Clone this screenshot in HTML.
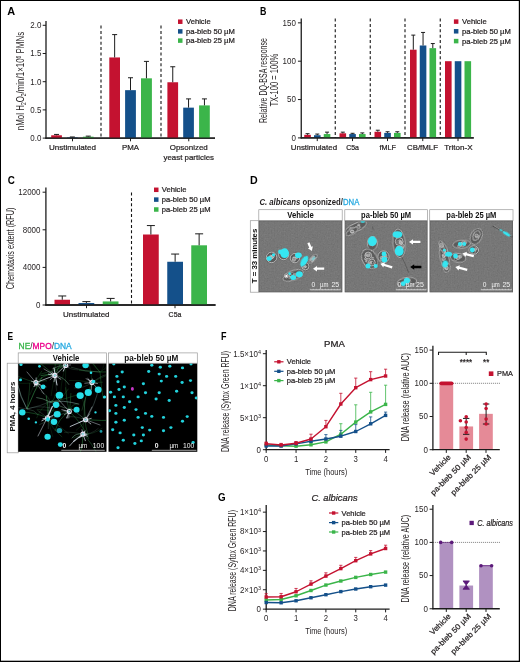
<!DOCTYPE html>
<html><head><meta charset="utf-8"><title>Figure</title>
<style>
html,body{margin:0;padding:0;background:#fff;}
body{width:520px;height:662px;overflow:hidden;font-family:"Liberation Sans",sans-serif;}
svg{display:block;will-change:transform;font-family:"Liberation Sans",sans-serif;}
</style></head><body>
<svg width="520" height="662" viewBox="0 0 520 662">
<rect x="0" y="0" width="520" height="662" fill="#fff"/>
<defs>
<filter id="b0" x="-30%" y="-30%" width="160%" height="160%"><feGaussianBlur stdDeviation="0.25"/></filter>
<filter id="b1" x="-30%" y="-30%" width="160%" height="160%"><feGaussianBlur stdDeviation="0.45"/></filter>
<filter id="b2" x="-30%" y="-30%" width="160%" height="160%"><feGaussianBlur stdDeviation="0.7"/></filter>
<filter id="noise" x="0" y="0" width="100%" height="100%"><feTurbulence type="fractalNoise" baseFrequency="0.7" numOctaves="2" seed="3" result="n"/><feColorMatrix in="n" type="matrix" values="0 0 0 0 0.52  0 0 0 0 0.52  0 0 0 0 0.52  0.11 0.11 0.11 0 -0.09" result="g"/><feComposite in="g" in2="SourceGraphic" operator="over"/></filter>
</defs>
<!--PANELS-->
<text x="7.2" y="15" font-size="10.5" text-anchor="start" font-weight="bold" font-style="normal" fill="#000" textLength="7.9" lengthAdjust="spacingAndGlyphs">A</text>
<line x1="46" y1="20.9" x2="46" y2="138.7" stroke="#1c1c1c" stroke-width="1.3"/>
<line x1="45.5" y1="138.1" x2="215" y2="138.1" stroke="#1c1c1c" stroke-width="1.3"/>
<line x1="42.7" y1="138.1" x2="46" y2="138.1" stroke="#1c1c1c" stroke-width="1.0"/>
<text x="41.4" y="140.95" font-size="8.4" text-anchor="end" font-weight="normal" font-style="normal" fill="#231f20" textLength="11.09" lengthAdjust="spacingAndGlyphs">0.0</text>
<line x1="42.7" y1="109.89999999999999" x2="46" y2="109.89999999999999" stroke="#1c1c1c" stroke-width="1.0"/>
<text x="41.4" y="112.74999999999999" font-size="8.4" text-anchor="end" font-weight="normal" font-style="normal" fill="#231f20" textLength="11.09" lengthAdjust="spacingAndGlyphs">0.5</text>
<line x1="42.7" y1="81.69999999999999" x2="46" y2="81.69999999999999" stroke="#1c1c1c" stroke-width="1.0"/>
<text x="41.4" y="84.54999999999998" font-size="8.4" text-anchor="end" font-weight="normal" font-style="normal" fill="#231f20" textLength="11.09" lengthAdjust="spacingAndGlyphs">1.0</text>
<line x1="42.7" y1="53.5" x2="46" y2="53.5" stroke="#1c1c1c" stroke-width="1.0"/>
<text x="41.4" y="56.35" font-size="8.4" text-anchor="end" font-weight="normal" font-style="normal" fill="#231f20" textLength="11.09" lengthAdjust="spacingAndGlyphs">1.5</text>
<line x1="42.7" y1="25.299999999999997" x2="46" y2="25.299999999999997" stroke="#1c1c1c" stroke-width="1.0"/>
<text x="41.4" y="28.15" font-size="8.4" text-anchor="end" font-weight="normal" font-style="normal" fill="#231f20" textLength="11.09" lengthAdjust="spacingAndGlyphs">2.0</text>
<text transform="translate(23.9,130.2) rotate(-90) scale(0.7214,1)" font-size="11" fill="#231f20">nMol H<tspan font-size="6.82" dy="1.6">2</tspan><tspan dy="-1.6">O</tspan><tspan font-size="6.82" dy="1.6">2</tspan><tspan dy="-1.6">/min/1×10</tspan><tspan font-size="6.82" dy="-3.3">6</tspan><tspan dy="3.3"> PMNs</tspan></text>
<line x1="101" y1="25.5" x2="101" y2="138.1" stroke="#141414" stroke-width="1.1" stroke-dasharray="3.0,2.4"/>
<line x1="161" y1="25.5" x2="161" y2="138.1" stroke="#141414" stroke-width="1.1" stroke-dasharray="3.0,2.4"/>
<rect x="51.20" y="135.28" width="10.70" height="2.82" fill="#C41230"/>
<line x1="56.55" y1="135.28" x2="56.55" y2="134.434" stroke="#1c1c1c" stroke-width="1.0"/>
<line x1="54.05" y1="134.434" x2="59.05" y2="134.434" stroke="#1c1c1c" stroke-width="1.0"/>
<rect x="67.00" y="137.42" width="10.70" height="0.68" fill="#14508A"/>
<line x1="72.35" y1="137.4232" x2="72.35" y2="136.972" stroke="#1c1c1c" stroke-width="1.0"/>
<line x1="69.85" y1="136.972" x2="74.85" y2="136.972" stroke="#1c1c1c" stroke-width="1.0"/>
<rect x="82.90" y="136.69" width="10.70" height="1.41" fill="#3BB54A"/>
<line x1="88.25" y1="136.69" x2="88.25" y2="136.126" stroke="#1c1c1c" stroke-width="1.0"/>
<line x1="85.75" y1="136.126" x2="90.75" y2="136.126" stroke="#1c1c1c" stroke-width="1.0"/>
<rect x="109.30" y="57.45" width="10.70" height="80.65" fill="#C41230"/>
<line x1="114.65" y1="57.44799999999999" x2="114.65" y2="34.605999999999995" stroke="#1c1c1c" stroke-width="1.0"/>
<line x1="112.15" y1="34.605999999999995" x2="117.15" y2="34.605999999999995" stroke="#1c1c1c" stroke-width="1.0"/>
<rect x="125.10" y="90.16" width="10.80" height="47.94" fill="#14508A"/>
<line x1="130.5" y1="90.16" x2="130.5" y2="77.752" stroke="#1c1c1c" stroke-width="1.0"/>
<line x1="128.0" y1="77.752" x2="133.0" y2="77.752" stroke="#1c1c1c" stroke-width="1.0"/>
<rect x="141.00" y="78.32" width="10.90" height="59.78" fill="#3BB54A"/>
<line x1="146.45" y1="78.316" x2="146.45" y2="61.39599999999999" stroke="#1c1c1c" stroke-width="1.0"/>
<line x1="143.95" y1="61.39599999999999" x2="148.95" y2="61.39599999999999" stroke="#1c1c1c" stroke-width="1.0"/>
<rect x="167.40" y="82.26" width="10.70" height="55.84" fill="#C41230"/>
<line x1="172.75" y1="82.264" x2="172.75" y2="66.754" stroke="#1c1c1c" stroke-width="1.0"/>
<line x1="170.25" y1="66.754" x2="175.25" y2="66.754" stroke="#1c1c1c" stroke-width="1.0"/>
<rect x="183.20" y="107.64" width="10.70" height="30.46" fill="#14508A"/>
<line x1="188.55" y1="107.64399999999999" x2="188.55" y2="98.902" stroke="#1c1c1c" stroke-width="1.0"/>
<line x1="186.05" y1="98.902" x2="191.05" y2="98.902" stroke="#1c1c1c" stroke-width="1.0"/>
<rect x="199.10" y="105.39" width="10.70" height="32.71" fill="#3BB54A"/>
<line x1="204.45" y1="105.388" x2="204.45" y2="98.902" stroke="#1c1c1c" stroke-width="1.0"/>
<line x1="201.95" y1="98.902" x2="206.95" y2="98.902" stroke="#1c1c1c" stroke-width="1.0"/>
<line x1="45.5" y1="138.1" x2="215" y2="138.1" stroke="#1c1c1c" stroke-width="1.3"/>
<line x1="72.5" y1="138.1" x2="72.5" y2="141.29999999999998" stroke="#1c1c1c" stroke-width="1.0"/>
<line x1="130.5" y1="138.1" x2="130.5" y2="141.29999999999998" stroke="#1c1c1c" stroke-width="1.0"/>
<line x1="188.75" y1="138.1" x2="188.75" y2="141.29999999999998" stroke="#1c1c1c" stroke-width="1.0"/>
<text x="72.5" y="150.1" font-size="8" text-anchor="middle" font-weight="normal" font-style="normal" fill="#231f20" textLength="47" lengthAdjust="spacingAndGlyphs" stroke="#231f20" stroke-width="0.22">Unstimulated</text>
<text x="130.5" y="150.1" font-size="8" text-anchor="middle" font-weight="normal" font-style="normal" fill="#231f20" textLength="17" lengthAdjust="spacingAndGlyphs" stroke="#231f20" stroke-width="0.22">PMA</text>
<text x="188.75" y="150.1" font-size="8" text-anchor="middle" font-weight="normal" font-style="normal" fill="#231f20" textLength="38" lengthAdjust="spacingAndGlyphs" stroke="#231f20" stroke-width="0.22">Opsonized</text>
<text x="188.75" y="159.6" font-size="8" text-anchor="middle" font-weight="normal" font-style="normal" fill="#231f20" textLength="50.5" lengthAdjust="spacingAndGlyphs" stroke="#231f20" stroke-width="0.22">yeast particles</text>
<rect x="178.00" y="19.45" width="4.50" height="4.50" fill="#C41230"/>
<text x="186" y="24.2" font-size="7.2" text-anchor="start" font-weight="normal" font-style="normal" fill="#231f20" textLength="24.644" lengthAdjust="spacingAndGlyphs" stroke="#231f20" stroke-width="0.22">Vehicle</text>
<rect x="178.00" y="29.15" width="4.50" height="4.50" fill="#14508A"/>
<text x="186" y="33.9" font-size="7.2" text-anchor="start" font-weight="normal" font-style="normal" fill="#231f20" textLength="48.8" lengthAdjust="spacingAndGlyphs" stroke="#231f20" stroke-width="0.22">pa-bleb 50 µM</text>
<rect x="178.00" y="38.35" width="4.50" height="4.50" fill="#3BB54A"/>
<text x="186" y="43.1" font-size="7.2" text-anchor="start" font-weight="normal" font-style="normal" fill="#231f20" textLength="48.8" lengthAdjust="spacingAndGlyphs" stroke="#231f20" stroke-width="0.22">pa-bleb 25 µM</text>
<text x="260" y="14.5" font-size="10.5" text-anchor="start" font-weight="bold" font-style="normal" fill="#000" textLength="6.4" lengthAdjust="spacingAndGlyphs">B</text>
<line x1="301.25" y1="18.5" x2="301.25" y2="138.4" stroke="#1c1c1c" stroke-width="1.3"/>
<line x1="300.75" y1="137.9" x2="473.75" y2="137.9" stroke="#1c1c1c" stroke-width="1.3"/>
<line x1="297.95" y1="137.9" x2="301.25" y2="137.9" stroke="#1c1c1c" stroke-width="1.0"/>
<text x="295.9" y="140.75" font-size="8.4" text-anchor="end" font-weight="normal" font-style="normal" fill="#231f20" textLength="4.44" lengthAdjust="spacingAndGlyphs">0</text>
<line x1="297.95" y1="99.55000000000001" x2="301.25" y2="99.55000000000001" stroke="#1c1c1c" stroke-width="1.0"/>
<text x="295.9" y="102.4" font-size="8.4" text-anchor="end" font-weight="normal" font-style="normal" fill="#231f20" textLength="8.88" lengthAdjust="spacingAndGlyphs">50</text>
<line x1="297.95" y1="61.2" x2="301.25" y2="61.2" stroke="#1c1c1c" stroke-width="1.0"/>
<text x="295.9" y="64.05" font-size="8.4" text-anchor="end" font-weight="normal" font-style="normal" fill="#231f20" textLength="13.31" lengthAdjust="spacingAndGlyphs">100</text>
<line x1="297.95" y1="22.85000000000001" x2="301.25" y2="22.85000000000001" stroke="#1c1c1c" stroke-width="1.0"/>
<text x="295.9" y="25.70000000000001" font-size="8.4" text-anchor="end" font-weight="normal" font-style="normal" fill="#231f20" textLength="13.31" lengthAdjust="spacingAndGlyphs">150</text>
<text x="0" y="0" transform="translate(266.6,123) rotate(-90)" font-size="11" text-anchor="start" font-weight="normal" font-style="normal" fill="#231f20" textLength="84.9" lengthAdjust="spacingAndGlyphs">Relative DQ-BSA response</text>
<text x="0" y="0" transform="translate(277.6,106.6) rotate(-90)" font-size="11" text-anchor="start" font-weight="normal" font-style="normal" fill="#231f20" textLength="52.7" lengthAdjust="spacingAndGlyphs">TX-100 = 100%</text>
<line x1="335.25" y1="18.5" x2="335.25" y2="137.9" stroke="#141414" stroke-width="1.1" stroke-dasharray="3.0,2.4"/>
<line x1="370.25" y1="18.5" x2="370.25" y2="137.9" stroke="#141414" stroke-width="1.1" stroke-dasharray="3.0,2.4"/>
<line x1="405" y1="18.5" x2="405" y2="137.9" stroke="#141414" stroke-width="1.1" stroke-dasharray="3.0,2.4"/>
<line x1="440.25" y1="18.5" x2="440.25" y2="137.9" stroke="#141414" stroke-width="1.1" stroke-dasharray="3.0,2.4"/>
<rect x="304.25" y="134.83" width="6.60" height="3.07" fill="#C41230"/>
<line x1="307.55" y1="134.832" x2="307.55" y2="133.6815" stroke="#1c1c1c" stroke-width="1.0"/>
<line x1="305.55" y1="133.6815" x2="309.55" y2="133.6815" stroke="#1c1c1c" stroke-width="1.0"/>
<rect x="314.00" y="135.22" width="6.60" height="2.68" fill="#14508A"/>
<line x1="317.3" y1="135.21550000000002" x2="317.3" y2="134.065" stroke="#1c1c1c" stroke-width="1.0"/>
<line x1="315.3" y1="134.065" x2="319.3" y2="134.065" stroke="#1c1c1c" stroke-width="1.0"/>
<rect x="323.75" y="134.06" width="6.60" height="3.84" fill="#3BB54A"/>
<line x1="327.05" y1="134.065" x2="327.05" y2="132.1475" stroke="#1c1c1c" stroke-width="1.0"/>
<line x1="325.05" y1="132.1475" x2="329.05" y2="132.1475" stroke="#1c1c1c" stroke-width="1.0"/>
<rect x="339.50" y="133.30" width="6.60" height="4.60" fill="#C41230"/>
<line x1="342.8" y1="133.298" x2="342.8" y2="132.1475" stroke="#1c1c1c" stroke-width="1.0"/>
<line x1="340.8" y1="132.1475" x2="344.8" y2="132.1475" stroke="#1c1c1c" stroke-width="1.0"/>
<rect x="349.25" y="134.06" width="6.60" height="3.84" fill="#14508A"/>
<line x1="352.55" y1="134.065" x2="352.55" y2="133.298" stroke="#1c1c1c" stroke-width="1.0"/>
<line x1="350.55" y1="133.298" x2="354.55" y2="133.298" stroke="#1c1c1c" stroke-width="1.0"/>
<rect x="359.00" y="134.06" width="6.60" height="3.84" fill="#3BB54A"/>
<line x1="362.3" y1="134.065" x2="362.3" y2="132.9145" stroke="#1c1c1c" stroke-width="1.0"/>
<line x1="360.3" y1="132.9145" x2="364.3" y2="132.9145" stroke="#1c1c1c" stroke-width="1.0"/>
<rect x="374.50" y="131.76" width="6.60" height="6.14" fill="#C41230"/>
<line x1="377.8" y1="131.764" x2="377.8" y2="130.23000000000002" stroke="#1c1c1c" stroke-width="1.0"/>
<line x1="375.8" y1="130.23000000000002" x2="379.8" y2="130.23000000000002" stroke="#1c1c1c" stroke-width="1.0"/>
<rect x="384.25" y="132.91" width="6.60" height="4.99" fill="#14508A"/>
<line x1="387.55" y1="132.9145" x2="387.55" y2="131.764" stroke="#1c1c1c" stroke-width="1.0"/>
<line x1="385.55" y1="131.764" x2="389.55" y2="131.764" stroke="#1c1c1c" stroke-width="1.0"/>
<rect x="394.00" y="132.91" width="6.60" height="4.99" fill="#3BB54A"/>
<line x1="397.3" y1="132.9145" x2="397.3" y2="131.764" stroke="#1c1c1c" stroke-width="1.0"/>
<line x1="395.3" y1="131.764" x2="399.3" y2="131.764" stroke="#1c1c1c" stroke-width="1.0"/>
<rect x="410.00" y="49.70" width="6.60" height="88.20" fill="#C41230"/>
<line x1="413.3" y1="49.69500000000001" x2="413.3" y2="35.122" stroke="#1c1c1c" stroke-width="1.0"/>
<line x1="411.3" y1="35.122" x2="415.3" y2="35.122" stroke="#1c1c1c" stroke-width="1.0"/>
<rect x="419.75" y="45.48" width="6.60" height="92.42" fill="#14508A"/>
<line x1="423.05" y1="45.4765" x2="423.05" y2="32.4375" stroke="#1c1c1c" stroke-width="1.0"/>
<line x1="421.05" y1="32.4375" x2="425.05" y2="32.4375" stroke="#1c1c1c" stroke-width="1.0"/>
<rect x="429.50" y="48.16" width="6.60" height="89.74" fill="#3BB54A"/>
<line x1="432.8" y1="48.161" x2="432.8" y2="43.559" stroke="#1c1c1c" stroke-width="1.0"/>
<line x1="430.8" y1="43.559" x2="434.8" y2="43.559" stroke="#1c1c1c" stroke-width="1.0"/>
<rect x="445.00" y="61.20" width="6.60" height="76.70" fill="#C41230"/>
<rect x="454.75" y="61.20" width="6.60" height="76.70" fill="#14508A"/>
<rect x="464.50" y="61.20" width="6.60" height="76.70" fill="#3BB54A"/>
<line x1="300.75" y1="137.9" x2="473.75" y2="137.9" stroke="#1c1c1c" stroke-width="1.3"/>
<line x1="317.25" y1="137.9" x2="317.25" y2="141.1" stroke="#1c1c1c" stroke-width="1.0"/>
<line x1="352.5" y1="137.9" x2="352.5" y2="141.1" stroke="#1c1c1c" stroke-width="1.0"/>
<line x1="387.5" y1="137.9" x2="387.5" y2="141.1" stroke="#1c1c1c" stroke-width="1.0"/>
<line x1="422.75" y1="137.9" x2="422.75" y2="141.1" stroke="#1c1c1c" stroke-width="1.0"/>
<line x1="458" y1="137.9" x2="458" y2="141.1" stroke="#1c1c1c" stroke-width="1.0"/>
<text x="313.9" y="150.1" font-size="8" text-anchor="middle" font-weight="normal" font-style="normal" fill="#231f20" textLength="46.3" lengthAdjust="spacingAndGlyphs" stroke="#231f20" stroke-width="0.22">Unstimulated</text>
<text x="352.6" y="150.1" font-size="8" text-anchor="middle" font-weight="normal" font-style="normal" fill="#231f20" textLength="12.8" lengthAdjust="spacingAndGlyphs" stroke="#231f20" stroke-width="0.22">C5a</text>
<text x="387.75" y="150.1" font-size="8" text-anchor="middle" font-weight="normal" font-style="normal" fill="#231f20" textLength="16.5" lengthAdjust="spacingAndGlyphs" stroke="#231f20" stroke-width="0.22">fMLF</text>
<text x="422.5" y="150.1" font-size="8" text-anchor="middle" font-weight="normal" font-style="normal" fill="#231f20" textLength="31" lengthAdjust="spacingAndGlyphs" stroke="#231f20" stroke-width="0.22">CB/fMLF</text>
<text x="458.4" y="150.1" font-size="8" text-anchor="middle" font-weight="normal" font-style="normal" fill="#231f20" textLength="28.3" lengthAdjust="spacingAndGlyphs" stroke="#231f20" stroke-width="0.22">Triton-X</text>
<rect x="453.90" y="19.35" width="4.50" height="4.50" fill="#C41230"/>
<text x="462" y="24.1" font-size="7.2" text-anchor="start" font-weight="normal" font-style="normal" fill="#231f20" textLength="24.644" lengthAdjust="spacingAndGlyphs" stroke="#231f20" stroke-width="0.22">Vehicle</text>
<rect x="453.90" y="29.05" width="4.50" height="4.50" fill="#14508A"/>
<text x="462" y="33.8" font-size="7.2" text-anchor="start" font-weight="normal" font-style="normal" fill="#231f20" textLength="48.8" lengthAdjust="spacingAndGlyphs" stroke="#231f20" stroke-width="0.22">pa-bleb 50 µM</text>
<rect x="453.90" y="38.85" width="4.50" height="4.50" fill="#3BB54A"/>
<text x="462" y="43.6" font-size="7.2" text-anchor="start" font-weight="normal" font-style="normal" fill="#231f20" textLength="48.8" lengthAdjust="spacingAndGlyphs" stroke="#231f20" stroke-width="0.22">pa-bleb 25 µM</text>
<text x="7.8" y="184.3" font-size="10.5" text-anchor="start" font-weight="bold" font-style="normal" fill="#000" textLength="7.1" lengthAdjust="spacingAndGlyphs">C</text>
<line x1="45.9" y1="187.4" x2="45.9" y2="305.6" stroke="#1c1c1c" stroke-width="1.3"/>
<line x1="45.4" y1="305.0" x2="215.5" y2="305.0" stroke="#1c1c1c" stroke-width="1.3"/>
<line x1="42.6" y1="305.0" x2="45.9" y2="305.0" stroke="#1c1c1c" stroke-width="1.0"/>
<text x="40.5" y="307.85" font-size="8.4" text-anchor="end" font-weight="normal" font-style="normal" fill="#231f20" textLength="4.44" lengthAdjust="spacingAndGlyphs">0</text>
<line x1="42.6" y1="267.4" x2="45.9" y2="267.4" stroke="#1c1c1c" stroke-width="1.0"/>
<text x="40.5" y="270.25" font-size="8.4" text-anchor="end" font-weight="normal" font-style="normal" fill="#231f20" textLength="17.75" lengthAdjust="spacingAndGlyphs">4000</text>
<line x1="42.6" y1="229.8" x2="45.9" y2="229.8" stroke="#1c1c1c" stroke-width="1.0"/>
<text x="40.5" y="232.65" font-size="8.4" text-anchor="end" font-weight="normal" font-style="normal" fill="#231f20" textLength="17.75" lengthAdjust="spacingAndGlyphs">8000</text>
<line x1="42.6" y1="192.2" x2="45.9" y2="192.2" stroke="#1c1c1c" stroke-width="1.0"/>
<text x="40.5" y="195.04999999999998" font-size="8.4" text-anchor="end" font-weight="normal" font-style="normal" fill="#231f20" textLength="22.19" lengthAdjust="spacingAndGlyphs">12000</text>
<text x="0" y="0" transform="translate(14.1,289.2) rotate(-90)" font-size="11" text-anchor="start" font-weight="normal" font-style="normal" fill="#231f20" textLength="81.5" lengthAdjust="spacingAndGlyphs">Chemotaxis extent (RFU)</text>
<line x1="131.5" y1="192.5" x2="131.5" y2="305.0" stroke="#141414" stroke-width="1.1" stroke-dasharray="3.0,2.4"/>
<rect x="54.50" y="299.74" width="15.50" height="5.26" fill="#C41230"/>
<line x1="62.25" y1="299.736" x2="62.25" y2="295.976" stroke="#1c1c1c" stroke-width="1.0"/>
<line x1="58.25" y1="295.976" x2="66.25" y2="295.976" stroke="#1c1c1c" stroke-width="1.0"/>
<rect x="78.50" y="303.03" width="15.75" height="1.97" fill="#14508A"/>
<line x1="86.375" y1="303.026" x2="86.375" y2="301.616" stroke="#1c1c1c" stroke-width="1.0"/>
<line x1="82.375" y1="301.616" x2="90.375" y2="301.616" stroke="#1c1c1c" stroke-width="1.0"/>
<rect x="102.75" y="301.43" width="15.75" height="3.57" fill="#3BB54A"/>
<line x1="110.625" y1="301.428" x2="110.625" y2="298.42" stroke="#1c1c1c" stroke-width="1.0"/>
<line x1="106.625" y1="298.42" x2="114.625" y2="298.42" stroke="#1c1c1c" stroke-width="1.0"/>
<rect x="143.00" y="234.50" width="15.75" height="70.50" fill="#C41230"/>
<line x1="150.875" y1="234.5" x2="150.875" y2="225.57" stroke="#1c1c1c" stroke-width="1.0"/>
<line x1="146.875" y1="225.57" x2="154.875" y2="225.57" stroke="#1c1c1c" stroke-width="1.0"/>
<rect x="167.25" y="261.76" width="15.75" height="43.24" fill="#14508A"/>
<line x1="175.125" y1="261.76" x2="175.125" y2="254.052" stroke="#1c1c1c" stroke-width="1.0"/>
<line x1="171.125" y1="254.052" x2="179.125" y2="254.052" stroke="#1c1c1c" stroke-width="1.0"/>
<rect x="191.25" y="245.31" width="15.75" height="59.69" fill="#3BB54A"/>
<line x1="199.125" y1="245.31" x2="199.125" y2="233.84199999999998" stroke="#1c1c1c" stroke-width="1.0"/>
<line x1="195.125" y1="233.84199999999998" x2="203.125" y2="233.84199999999998" stroke="#1c1c1c" stroke-width="1.0"/>
<line x1="45.4" y1="305.0" x2="215.5" y2="305.0" stroke="#1c1c1c" stroke-width="1.3"/>
<line x1="86.5" y1="305.0" x2="86.5" y2="308.2" stroke="#1c1c1c" stroke-width="1.0"/>
<line x1="175" y1="305.0" x2="175" y2="308.2" stroke="#1c1c1c" stroke-width="1.0"/>
<text x="86.25" y="316.7" font-size="8" text-anchor="middle" font-weight="normal" font-style="normal" fill="#231f20" textLength="46.5" lengthAdjust="spacingAndGlyphs" stroke="#231f20" stroke-width="0.22">Unstimulated</text>
<text x="175" y="316.7" font-size="8" text-anchor="middle" font-weight="normal" font-style="normal" fill="#231f20" textLength="12.8" lengthAdjust="spacingAndGlyphs" stroke="#231f20" stroke-width="0.22">C5a</text>
<rect x="154.00" y="187.55" width="4.50" height="4.50" fill="#C41230"/>
<text x="161.75" y="192.3" font-size="7.2" text-anchor="start" font-weight="normal" font-style="normal" fill="#231f20" textLength="24.644" lengthAdjust="spacingAndGlyphs" stroke="#231f20" stroke-width="0.22">Vehicle</text>
<rect x="154.00" y="197.35" width="4.50" height="4.50" fill="#14508A"/>
<text x="161.75" y="202.1" font-size="7.2" text-anchor="start" font-weight="normal" font-style="normal" fill="#231f20" textLength="48.8" lengthAdjust="spacingAndGlyphs" stroke="#231f20" stroke-width="0.22">pa-bleb 50 µM</text>
<rect x="154.00" y="207.25" width="4.50" height="4.50" fill="#3BB54A"/>
<text x="161.75" y="212.0" font-size="7.2" text-anchor="start" font-weight="normal" font-style="normal" fill="#231f20" textLength="48.8" lengthAdjust="spacingAndGlyphs" stroke="#231f20" stroke-width="0.22">pa-bleb 25 µM</text>
<text x="249.9" y="184.4" font-size="10.5" text-anchor="start" font-weight="bold" font-style="normal" fill="#000" textLength="7.7" lengthAdjust="spacingAndGlyphs">D</text>
<text transform="translate(259.4,205) scale(0.8432,1)" font-size="9.2" fill="#231f20"><tspan font-weight="bold" font-style="italic">C. albicans</tspan><tspan font-weight="bold"> opsonized/</tspan><tspan fill="#27aae1" stroke="#27aae1" stroke-width="0.3">DNA</tspan></text>
<rect x="250.3" y="220.7" width="8.5" height="71.5" fill="#fff" stroke="#9a9a9a" stroke-width="0.7"/>
<text x="0" y="0" transform="translate(257.1,283.3) rotate(-90)" font-size="7.6" text-anchor="start" font-weight="bold" font-style="normal" fill="#111" textLength="54.6" lengthAdjust="spacingAndGlyphs">T = 33 minutes</text>
<rect x="258.8" y="220.7" width="83.39999999999998" height="71.5" fill="#6e6e6e" filter="url(#noise)"/>
<g clip-path="url(#cd0)">
<clipPath id="cd0"><rect x="258.8" y="220.7" width="83.39999999999998" height="71.5"/></clipPath>
<ellipse cx="271.6" cy="257.4" rx="6.1000000000000005" ry="6.1000000000000005" transform="rotate(0 271.6 257.4)" fill="#5a5a5a" stroke="none" stroke-width="0.6" opacity="0.95" filter="url(#b1)"/>
<ellipse cx="271.6" cy="257.4" rx="5.300000000000001" ry="5.300000000000001" transform="rotate(0 271.6 257.4)" fill="none" stroke="#ffffff" stroke-width="0.65" opacity="0.85" filter="url(#b0)"/>
<ellipse cx="270.1" cy="257.9" rx="1.8166316424261022" ry="1.5178860168998674" transform="rotate(0 270.1 257.9)" fill="#7c7c7c" stroke="#ededed" stroke-width="0.4" opacity="0.85" filter="url(#b0)"/>
<ellipse cx="271.9" cy="257.0" rx="1.6842903439931534" ry="1.4972748558479974" transform="rotate(0 271.9 257.0)" fill="#7c7c7c" stroke="#ededed" stroke-width="0.4" opacity="0.85" filter="url(#b0)"/>
<ellipse cx="271.7" cy="257.1" rx="1.133741388886978" ry="0.9768407102006615" transform="rotate(0 271.7 257.1)" fill="#8e8e8e" stroke="#ededed" stroke-width="0.4" opacity="0.85" filter="url(#b0)"/>
<ellipse cx="273.0" cy="256.2" rx="1.4549801564247367" ry="1.4395971376855334" transform="rotate(0 273.0 256.2)" fill="#7c7c7c" stroke="#ededed" stroke-width="0.4" opacity="0.85" filter="url(#b0)"/>
<ellipse cx="270.6" cy="256.0" rx="0.9732435046541787" ry="0.9241049146625818" transform="rotate(0 270.6 256.0)" fill="#8e8e8e" stroke="#ededed" stroke-width="0.4" opacity="0.85" filter="url(#b0)"/>
<ellipse cx="271.7" cy="257.4" rx="1.7675214697877861" ry="1.2532165155479364" transform="rotate(0 271.7 257.4)" fill="#9c9c9c" stroke="#ededed" stroke-width="0.4" opacity="0.85" filter="url(#b0)"/>
<ellipse cx="270.4" cy="257.7" rx="1.7266698413703852" ry="1.3296975517801715" transform="rotate(0 270.4 257.7)" fill="#9c9c9c" stroke="#ededed" stroke-width="0.4" opacity="0.85" filter="url(#b0)"/>
<ellipse cx="283.7" cy="254.6" rx="5.9" ry="5.9" transform="rotate(0 283.7 254.6)" fill="#5a5a5a" stroke="none" stroke-width="0.6" opacity="0.95" filter="url(#b1)"/>
<ellipse cx="283.7" cy="254.6" rx="5.1000000000000005" ry="5.1000000000000005" transform="rotate(0 283.7 254.6)" fill="none" stroke="#ffffff" stroke-width="0.65" opacity="0.85" filter="url(#b0)"/>
<ellipse cx="283.7" cy="254.6" rx="0.8934876375128542" ry="0.7344768783100446" transform="rotate(0 283.7 254.6)" fill="#4a4a4a" stroke="#ededed" stroke-width="0.4" opacity="0.85" filter="url(#b0)"/>
<ellipse cx="281.3" cy="253.8" rx="0.8915238252177132" ry="0.7083898228077087" transform="rotate(0 281.3 253.8)" fill="#4a4a4a" stroke="#ededed" stroke-width="0.4" opacity="0.85" filter="url(#b0)"/>
<ellipse cx="283.8" cy="255.4" rx="0.8772458495159186" ry="0.7194468147646619" transform="rotate(0 283.8 255.4)" fill="#8e8e8e" stroke="#ededed" stroke-width="0.4" opacity="0.85" filter="url(#b0)"/>
<ellipse cx="284.3" cy="253.7" rx="1.8538466216517948" ry="1.4164324447661705" transform="rotate(0 284.3 253.7)" fill="#8e8e8e" stroke="#ededed" stroke-width="0.4" opacity="0.85" filter="url(#b0)"/>
<ellipse cx="283.8" cy="254.5" rx="1.2130095308899493" ry="1.0018699627341026" transform="rotate(0 283.8 254.5)" fill="#7c7c7c" stroke="#ededed" stroke-width="0.4" opacity="0.85" filter="url(#b0)"/>
<ellipse cx="283.2" cy="254.4" rx="1.542400085901865" ry="1.1200034258385763" transform="rotate(0 283.2 254.4)" fill="#4a4a4a" stroke="#ededed" stroke-width="0.4" opacity="0.85" filter="url(#b0)"/>
<ellipse cx="294.9" cy="258.1" rx="5.5" ry="5.5" transform="rotate(0 294.9 258.1)" fill="#5a5a5a" stroke="none" stroke-width="0.6" opacity="0.95" filter="url(#b1)"/>
<ellipse cx="294.9" cy="258.1" rx="4.7" ry="4.7" transform="rotate(0 294.9 258.1)" fill="none" stroke="#ffffff" stroke-width="0.65" opacity="0.85" filter="url(#b0)"/>
<ellipse cx="293.7" cy="260.2" rx="1.6338445686931347" ry="1.2096641109658406" transform="rotate(0 293.7 260.2)" fill="#8e8e8e" stroke="#ededed" stroke-width="0.4" opacity="0.85" filter="url(#b0)"/>
<ellipse cx="294.9" cy="258.1" rx="1.3114338306838547" ry="0.9879076139662744" transform="rotate(0 294.9 258.1)" fill="#7c7c7c" stroke="#ededed" stroke-width="0.4" opacity="0.85" filter="url(#b0)"/>
<ellipse cx="293.9" cy="257.7" rx="1.0097528568194027" ry="0.833822756988998" transform="rotate(0 293.9 257.7)" fill="#a6a6a6" stroke="#ededed" stroke-width="0.4" opacity="0.85" filter="url(#b0)"/>
<ellipse cx="294.2" cy="258.8" rx="1.889057471857609" ry="1.4752376955597921" transform="rotate(0 294.2 258.8)" fill="#8e8e8e" stroke="#ededed" stroke-width="0.4" opacity="0.85" filter="url(#b0)"/>
<ellipse cx="296.9" cy="257.7" rx="1.1345596648580885" ry="0.8659107608645112" transform="rotate(0 296.9 257.7)" fill="#8e8e8e" stroke="#ededed" stroke-width="0.4" opacity="0.85" filter="url(#b0)"/>
<ellipse cx="305.3" cy="266.2" rx="4.5" ry="4.5" transform="rotate(0 305.3 266.2)" fill="#5a5a5a" stroke="none" stroke-width="0.6" opacity="0.95" filter="url(#b1)"/>
<ellipse cx="305.3" cy="266.2" rx="3.6999999999999997" ry="3.6999999999999997" transform="rotate(0 305.3 266.2)" fill="none" stroke="#ffffff" stroke-width="0.65" opacity="0.85" filter="url(#b0)"/>
<ellipse cx="304.1" cy="267.2" rx="1.5060192222495066" ry="1.07323801166756" transform="rotate(0 304.1 267.2)" fill="#8e8e8e" stroke="#ededed" stroke-width="0.4" opacity="0.85" filter="url(#b0)"/>
<ellipse cx="305.8" cy="266.8" rx="0.8105327624824543" ry="0.6473616786785559" transform="rotate(0 305.8 266.8)" fill="#9c9c9c" stroke="#ededed" stroke-width="0.4" opacity="0.85" filter="url(#b0)"/>
<ellipse cx="305.3" cy="266.3" rx="0.8991288902581233" ry="0.8011024614253495" transform="rotate(0 305.3 266.3)" fill="#9c9c9c" stroke="#ededed" stroke-width="0.4" opacity="0.85" filter="url(#b0)"/>
<ellipse cx="313.1" cy="258.7" rx="6.7" ry="3.0" transform="rotate(-48 313.1 258.7)" fill="#5a5a5a" stroke="none" stroke-width="0.6" opacity="0.95" filter="url(#b1)"/>
<ellipse cx="313.1" cy="258.7" rx="5.9" ry="2.1999999999999997" transform="rotate(-48 313.1 258.7)" fill="none" stroke="#ffffff" stroke-width="0.65" opacity="0.85" filter="url(#b0)"/>
<ellipse cx="313.9" cy="257.8" rx="1.4843641556689806" ry="1.4661664474581289" transform="rotate(0 313.9 257.8)" fill="#a6a6a6" stroke="#ededed" stroke-width="0.4" opacity="0.85" filter="url(#b0)"/>
<ellipse cx="311.9" cy="260.1" rx="1.7531782345824445" ry="1.5571263835059557" transform="rotate(0 311.9 260.1)" fill="#a6a6a6" stroke="#ededed" stroke-width="0.4" opacity="0.85" filter="url(#b0)"/>
<ellipse cx="313.0" cy="259.0" rx="1.471489305603865" ry="1.1000011076617227" transform="rotate(0 313.0 259.0)" fill="#a6a6a6" stroke="#ededed" stroke-width="0.4" opacity="0.85" filter="url(#b0)"/>
<ellipse cx="293.2" cy="275.4" rx="11.7" ry="5.5" transform="rotate(-22 293.2 275.4)" fill="#5a5a5a" stroke="none" stroke-width="0.6" opacity="0.95" filter="url(#b1)"/>
<ellipse cx="293.2" cy="275.4" rx="10.9" ry="4.7" transform="rotate(-22 293.2 275.4)" fill="none" stroke="#ffffff" stroke-width="0.65" opacity="0.85" filter="url(#b0)"/>
<ellipse cx="290.5" cy="275.4" rx="1.5556714038934514" ry="1.5006891947814307" transform="rotate(0 290.5 275.4)" fill="#7c7c7c" stroke="#ededed" stroke-width="0.4" opacity="0.85" filter="url(#b0)"/>
<ellipse cx="290.9" cy="275.6" rx="0.9142236495014429" ry="0.7804788987195356" transform="rotate(0 290.9 275.6)" fill="#8e8e8e" stroke="#ededed" stroke-width="0.4" opacity="0.85" filter="url(#b0)"/>
<ellipse cx="293.7" cy="277.2" rx="1.2307720637521111" ry="1.1656831188873755" transform="rotate(0 293.7 277.2)" fill="#7c7c7c" stroke="#ededed" stroke-width="0.4" opacity="0.85" filter="url(#b0)"/>
<ellipse cx="291.6" cy="275.6" rx="0.9929767364424451" ry="0.7327374453117576" transform="rotate(0 291.6 275.6)" fill="#8e8e8e" stroke="#ededed" stroke-width="0.4" opacity="0.85" filter="url(#b0)"/>
<ellipse cx="289.4" cy="277.2" rx="1.4774576103369392" ry="1.1584240094711986" transform="rotate(0 289.4 277.2)" fill="#8e8e8e" stroke="#ededed" stroke-width="0.4" opacity="0.85" filter="url(#b0)"/>
<ellipse cx="294.2" cy="274.7" rx="0.8182322723870706" ry="0.6737553379956286" transform="rotate(0 294.2 274.7)" fill="#4a4a4a" stroke="#ededed" stroke-width="0.4" opacity="0.85" filter="url(#b0)"/>
<ellipse cx="293.2" cy="275.5" rx="1.1101580717091553" ry="0.9676702011625731" transform="rotate(0 293.2 275.5)" fill="#9c9c9c" stroke="#ededed" stroke-width="0.4" opacity="0.85" filter="url(#b0)"/>
<ellipse cx="294.9" cy="275.4" rx="1.7800342529667936" ry="1.5968324404743395" transform="rotate(0 294.9 275.4)" fill="#4a4a4a" stroke="#ededed" stroke-width="0.4" opacity="0.85" filter="url(#b0)"/>
<ellipse cx="291.4" cy="274.7" rx="0.9543819058601796" ry="0.9325038555864691" transform="rotate(0 291.4 274.7)" fill="#8e8e8e" stroke="#ededed" stroke-width="0.4" opacity="0.85" filter="url(#b0)"/>
<ellipse cx="291.1" cy="276.4" rx="1.1429851744998105" ry="0.8073792998043829" transform="rotate(0 291.1 276.4)" fill="#8e8e8e" stroke="#ededed" stroke-width="0.4" opacity="0.85" filter="url(#b0)"/>
<ellipse cx="291.0" cy="275.3" rx="1.6035477790398103" ry="1.1881996266822192" transform="rotate(0 291.0 275.3)" fill="#4a4a4a" stroke="#ededed" stroke-width="0.4" opacity="0.85" filter="url(#b0)"/>
<ellipse cx="295.8" cy="274.9" rx="1.2045534902118595" ry="1.1684876703382858" transform="rotate(0 295.8 274.9)" fill="#8e8e8e" stroke="#ededed" stroke-width="0.4" opacity="0.85" filter="url(#b0)"/>
<ellipse cx="292.2" cy="273.9" rx="1.6725933437028324" ry="1.3473579510339513" transform="rotate(0 292.2 273.9)" fill="#4a4a4a" stroke="#ededed" stroke-width="0.4" opacity="0.85" filter="url(#b0)"/>
<ellipse cx="286.3" cy="276.0" rx="2.7" ry="2.7" transform="rotate(0 286.3 276.0)" fill="#5a5a5a" stroke="none" stroke-width="0.6" opacity="0.95" filter="url(#b1)"/>
<ellipse cx="286.3" cy="276.0" rx="1.9" ry="1.9" transform="rotate(0 286.3 276.0)" fill="none" stroke="#ffffff" stroke-width="0.65" opacity="0.85" filter="url(#b0)"/>
<ellipse cx="286.1" cy="275.5" rx="1.7582113850342118" ry="1.7287996803473482" transform="rotate(0 286.1 275.5)" fill="#7c7c7c" stroke="#ededed" stroke-width="0.4" opacity="0.85" filter="url(#b0)"/>
<ellipse cx="286.6" cy="276.1" rx="0.8159857868213698" ry="0.6640108215621924" transform="rotate(0 286.6 276.1)" fill="#7c7c7c" stroke="#ededed" stroke-width="0.4" opacity="0.85" filter="url(#b0)"/>
<ellipse cx="269.2" cy="258.6" rx="2.6" ry="2.4" transform="rotate(0 269.2 258.6)" fill="#35e6f2" stroke="none" stroke-width="0.6" opacity="1" filter="url(#b1)"/>
<ellipse cx="273.5" cy="254.8" rx="1.6" ry="1.6" transform="rotate(0 273.5 254.8)" fill="#35e6f2" stroke="none" stroke-width="0.6" opacity="1" filter="url(#b1)"/>
<ellipse cx="284.6" cy="253.2" rx="4.3" ry="4.9" transform="rotate(0 284.6 253.2)" fill="#35e6f2" stroke="none" stroke-width="0.6" opacity="1" filter="url(#b1)"/>
<ellipse cx="280.3" cy="251.8" rx="2.2" ry="2.2" transform="rotate(0 280.3 251.8)" fill="#35e6f2" stroke="none" stroke-width="0.6" opacity="1" filter="url(#b1)"/>
<ellipse cx="298.4" cy="255.2" rx="3.4" ry="2.8" transform="rotate(0 298.4 255.2)" fill="#35e6f2" stroke="none" stroke-width="0.6" opacity="1" filter="url(#b1)"/>
<ellipse cx="304.2" cy="261.2" rx="6" ry="2.9" transform="rotate(-58 304.2 261.2)" fill="#35e6f2" stroke="none" stroke-width="0.6" opacity="1" filter="url(#b1)"/>
<ellipse cx="299.3" cy="274.2" rx="3.4" ry="3" transform="rotate(0 299.3 274.2)" fill="#35e6f2" stroke="none" stroke-width="0.6" opacity="1" filter="url(#b1)"/>
<ellipse cx="293.2" cy="277.6" rx="2.9" ry="2.5" transform="rotate(0 293.2 277.6)" fill="#35e6f2" stroke="none" stroke-width="0.6" opacity="1" filter="url(#b1)"/>
<ellipse cx="289.7" cy="273.7" rx="1.4" ry="1.4" transform="rotate(0 289.7 273.7)" fill="#35e6f2" stroke="none" stroke-width="0.6" opacity="1" filter="url(#b1)"/>
<ellipse cx="313.5" cy="258.5" rx="2.5" ry="1" transform="rotate(-48 313.5 258.5)" fill="#35e6f2" stroke="none" stroke-width="0.6" opacity="0.5" filter="url(#b1)"/>
<ellipse cx="286.3" cy="276.0" rx="1.1" ry="1.1" transform="rotate(0 286.3 276.0)" fill="#fff" stroke="none" stroke-width="0.6" opacity="1"/>
<line x1="308.40" y1="242.70" x2="310.53" y2="247.68" stroke="#fff" stroke-width="2.3"/>
<polygon points="311.90,250.90 307.85,248.28 312.81,246.16" fill="#fff"/>
<line x1="324.20" y1="268.70" x2="316.50" y2="268.70" stroke="#fff" stroke-width="2.3"/>
<polygon points="313.00,268.70 317.00,266.00 317.00,271.40" fill="#fff"/>
<text x="311.4" y="287.0" font-size="7.4" text-anchor="start" font-weight="normal" font-style="normal" fill="#f2f2f2" textLength="3.7" lengthAdjust="spacingAndGlyphs">0</text>
<text x="320.09999999999997" y="287.0" font-size="7.4" text-anchor="start" font-weight="normal" font-style="normal" fill="#f2f2f2" textLength="8.4" lengthAdjust="spacingAndGlyphs">µm</text>
<text x="339.2" y="287.0" font-size="7.4" text-anchor="end" font-weight="normal" font-style="normal" fill="#f2f2f2" textLength="7.8" lengthAdjust="spacingAndGlyphs">25</text>
<line x1="310.2" y1="289.8" x2="340.4" y2="289.8" stroke="#f2f2f2" stroke-width="0.7"/>
<line x1="310.2" y1="288.7" x2="310.2" y2="289.8" stroke="#f2f2f2" stroke-width="0.4"/>
<line x1="313.21999999999997" y1="288.7" x2="313.21999999999997" y2="289.8" stroke="#f2f2f2" stroke-width="0.4"/>
<line x1="316.24" y1="288.7" x2="316.24" y2="289.8" stroke="#f2f2f2" stroke-width="0.4"/>
<line x1="319.26" y1="288.7" x2="319.26" y2="289.8" stroke="#f2f2f2" stroke-width="0.4"/>
<line x1="322.28" y1="288.7" x2="322.28" y2="289.8" stroke="#f2f2f2" stroke-width="0.4"/>
<line x1="325.29999999999995" y1="288.7" x2="325.29999999999995" y2="289.8" stroke="#f2f2f2" stroke-width="0.4"/>
<line x1="328.32" y1="288.7" x2="328.32" y2="289.8" stroke="#f2f2f2" stroke-width="0.4"/>
<line x1="331.34" y1="288.7" x2="331.34" y2="289.8" stroke="#f2f2f2" stroke-width="0.4"/>
<line x1="334.35999999999996" y1="288.7" x2="334.35999999999996" y2="289.8" stroke="#f2f2f2" stroke-width="0.4"/>
<line x1="337.38" y1="288.7" x2="337.38" y2="289.8" stroke="#f2f2f2" stroke-width="0.4"/>
<line x1="340.4" y1="288.7" x2="340.4" y2="289.8" stroke="#f2f2f2" stroke-width="0.4"/>
</g>
<rect x="258.8" y="209.7" width="83.39999999999998" height="11.0" fill="#fff" stroke="#9a9a9a" stroke-width="0.7"/>
<rect x="259.1" y="221.0" width="82.79999999999998" height="70.9" fill="none" stroke="#5c5c5c" stroke-width="0.6"/>
<text x="300.5" y="218.4" font-size="8.5" text-anchor="middle" font-weight="bold" font-style="normal" fill="#111" textLength="26.5" lengthAdjust="spacingAndGlyphs">Vehicle</text>
<rect x="344.8" y="220.7" width="82.59999999999997" height="71.5" fill="#6e6e6e" filter="url(#noise)"/>
<g clip-path="url(#cd1)">
<clipPath id="cd1"><rect x="344.8" y="220.7" width="82.59999999999997" height="71.5"/></clipPath>
<ellipse cx="355.8" cy="227.5" rx="12.7" ry="4.9" transform="rotate(-25 355.8 227.5)" fill="#5a5a5a" stroke="none" stroke-width="0.6" opacity="0.95" filter="url(#b1)"/>
<ellipse cx="355.8" cy="227.5" rx="11.9" ry="4.1000000000000005" transform="rotate(-25 355.8 227.5)" fill="none" stroke="#ffffff" stroke-width="0.65" opacity="0.85" filter="url(#b0)"/>
<ellipse cx="356.3" cy="227.3" rx="0.8997132756065186" ry="0.8979108407978366" transform="rotate(0 356.3 227.3)" fill="#8e8e8e" stroke="#ededed" stroke-width="0.4" opacity="0.85" filter="url(#b0)"/>
<ellipse cx="358.8" cy="225.0" rx="1.2272799650406585" ry="1.0276343294123969" transform="rotate(0 358.8 225.0)" fill="#9c9c9c" stroke="#ededed" stroke-width="0.4" opacity="0.85" filter="url(#b0)"/>
<ellipse cx="352.5" cy="229.3" rx="1.3705668548139274" ry="0.9716454844833405" transform="rotate(0 352.5 229.3)" fill="#9c9c9c" stroke="#ededed" stroke-width="0.4" opacity="0.85" filter="url(#b0)"/>
<ellipse cx="353.0" cy="228.1" rx="1.0532438080991458" ry="0.8943884932670099" transform="rotate(0 353.0 228.1)" fill="#8e8e8e" stroke="#ededed" stroke-width="0.4" opacity="0.85" filter="url(#b0)"/>
<ellipse cx="350.8" cy="228.4" rx="1.0814132421170197" ry="0.8763615084016982" transform="rotate(0 350.8 228.4)" fill="#8e8e8e" stroke="#ededed" stroke-width="0.4" opacity="0.85" filter="url(#b0)"/>
<ellipse cx="358.7" cy="227.3" rx="1.3702340825391401" ry="1.2304660973400015" transform="rotate(0 358.7 227.3)" fill="#4a4a4a" stroke="#ededed" stroke-width="0.4" opacity="0.85" filter="url(#b0)"/>
<ellipse cx="350.7" cy="230.6" rx="1.1596566807123487" ry="0.8808192422849955" transform="rotate(0 350.7 230.6)" fill="#4a4a4a" stroke="#ededed" stroke-width="0.4" opacity="0.85" filter="url(#b0)"/>
<ellipse cx="351.4" cy="230.3" rx="1.8056433187449057" ry="1.4721872310351118" transform="rotate(0 351.4 230.3)" fill="#a6a6a6" stroke="#ededed" stroke-width="0.4" opacity="0.85" filter="url(#b0)"/>
<ellipse cx="353.9" cy="228.0" rx="0.949793959021628" ry="0.7647964559369319" transform="rotate(0 353.9 228.0)" fill="#7c7c7c" stroke="#ededed" stroke-width="0.4" opacity="0.85" filter="url(#b0)"/>
<ellipse cx="356.0" cy="227.4" rx="0.870552917160095" ry="0.8240282078964609" transform="rotate(0 356.0 227.4)" fill="#4a4a4a" stroke="#ededed" stroke-width="0.4" opacity="0.85" filter="url(#b0)"/>
<ellipse cx="358.4" cy="227.0" rx="1.8183050560615093" ry="1.481490285791075" transform="rotate(0 358.4 227.0)" fill="#7c7c7c" stroke="#ededed" stroke-width="0.4" opacity="0.85" filter="url(#b0)"/>
<ellipse cx="351.4" cy="229.4" rx="1.5879042433428037" ry="1.3270801759987956" transform="rotate(0 351.4 229.4)" fill="#9c9c9c" stroke="#ededed" stroke-width="0.4" opacity="0.85" filter="url(#b0)"/>
<ellipse cx="352.0" cy="231.5" rx="7.7" ry="3.5" transform="rotate(-30 352.0 231.5)" fill="#5a5a5a" stroke="none" stroke-width="0.6" opacity="0.95" filter="url(#b1)"/>
<ellipse cx="352.0" cy="231.5" rx="6.9" ry="2.6999999999999997" transform="rotate(-30 352.0 231.5)" fill="none" stroke="#ffffff" stroke-width="0.65" opacity="0.85" filter="url(#b0)"/>
<ellipse cx="352.1" cy="231.5" rx="1.7601119597875325" ry="1.5902196419810601" transform="rotate(0 352.1 231.5)" fill="#8e8e8e" stroke="#ededed" stroke-width="0.4" opacity="0.85" filter="url(#b0)"/>
<ellipse cx="352.0" cy="232.0" rx="1.5142150019903844" ry="1.0686333197861144" transform="rotate(0 352.0 232.0)" fill="#9c9c9c" stroke="#ededed" stroke-width="0.4" opacity="0.85" filter="url(#b0)"/>
<ellipse cx="353.2" cy="231.3" rx="0.8271991591612581" ry="0.6379547711709334" transform="rotate(0 353.2 231.3)" fill="#4a4a4a" stroke="#ededed" stroke-width="0.4" opacity="0.85" filter="url(#b0)"/>
<ellipse cx="352.1" cy="231.5" rx="1.4920983361217028" ry="1.093269493258625" transform="rotate(0 352.1 231.5)" fill="#7c7c7c" stroke="#ededed" stroke-width="0.4" opacity="0.85" filter="url(#b0)"/>
<ellipse cx="372.3" cy="243.4" rx="5.9" ry="7.9" transform="rotate(5 372.3 243.4)" fill="#5a5a5a" stroke="none" stroke-width="0.6" opacity="0.95" filter="url(#b1)"/>
<ellipse cx="372.3" cy="243.4" rx="5.1000000000000005" ry="7.1000000000000005" transform="rotate(5 372.3 243.4)" fill="none" stroke="#ffffff" stroke-width="0.65" opacity="0.85" filter="url(#b0)"/>
<ellipse cx="370.7" cy="242.7" rx="1.205551409380933" ry="1.0914433449551773" transform="rotate(0 370.7 242.7)" fill="#8e8e8e" stroke="#ededed" stroke-width="0.4" opacity="0.85" filter="url(#b0)"/>
<ellipse cx="372.5" cy="245.2" rx="0.9965547046485931" ry="0.9233231694008225" transform="rotate(0 372.5 245.2)" fill="#8e8e8e" stroke="#ededed" stroke-width="0.4" opacity="0.85" filter="url(#b0)"/>
<ellipse cx="372.2" cy="243.4" rx="1.0491022758155348" ry="0.9042283210561208" transform="rotate(0 372.2 243.4)" fill="#4a4a4a" stroke="#ededed" stroke-width="0.4" opacity="0.85" filter="url(#b0)"/>
<ellipse cx="373.6" cy="242.9" rx="1.8964896502481963" ry="1.551432581910789" transform="rotate(0 373.6 242.9)" fill="#a6a6a6" stroke="#ededed" stroke-width="0.4" opacity="0.85" filter="url(#b0)"/>
<ellipse cx="373.2" cy="239.9" rx="0.8959306258822265" ry="0.6620685211849812" transform="rotate(0 373.2 239.9)" fill="#7c7c7c" stroke="#ededed" stroke-width="0.4" opacity="0.85" filter="url(#b0)"/>
<ellipse cx="370.6" cy="244.0" rx="1.8009618945971073" ry="1.5578391001690741" transform="rotate(0 370.6 244.0)" fill="#7c7c7c" stroke="#ededed" stroke-width="0.4" opacity="0.85" filter="url(#b0)"/>
<ellipse cx="371.7" cy="241.7" rx="1.7013949568471596" ry="1.4276614691052978" transform="rotate(0 371.7 241.7)" fill="#4a4a4a" stroke="#ededed" stroke-width="0.4" opacity="0.85" filter="url(#b0)"/>
<ellipse cx="372.0" cy="242.7" rx="1.5941292163191303" ry="1.2178971439876087" transform="rotate(0 372.0 242.7)" fill="#8e8e8e" stroke="#ededed" stroke-width="0.4" opacity="0.85" filter="url(#b0)"/>
<ellipse cx="374.7" cy="241.3" rx="1.8750943745735535" ry="1.8620147948508219" transform="rotate(0 374.7 241.3)" fill="#9c9c9c" stroke="#ededed" stroke-width="0.4" opacity="0.85" filter="url(#b0)"/>
<ellipse cx="369.7" cy="258.9" rx="8.299999999999999" ry="11.299999999999999" transform="rotate(-30 369.7 258.9)" fill="#5a5a5a" stroke="none" stroke-width="0.6" opacity="0.95" filter="url(#b1)"/>
<ellipse cx="369.7" cy="258.9" rx="7.5" ry="10.5" transform="rotate(-30 369.7 258.9)" fill="none" stroke="#ffffff" stroke-width="0.65" opacity="0.85" filter="url(#b0)"/>
<ellipse cx="370.2" cy="257.8" rx="1.5900950442356006" ry="1.2793143275560528" transform="rotate(0 370.2 257.8)" fill="#8e8e8e" stroke="#ededed" stroke-width="0.4" opacity="0.85" filter="url(#b0)"/>
<ellipse cx="371.8" cy="259.3" rx="1.405332120236447" ry="1.189240169472481" transform="rotate(0 371.8 259.3)" fill="#4a4a4a" stroke="#ededed" stroke-width="0.4" opacity="0.85" filter="url(#b0)"/>
<ellipse cx="373.1" cy="258.0" rx="0.8704625477777997" ry="0.6544737114666987" transform="rotate(0 373.1 258.0)" fill="#8e8e8e" stroke="#ededed" stroke-width="0.4" opacity="0.85" filter="url(#b0)"/>
<ellipse cx="370.3" cy="263.4" rx="0.954550218713419" ry="0.9544997903767379" transform="rotate(0 370.3 263.4)" fill="#a6a6a6" stroke="#ededed" stroke-width="0.4" opacity="0.85" filter="url(#b0)"/>
<ellipse cx="370.3" cy="256.4" rx="1.5456749190264096" ry="1.5205178526764374" transform="rotate(0 370.3 256.4)" fill="#7c7c7c" stroke="#ededed" stroke-width="0.4" opacity="0.85" filter="url(#b0)"/>
<ellipse cx="366.3" cy="261.2" rx="0.8946258584679894" ry="0.7441736122237647" transform="rotate(0 366.3 261.2)" fill="#a6a6a6" stroke="#ededed" stroke-width="0.4" opacity="0.85" filter="url(#b0)"/>
<ellipse cx="365.9" cy="258.9" rx="1.4176842771676053" ry="1.2147212486684138" transform="rotate(0 365.9 258.9)" fill="#a6a6a6" stroke="#ededed" stroke-width="0.4" opacity="0.85" filter="url(#b0)"/>
<ellipse cx="369.4" cy="255.7" rx="1.1428673188271263" ry="1.1273647479841287" transform="rotate(0 369.4 255.7)" fill="#7c7c7c" stroke="#ededed" stroke-width="0.4" opacity="0.85" filter="url(#b0)"/>
<ellipse cx="369.9" cy="255.6" rx="1.1349016266751912" ry="1.1241565024747309" transform="rotate(0 369.9 255.6)" fill="#a6a6a6" stroke="#ededed" stroke-width="0.4" opacity="0.85" filter="url(#b0)"/>
<ellipse cx="367.3" cy="259.6" rx="1.021063948066472" ry="0.7497511107184268" transform="rotate(0 367.3 259.6)" fill="#9c9c9c" stroke="#ededed" stroke-width="0.4" opacity="0.85" filter="url(#b0)"/>
<ellipse cx="371.1" cy="258.2" rx="1.392153472202609" ry="1.1900202102945434" transform="rotate(0 371.1 258.2)" fill="#8e8e8e" stroke="#ededed" stroke-width="0.4" opacity="0.85" filter="url(#b0)"/>
<ellipse cx="368.7" cy="262.8" rx="1.419153357551426" ry="1.0330962593296995" transform="rotate(0 368.7 262.8)" fill="#7c7c7c" stroke="#ededed" stroke-width="0.4" opacity="0.85" filter="url(#b0)"/>
<ellipse cx="373.9" cy="262.3" rx="1.3048283394809923" ry="1.0187631724261268" transform="rotate(0 373.9 262.3)" fill="#7c7c7c" stroke="#ededed" stroke-width="0.4" opacity="0.85" filter="url(#b0)"/>
<ellipse cx="369.3" cy="259.3" rx="1.2770453497095717" ry="1.095059408656593" transform="rotate(0 369.3 259.3)" fill="#7c7c7c" stroke="#ededed" stroke-width="0.4" opacity="0.85" filter="url(#b0)"/>
<ellipse cx="371.7" cy="259.6" rx="0.8323557579353285" ry="0.6149764255924951" transform="rotate(0 371.7 259.6)" fill="#4a4a4a" stroke="#ededed" stroke-width="0.4" opacity="0.85" filter="url(#b0)"/>
<ellipse cx="369.6" cy="258.8" rx="1.0135172625711706" ry="0.7130598878821841" transform="rotate(0 369.6 258.8)" fill="#a6a6a6" stroke="#ededed" stroke-width="0.4" opacity="0.85" filter="url(#b0)"/>
<ellipse cx="371.3" cy="263.1" rx="1.0689133255313557" ry="0.7818733828176528" transform="rotate(0 371.3 263.1)" fill="#7c7c7c" stroke="#ededed" stroke-width="0.4" opacity="0.85" filter="url(#b0)"/>
<ellipse cx="369.3" cy="258.3" rx="1.3615159592470416" ry="1.2462076322146651" transform="rotate(0 369.3 258.3)" fill="#4a4a4a" stroke="#ededed" stroke-width="0.4" opacity="0.85" filter="url(#b0)"/>
<ellipse cx="366.1" cy="254.9" rx="0.8255750098326043" ry="0.7822768414889916" transform="rotate(0 366.1 254.9)" fill="#7c7c7c" stroke="#ededed" stroke-width="0.4" opacity="0.85" filter="url(#b0)"/>
<ellipse cx="367.1" cy="257.8" rx="1.7502229630533344" ry="1.5603940418628786" transform="rotate(0 367.1 257.8)" fill="#9c9c9c" stroke="#ededed" stroke-width="0.4" opacity="0.85" filter="url(#b0)"/>
<ellipse cx="368.2" cy="255.5" rx="4.2" ry="4.2" transform="rotate(0 368.2 255.5)" fill="#5a5a5a" stroke="none" stroke-width="0.6" opacity="0.95" filter="url(#b1)"/>
<ellipse cx="368.2" cy="255.5" rx="3.4" ry="3.4" transform="rotate(0 368.2 255.5)" fill="none" stroke="#ffffff" stroke-width="0.65" opacity="0.85" filter="url(#b0)"/>
<ellipse cx="366.8" cy="255.2" rx="1.4728822555043481" ry="1.1338211044667188" transform="rotate(0 366.8 255.2)" fill="#a6a6a6" stroke="#ededed" stroke-width="0.4" opacity="0.85" filter="url(#b0)"/>
<ellipse cx="368.1" cy="254.2" rx="1.7929452829006944" ry="1.579474078143727" transform="rotate(0 368.1 254.2)" fill="#4a4a4a" stroke="#ededed" stroke-width="0.4" opacity="0.85" filter="url(#b0)"/>
<ellipse cx="368.4" cy="255.3" rx="1.6561460167034656" ry="1.6002718019090745" transform="rotate(0 368.4 255.3)" fill="#a6a6a6" stroke="#ededed" stroke-width="0.4" opacity="0.85" filter="url(#b0)"/>
<ellipse cx="371.8" cy="262.5" rx="4.2" ry="4.2" transform="rotate(0 371.8 262.5)" fill="#5a5a5a" stroke="none" stroke-width="0.6" opacity="0.95" filter="url(#b1)"/>
<ellipse cx="371.8" cy="262.5" rx="3.4" ry="3.4" transform="rotate(0 371.8 262.5)" fill="none" stroke="#ffffff" stroke-width="0.65" opacity="0.85" filter="url(#b0)"/>
<ellipse cx="372.1" cy="262.8" rx="1.599234158523074" ry="1.3055662802810315" transform="rotate(0 372.1 262.8)" fill="#4a4a4a" stroke="#ededed" stroke-width="0.4" opacity="0.85" filter="url(#b0)"/>
<ellipse cx="370.4" cy="263.1" rx="1.3976044391760931" ry="1.0624501581348045" transform="rotate(0 370.4 263.1)" fill="#a6a6a6" stroke="#ededed" stroke-width="0.4" opacity="0.85" filter="url(#b0)"/>
<ellipse cx="370.9" cy="261.6" rx="0.9056625188963672" ry="0.8193664126097149" transform="rotate(0 370.9 261.6)" fill="#9c9c9c" stroke="#ededed" stroke-width="0.4" opacity="0.85" filter="url(#b0)"/>
<ellipse cx="383.5" cy="256.9" rx="6.5" ry="6.9" transform="rotate(0 383.5 256.9)" fill="#5a5a5a" stroke="none" stroke-width="0.6" opacity="0.95" filter="url(#b1)"/>
<ellipse cx="383.5" cy="256.9" rx="5.7" ry="6.1000000000000005" transform="rotate(0 383.5 256.9)" fill="none" stroke="#ffffff" stroke-width="0.65" opacity="0.85" filter="url(#b0)"/>
<ellipse cx="386.1" cy="255.2" rx="0.9269512681304128" ry="0.8253559955307673" transform="rotate(0 386.1 255.2)" fill="#9c9c9c" stroke="#ededed" stroke-width="0.4" opacity="0.85" filter="url(#b0)"/>
<ellipse cx="381.8" cy="259.7" rx="1.7162439808838665" ry="1.4495775562622506" transform="rotate(0 381.8 259.7)" fill="#8e8e8e" stroke="#ededed" stroke-width="0.4" opacity="0.85" filter="url(#b0)"/>
<ellipse cx="385.8" cy="257.3" rx="1.4746998017006123" ry="1.2452115527763525" transform="rotate(0 385.8 257.3)" fill="#9c9c9c" stroke="#ededed" stroke-width="0.4" opacity="0.85" filter="url(#b0)"/>
<ellipse cx="383.6" cy="257.3" rx="0.9897408189195075" ry="0.986861082942753" transform="rotate(0 383.6 257.3)" fill="#a6a6a6" stroke="#ededed" stroke-width="0.4" opacity="0.85" filter="url(#b0)"/>
<ellipse cx="383.8" cy="256.8" rx="0.868139589934761" ry="0.6279094794248431" transform="rotate(0 383.8 256.8)" fill="#7c7c7c" stroke="#ededed" stroke-width="0.4" opacity="0.85" filter="url(#b0)"/>
<ellipse cx="384.5" cy="257.7" rx="1.2690877502174365" ry="1.0521046788865405" transform="rotate(0 384.5 257.7)" fill="#4a4a4a" stroke="#ededed" stroke-width="0.4" opacity="0.85" filter="url(#b0)"/>
<ellipse cx="383.5" cy="256.9" rx="1.5711330998313828" ry="1.1852325756876414" transform="rotate(0 383.5 256.9)" fill="#a6a6a6" stroke="#ededed" stroke-width="0.4" opacity="0.85" filter="url(#b0)"/>
<ellipse cx="381.3" cy="257.6" rx="1.245832301035887" ry="1.0981534325204105" transform="rotate(0 381.3 257.6)" fill="#a6a6a6" stroke="#ededed" stroke-width="0.4" opacity="0.85" filter="url(#b0)"/>
<ellipse cx="399.1" cy="243.3" rx="7.0" ry="15.299999999999999" transform="rotate(-5 399.1 243.3)" fill="#5a5a5a" stroke="none" stroke-width="0.6" opacity="0.95" filter="url(#b1)"/>
<ellipse cx="399.1" cy="243.3" rx="6.2" ry="14.5" transform="rotate(-5 399.1 243.3)" fill="none" stroke="#ffffff" stroke-width="0.65" opacity="0.85" filter="url(#b0)"/>
<ellipse cx="401.7" cy="247.0" rx="1.1560663885064684" ry="1.0872941368166047" transform="rotate(0 401.7 247.0)" fill="#8e8e8e" stroke="#ededed" stroke-width="0.4" opacity="0.85" filter="url(#b0)"/>
<ellipse cx="397.6" cy="236.1" rx="1.4923249604817124" ry="1.2996735496328615" transform="rotate(0 397.6 236.1)" fill="#7c7c7c" stroke="#ededed" stroke-width="0.4" opacity="0.85" filter="url(#b0)"/>
<ellipse cx="400.2" cy="248.0" rx="1.1750720000662171" ry="0.9210857447360628" transform="rotate(0 400.2 248.0)" fill="#4a4a4a" stroke="#ededed" stroke-width="0.4" opacity="0.85" filter="url(#b0)"/>
<ellipse cx="401.4" cy="247.5" rx="0.9760406449147008" ry="0.7222354436347878" transform="rotate(0 401.4 247.5)" fill="#7c7c7c" stroke="#ededed" stroke-width="0.4" opacity="0.85" filter="url(#b0)"/>
<ellipse cx="398.6" cy="247.5" rx="1.2068548995554207" ry="1.1218545897078884" transform="rotate(0 398.6 247.5)" fill="#7c7c7c" stroke="#ededed" stroke-width="0.4" opacity="0.85" filter="url(#b0)"/>
<ellipse cx="397.4" cy="247.0" rx="0.8776068201442533" ry="0.693754179817923" transform="rotate(0 397.4 247.0)" fill="#4a4a4a" stroke="#ededed" stroke-width="0.4" opacity="0.85" filter="url(#b0)"/>
<ellipse cx="402.0" cy="247.7" rx="1.8896369971527402" ry="1.3508465818986035" transform="rotate(0 402.0 247.7)" fill="#9c9c9c" stroke="#ededed" stroke-width="0.4" opacity="0.85" filter="url(#b0)"/>
<ellipse cx="399.4" cy="251.7" rx="1.1287530084818391" ry="1.013539348144692" transform="rotate(0 399.4 251.7)" fill="#a6a6a6" stroke="#ededed" stroke-width="0.4" opacity="0.85" filter="url(#b0)"/>
<ellipse cx="397.3" cy="241.5" rx="1.2285534818930024" ry="1.0967046044331088" transform="rotate(0 397.3 241.5)" fill="#7c7c7c" stroke="#ededed" stroke-width="0.4" opacity="0.85" filter="url(#b0)"/>
<ellipse cx="397.8" cy="237.0" rx="1.878095381948385" ry="1.3793307053333097" transform="rotate(0 397.8 237.0)" fill="#8e8e8e" stroke="#ededed" stroke-width="0.4" opacity="0.85" filter="url(#b0)"/>
<ellipse cx="399.8" cy="244.6" rx="1.288011126530999" ry="0.9211045154805737" transform="rotate(0 399.8 244.6)" fill="#9c9c9c" stroke="#ededed" stroke-width="0.4" opacity="0.85" filter="url(#b0)"/>
<ellipse cx="399.8" cy="246.4" rx="0.9082939996154112" ry="0.7109285333722503" transform="rotate(0 399.8 246.4)" fill="#4a4a4a" stroke="#ededed" stroke-width="0.4" opacity="0.85" filter="url(#b0)"/>
<ellipse cx="398.4" cy="247.4" rx="1.2572559808481478" ry="1.0943074993054802" transform="rotate(0 398.4 247.4)" fill="#9c9c9c" stroke="#ededed" stroke-width="0.4" opacity="0.85" filter="url(#b0)"/>
<ellipse cx="401.3" cy="242.9" rx="1.6904810436749473" ry="1.461969727785004" transform="rotate(0 401.3 242.9)" fill="#8e8e8e" stroke="#ededed" stroke-width="0.4" opacity="0.85" filter="url(#b0)"/>
<ellipse cx="396.9" cy="236.1" rx="1.2250653395292848" ry="0.9993724645076256" transform="rotate(0 396.9 236.1)" fill="#a6a6a6" stroke="#ededed" stroke-width="0.4" opacity="0.85" filter="url(#b0)"/>
<ellipse cx="401.9" cy="241.6" rx="1.3961490643940029" ry="1.0018257450527077" transform="rotate(0 401.9 241.6)" fill="#9c9c9c" stroke="#ededed" stroke-width="0.4" opacity="0.85" filter="url(#b0)"/>
<ellipse cx="400.4" cy="241.9" rx="1.379434065807048" ry="1.094882153264698" transform="rotate(0 400.4 241.9)" fill="#9c9c9c" stroke="#ededed" stroke-width="0.4" opacity="0.85" filter="url(#b0)"/>
<ellipse cx="397.4" cy="242.6" rx="1.0967313879483094" ry="0.9860468794517471" transform="rotate(0 397.4 242.6)" fill="#4a4a4a" stroke="#ededed" stroke-width="0.4" opacity="0.85" filter="url(#b0)"/>
<ellipse cx="399.1" cy="243.1" rx="1.6497367670351646" ry="1.1759854947287176" transform="rotate(0 399.1 243.1)" fill="#9c9c9c" stroke="#ededed" stroke-width="0.4" opacity="0.85" filter="url(#b0)"/>
<ellipse cx="401.0" cy="248.7" rx="1.228951114103724" ry="1.1361762861059785" transform="rotate(0 401.0 248.7)" fill="#4a4a4a" stroke="#ededed" stroke-width="0.4" opacity="0.85" filter="url(#b0)"/>
<ellipse cx="402.6" cy="245.7" rx="1.8389030736026453" ry="1.7272402551380615" transform="rotate(0 402.6 245.7)" fill="#8e8e8e" stroke="#ededed" stroke-width="0.4" opacity="0.85" filter="url(#b0)"/>
<ellipse cx="400.1" cy="249.5" rx="1.0760151443666581" ry="0.7678768864897849" transform="rotate(0 400.1 249.5)" fill="#a6a6a6" stroke="#ededed" stroke-width="0.4" opacity="0.85" filter="url(#b0)"/>
<ellipse cx="399.2" cy="241.5" rx="4.7" ry="4.7" transform="rotate(0 399.2 241.5)" fill="#5a5a5a" stroke="none" stroke-width="0.6" opacity="0.95" filter="url(#b1)"/>
<ellipse cx="399.2" cy="241.5" rx="3.9" ry="3.9" transform="rotate(0 399.2 241.5)" fill="none" stroke="#ffffff" stroke-width="0.65" opacity="0.85" filter="url(#b0)"/>
<ellipse cx="400.5" cy="242.4" rx="1.8004202076434" ry="1.7889807659814445" transform="rotate(0 400.5 242.4)" fill="#a6a6a6" stroke="#ededed" stroke-width="0.4" opacity="0.85" filter="url(#b0)"/>
<ellipse cx="399.7" cy="240.4" rx="0.9266025875169017" ry="0.7645837065586242" transform="rotate(0 399.7 240.4)" fill="#9c9c9c" stroke="#ededed" stroke-width="0.4" opacity="0.85" filter="url(#b0)"/>
<ellipse cx="400.4" cy="242.6" rx="1.1923667787083214" ry="0.8791293683862428" transform="rotate(0 400.4 242.6)" fill="#a6a6a6" stroke="#ededed" stroke-width="0.4" opacity="0.85" filter="url(#b0)"/>
<ellipse cx="398.0" cy="242.0" rx="1.3011087749984567" ry="1.1604302237966173" transform="rotate(0 398.0 242.0)" fill="#4a4a4a" stroke="#ededed" stroke-width="0.4" opacity="0.85" filter="url(#b0)"/>
<ellipse cx="406.9" cy="282.0" rx="10.7" ry="5.3" transform="rotate(-8 406.9 282.0)" fill="#5a5a5a" stroke="none" stroke-width="0.6" opacity="0.95" filter="url(#b1)"/>
<ellipse cx="406.9" cy="282.0" rx="9.9" ry="4.5" transform="rotate(-8 406.9 282.0)" fill="none" stroke="#ffffff" stroke-width="0.65" opacity="0.85" filter="url(#b0)"/>
<ellipse cx="405.9" cy="281.4" rx="1.6182535349118923" ry="1.5952589576067444" transform="rotate(0 405.9 281.4)" fill="#a6a6a6" stroke="#ededed" stroke-width="0.4" opacity="0.85" filter="url(#b0)"/>
<ellipse cx="406.7" cy="281.5" rx="0.9252554085347302" ry="0.8653845785226902" transform="rotate(0 406.7 281.5)" fill="#4a4a4a" stroke="#ededed" stroke-width="0.4" opacity="0.85" filter="url(#b0)"/>
<ellipse cx="405.3" cy="281.6" rx="1.098663026621859" ry="0.999466823882093" transform="rotate(0 405.3 281.6)" fill="#9c9c9c" stroke="#ededed" stroke-width="0.4" opacity="0.85" filter="url(#b0)"/>
<ellipse cx="407.6" cy="282.5" rx="1.063379634982325" ry="0.9045582745495285" transform="rotate(0 407.6 282.5)" fill="#a6a6a6" stroke="#ededed" stroke-width="0.4" opacity="0.85" filter="url(#b0)"/>
<ellipse cx="406.2" cy="281.7" rx="1.5514875802655417" ry="1.0904517747904081" transform="rotate(0 406.2 281.7)" fill="#8e8e8e" stroke="#ededed" stroke-width="0.4" opacity="0.85" filter="url(#b0)"/>
<ellipse cx="406.9" cy="282.1" rx="0.8418497183376294" ry="0.7260907116309993" transform="rotate(0 406.9 282.1)" fill="#a6a6a6" stroke="#ededed" stroke-width="0.4" opacity="0.85" filter="url(#b0)"/>
<ellipse cx="407.4" cy="282.0" rx="1.543908074326388" ry="1.1894672726506068" transform="rotate(0 407.4 282.0)" fill="#9c9c9c" stroke="#ededed" stroke-width="0.4" opacity="0.85" filter="url(#b0)"/>
<ellipse cx="409.7" cy="281.5" rx="1.1895092027760734" ry="0.9553069229671813" transform="rotate(0 409.7 281.5)" fill="#4a4a4a" stroke="#ededed" stroke-width="0.4" opacity="0.85" filter="url(#b0)"/>
<ellipse cx="406.5" cy="280.1" rx="0.8817813179081517" ry="0.7355756864425848" transform="rotate(0 406.5 280.1)" fill="#8e8e8e" stroke="#ededed" stroke-width="0.4" opacity="0.85" filter="url(#b0)"/>
<ellipse cx="408.8" cy="280.0" rx="1.645831831801542" ry="1.3616100055180251" transform="rotate(0 408.8 280.0)" fill="#7c7c7c" stroke="#ededed" stroke-width="0.4" opacity="0.85" filter="url(#b0)"/>
<ellipse cx="406.9" cy="283.9" rx="1.2058449951470882" ry="0.9618026879055315" transform="rotate(0 406.9 283.9)" fill="#9c9c9c" stroke="#ededed" stroke-width="0.4" opacity="0.85" filter="url(#b0)"/>
<path d="M401.7 256.9 Q405.5 264 408.6 272.5" fill="none" stroke="#4a4a4a" stroke-width="0.6"/>
<path d="M372.6 226.5 l0.5 3" fill="none" stroke="#4a4a4a" stroke-width="0.6"/>
<ellipse cx="362.8" cy="221.6" rx="2.2" ry="1.2" transform="rotate(0 362.8 221.6)" fill="#35e6f2" stroke="none" stroke-width="0.6" opacity="1" filter="url(#b1)"/>
<ellipse cx="372.3" cy="241.2" rx="4.4" ry="4.9" transform="rotate(0 372.3 241.2)" fill="#35e6f2" stroke="none" stroke-width="0.6" opacity="1" filter="url(#b1)"/>
<ellipse cx="368.0" cy="266.1" rx="2.5" ry="2.5" transform="rotate(0 368.0 266.1)" fill="#35e6f2" stroke="none" stroke-width="0.6" opacity="1" filter="url(#b1)"/>
<ellipse cx="375.7" cy="266.1" rx="2" ry="2" transform="rotate(0 375.7 266.1)" fill="#35e6f2" stroke="none" stroke-width="0.6" opacity="1" filter="url(#b1)"/>
<ellipse cx="384.0" cy="254.0" rx="2.4" ry="2.4" transform="rotate(0 384.0 254.0)" fill="#35e6f2" stroke="none" stroke-width="0.6" opacity="1" filter="url(#b1)"/>
<ellipse cx="384.4" cy="259.6" rx="2.9" ry="2.9" transform="rotate(0 384.4 259.6)" fill="#35e6f2" stroke="none" stroke-width="0.6" opacity="1" filter="url(#b1)"/>
<ellipse cx="397.4" cy="234.6" rx="4.8" ry="3.3" transform="rotate(0 397.4 234.6)" fill="#35e6f2" stroke="none" stroke-width="0.6" opacity="1" filter="url(#b1)"/>
<ellipse cx="399.2" cy="251.0" rx="4.4" ry="4.9" transform="rotate(0 399.2 251.0)" fill="#35e6f2" stroke="none" stroke-width="0.6" opacity="1" filter="url(#b1)"/>
<ellipse cx="406.9" cy="280.6" rx="3.1" ry="2.8" transform="rotate(0 406.9 280.6)" fill="#35e6f2" stroke="none" stroke-width="0.6" opacity="1" filter="url(#b1)"/>
<ellipse cx="403.2" cy="283.7" rx="2.4" ry="2.4" transform="rotate(0 403.2 283.7)" fill="#35e6f2" stroke="none" stroke-width="0.6" opacity="1" filter="url(#b1)"/>
<line x1="420.40" y1="241.90" x2="412.50" y2="241.90" stroke="#fff" stroke-width="2.3"/>
<polygon points="409.00,241.90 413.00,239.20 413.00,244.60" fill="#fff"/>
<line x1="421.40" y1="267.00" x2="413.70" y2="267.00" stroke="#000" stroke-width="2.3"/>
<polygon points="410.20,267.00 414.20,264.30 414.20,269.70" fill="#000"/>
<line x1="392.20" y1="267.40" x2="383.64" y2="264.74" stroke="#fff" stroke-width="2.3"/>
<polygon points="380.30,263.70 384.92,262.31 383.32,267.47" fill="#fff"/>
<text x="397.4" y="287.0" font-size="7.4" text-anchor="start" font-weight="normal" font-style="normal" fill="#f2f2f2" textLength="3.7" lengthAdjust="spacingAndGlyphs">0</text>
<text x="406.09999999999997" y="287.0" font-size="7.4" text-anchor="start" font-weight="normal" font-style="normal" fill="#f2f2f2" textLength="8.4" lengthAdjust="spacingAndGlyphs">µm</text>
<text x="423.9" y="287.0" font-size="7.4" text-anchor="end" font-weight="normal" font-style="normal" fill="#f2f2f2" textLength="7.8" lengthAdjust="spacingAndGlyphs">25</text>
<line x1="396.2" y1="289.8" x2="426.3" y2="289.8" stroke="#f2f2f2" stroke-width="0.7"/>
<line x1="396.2" y1="288.7" x2="396.2" y2="289.8" stroke="#f2f2f2" stroke-width="0.4"/>
<line x1="399.21" y1="288.7" x2="399.21" y2="289.8" stroke="#f2f2f2" stroke-width="0.4"/>
<line x1="402.21999999999997" y1="288.7" x2="402.21999999999997" y2="289.8" stroke="#f2f2f2" stroke-width="0.4"/>
<line x1="405.23" y1="288.7" x2="405.23" y2="289.8" stroke="#f2f2f2" stroke-width="0.4"/>
<line x1="408.24" y1="288.7" x2="408.24" y2="289.8" stroke="#f2f2f2" stroke-width="0.4"/>
<line x1="411.25" y1="288.7" x2="411.25" y2="289.8" stroke="#f2f2f2" stroke-width="0.4"/>
<line x1="414.26" y1="288.7" x2="414.26" y2="289.8" stroke="#f2f2f2" stroke-width="0.4"/>
<line x1="417.27" y1="288.7" x2="417.27" y2="289.8" stroke="#f2f2f2" stroke-width="0.4"/>
<line x1="420.28000000000003" y1="288.7" x2="420.28000000000003" y2="289.8" stroke="#f2f2f2" stroke-width="0.4"/>
<line x1="423.29" y1="288.7" x2="423.29" y2="289.8" stroke="#f2f2f2" stroke-width="0.4"/>
<line x1="426.3" y1="288.7" x2="426.3" y2="289.8" stroke="#f2f2f2" stroke-width="0.4"/>
</g>
<rect x="344.8" y="209.7" width="82.59999999999997" height="11.0" fill="#fff" stroke="#9a9a9a" stroke-width="0.7"/>
<rect x="345.1" y="221.0" width="81.99999999999997" height="70.9" fill="none" stroke="#5c5c5c" stroke-width="0.6"/>
<text x="386.1" y="218.4" font-size="8.5" text-anchor="middle" font-weight="bold" font-style="normal" fill="#111" textLength="50" lengthAdjust="spacingAndGlyphs">pa-bleb 50 µM</text>
<rect x="429.7" y="220.7" width="83.30000000000001" height="71.5" fill="#6e6e6e" filter="url(#noise)"/>
<g clip-path="url(#cd2)">
<clipPath id="cd2"><rect x="429.7" y="220.7" width="83.30000000000001" height="71.5"/></clipPath>
<ellipse cx="476.3" cy="236.4" rx="6.5" ry="9.299999999999999" transform="rotate(25 476.3 236.4)" fill="#5a5a5a" stroke="none" stroke-width="0.6" opacity="0.95" filter="url(#b1)"/>
<ellipse cx="476.3" cy="236.4" rx="5.7" ry="8.5" transform="rotate(25 476.3 236.4)" fill="none" stroke="#ffffff" stroke-width="0.65" opacity="0.85" filter="url(#b0)"/>
<ellipse cx="474.8" cy="234.5" rx="1.8129075311292269" ry="1.624622443060596" transform="rotate(0 474.8 234.5)" fill="#7c7c7c" stroke="#ededed" stroke-width="0.4" opacity="0.85" filter="url(#b0)"/>
<ellipse cx="475.6" cy="234.9" rx="1.1565689465877294" ry="0.8384042642447356" transform="rotate(0 475.6 234.9)" fill="#9c9c9c" stroke="#ededed" stroke-width="0.4" opacity="0.85" filter="url(#b0)"/>
<ellipse cx="475.4" cy="235.0" rx="1.553859614654359" ry="1.4715810002580303" transform="rotate(0 475.4 235.0)" fill="#4a4a4a" stroke="#ededed" stroke-width="0.4" opacity="0.85" filter="url(#b0)"/>
<ellipse cx="477.1" cy="236.9" rx="1.8017523693167277" ry="1.305392434994315" transform="rotate(0 477.1 236.9)" fill="#9c9c9c" stroke="#ededed" stroke-width="0.4" opacity="0.85" filter="url(#b0)"/>
<ellipse cx="474.2" cy="239.1" rx="1.563378921603741" ry="1.5078996578899906" transform="rotate(0 474.2 239.1)" fill="#4a4a4a" stroke="#ededed" stroke-width="0.4" opacity="0.85" filter="url(#b0)"/>
<ellipse cx="475.3" cy="239.5" rx="1.1597725011634372" ry="0.9240296776880216" transform="rotate(0 475.3 239.5)" fill="#8e8e8e" stroke="#ededed" stroke-width="0.4" opacity="0.85" filter="url(#b0)"/>
<ellipse cx="474.3" cy="236.6" rx="1.7926285604680285" ry="1.490387461142189" transform="rotate(0 474.3 236.6)" fill="#4a4a4a" stroke="#ededed" stroke-width="0.4" opacity="0.85" filter="url(#b0)"/>
<ellipse cx="477.2" cy="235.2" rx="1.1493811677644756" ry="1.1382677660779665" transform="rotate(0 477.2 235.2)" fill="#7c7c7c" stroke="#ededed" stroke-width="0.4" opacity="0.85" filter="url(#b0)"/>
<ellipse cx="477.2" cy="234.0" rx="0.8927158288498493" ry="0.6313600411540617" transform="rotate(0 477.2 234.0)" fill="#4a4a4a" stroke="#ededed" stroke-width="0.4" opacity="0.85" filter="url(#b0)"/>
<ellipse cx="476.7" cy="233.7" rx="1.6757433475140964" ry="1.3581468028245873" transform="rotate(0 476.7 233.7)" fill="#9c9c9c" stroke="#ededed" stroke-width="0.4" opacity="0.85" filter="url(#b0)"/>
<ellipse cx="475.8" cy="236.7" rx="1.4502554000843846" ry="1.092009915039908" transform="rotate(0 475.8 236.7)" fill="#a6a6a6" stroke="#ededed" stroke-width="0.4" opacity="0.85" filter="url(#b0)"/>
<ellipse cx="478.3" cy="232.5" rx="1.1096004358905351" ry="0.8503667582623572" transform="rotate(0 478.3 232.5)" fill="#8e8e8e" stroke="#ededed" stroke-width="0.4" opacity="0.85" filter="url(#b0)"/>
<ellipse cx="476.6" cy="235.5" rx="3.9000000000000004" ry="5.7" transform="rotate(25 476.6 235.5)" fill="#5a5a5a" stroke="none" stroke-width="0.6" opacity="0.95" filter="url(#b1)"/>
<ellipse cx="476.6" cy="235.5" rx="3.1" ry="4.9" transform="rotate(25 476.6 235.5)" fill="none" stroke="#ffffff" stroke-width="0.65" opacity="0.85" filter="url(#b0)"/>
<ellipse cx="476.7" cy="235.7" rx="1.1254671034444694" ry="1.0076996178011075" transform="rotate(0 476.7 235.7)" fill="#8e8e8e" stroke="#ededed" stroke-width="0.4" opacity="0.85" filter="url(#b0)"/>
<ellipse cx="476.7" cy="235.4" rx="1.401497699588702" ry="1.0163855418502399" transform="rotate(0 476.7 235.4)" fill="#9c9c9c" stroke="#ededed" stroke-width="0.4" opacity="0.85" filter="url(#b0)"/>
<ellipse cx="477.0" cy="236.7" rx="1.7889790456383516" ry="1.2662178144437664" transform="rotate(0 477.0 236.7)" fill="#8e8e8e" stroke="#ededed" stroke-width="0.4" opacity="0.85" filter="url(#b0)"/>
<ellipse cx="476.6" cy="235.3" rx="1.6978770748816707" ry="1.3135372536893508" transform="rotate(0 476.6 235.3)" fill="#7c7c7c" stroke="#ededed" stroke-width="0.4" opacity="0.85" filter="url(#b0)"/>
<ellipse cx="461.6" cy="244.2" rx="9.7" ry="4.9" transform="rotate(-5 461.6 244.2)" fill="#5a5a5a" stroke="none" stroke-width="0.6" opacity="0.95" filter="url(#b1)"/>
<ellipse cx="461.6" cy="244.2" rx="8.9" ry="4.1000000000000005" transform="rotate(-5 461.6 244.2)" fill="none" stroke="#ffffff" stroke-width="0.65" opacity="0.85" filter="url(#b0)"/>
<ellipse cx="462.5" cy="245.7" rx="1.3737096084057172" ry="1.1241268662091037" transform="rotate(0 462.5 245.7)" fill="#7c7c7c" stroke="#ededed" stroke-width="0.4" opacity="0.85" filter="url(#b0)"/>
<ellipse cx="459.1" cy="246.1" rx="1.539626098799609" ry="1.303158537444048" transform="rotate(0 459.1 246.1)" fill="#7c7c7c" stroke="#ededed" stroke-width="0.4" opacity="0.85" filter="url(#b0)"/>
<ellipse cx="461.7" cy="244.0" rx="1.4799741983896086" ry="1.2182876172843777" transform="rotate(0 461.7 244.0)" fill="#8e8e8e" stroke="#ededed" stroke-width="0.4" opacity="0.85" filter="url(#b0)"/>
<ellipse cx="463.1" cy="242.8" rx="1.7388544433135915" ry="1.6521696248435946" transform="rotate(0 463.1 242.8)" fill="#7c7c7c" stroke="#ededed" stroke-width="0.4" opacity="0.85" filter="url(#b0)"/>
<ellipse cx="465.3" cy="242.6" rx="1.5043006906418683" ry="1.216401321110094" transform="rotate(0 465.3 242.6)" fill="#9c9c9c" stroke="#ededed" stroke-width="0.4" opacity="0.85" filter="url(#b0)"/>
<ellipse cx="462.2" cy="244.2" rx="1.815918102581071" ry="1.4050050879881224" transform="rotate(0 462.2 244.2)" fill="#a6a6a6" stroke="#ededed" stroke-width="0.4" opacity="0.85" filter="url(#b0)"/>
<ellipse cx="463.4" cy="245.2" rx="1.5524751639695538" ry="1.181913974273245" transform="rotate(0 463.4 245.2)" fill="#4a4a4a" stroke="#ededed" stroke-width="0.4" opacity="0.85" filter="url(#b0)"/>
<ellipse cx="460.3" cy="244.6" rx="1.866736303081331" ry="1.5707343673293364" transform="rotate(0 460.3 244.6)" fill="#8e8e8e" stroke="#ededed" stroke-width="0.4" opacity="0.85" filter="url(#b0)"/>
<ellipse cx="461.4" cy="243.6" rx="0.9710668426269928" ry="0.9454876539736072" transform="rotate(0 461.4 243.6)" fill="#a6a6a6" stroke="#ededed" stroke-width="0.4" opacity="0.85" filter="url(#b0)"/>
<ellipse cx="473.7" cy="250.0" rx="5.7" ry="5.1000000000000005" transform="rotate(0 473.7 250.0)" fill="#5a5a5a" stroke="none" stroke-width="0.6" opacity="0.95" filter="url(#b1)"/>
<ellipse cx="473.7" cy="250.0" rx="4.9" ry="4.300000000000001" transform="rotate(0 473.7 250.0)" fill="none" stroke="#ffffff" stroke-width="0.65" opacity="0.85" filter="url(#b0)"/>
<ellipse cx="473.7" cy="250.0" rx="1.3291859619336157" ry="1.0550615126148462" transform="rotate(0 473.7 250.0)" fill="#8e8e8e" stroke="#ededed" stroke-width="0.4" opacity="0.85" filter="url(#b0)"/>
<ellipse cx="474.0" cy="250.8" rx="1.4471857947032873" ry="1.3244255394812579" transform="rotate(0 474.0 250.8)" fill="#9c9c9c" stroke="#ededed" stroke-width="0.4" opacity="0.85" filter="url(#b0)"/>
<ellipse cx="473.2" cy="249.7" rx="1.003485741346874" ry="0.8236069087659134" transform="rotate(0 473.2 249.7)" fill="#4a4a4a" stroke="#ededed" stroke-width="0.4" opacity="0.85" filter="url(#b0)"/>
<ellipse cx="475.8" cy="248.9" rx="1.4894315280248076" ry="1.256852830842783" transform="rotate(0 475.8 248.9)" fill="#9c9c9c" stroke="#ededed" stroke-width="0.4" opacity="0.85" filter="url(#b0)"/>
<ellipse cx="473.5" cy="252.0" rx="1.805678303921716" ry="1.6216346502949122" transform="rotate(0 473.5 252.0)" fill="#4a4a4a" stroke="#ededed" stroke-width="0.4" opacity="0.85" filter="url(#b0)"/>
<ellipse cx="444.3" cy="256.0" rx="5.3" ry="14.7" transform="rotate(-10 444.3 256.0)" fill="#5a5a5a" stroke="none" stroke-width="0.6" opacity="0.95" filter="url(#b1)"/>
<ellipse cx="444.3" cy="256.0" rx="4.5" ry="13.9" transform="rotate(-10 444.3 256.0)" fill="none" stroke="#ffffff" stroke-width="0.65" opacity="0.85" filter="url(#b0)"/>
<ellipse cx="444.2" cy="255.2" rx="1.7488350938491952" ry="1.2502632976185548" transform="rotate(0 444.2 255.2)" fill="#7c7c7c" stroke="#ededed" stroke-width="0.4" opacity="0.85" filter="url(#b0)"/>
<ellipse cx="445.7" cy="253.5" rx="1.2234742058339092" ry="1.1481233995598195" transform="rotate(0 445.7 253.5)" fill="#9c9c9c" stroke="#ededed" stroke-width="0.4" opacity="0.85" filter="url(#b0)"/>
<ellipse cx="443.4" cy="249.5" rx="0.8637312749274714" ry="0.8357969951888427" transform="rotate(0 443.4 249.5)" fill="#a6a6a6" stroke="#ededed" stroke-width="0.4" opacity="0.85" filter="url(#b0)"/>
<ellipse cx="444.8" cy="250.4" rx="1.295020728382843" ry="1.1836311356194509" transform="rotate(0 444.8 250.4)" fill="#a6a6a6" stroke="#ededed" stroke-width="0.4" opacity="0.85" filter="url(#b0)"/>
<ellipse cx="443.9" cy="255.2" rx="0.9726011644983685" ry="0.7230528035820512" transform="rotate(0 443.9 255.2)" fill="#4a4a4a" stroke="#ededed" stroke-width="0.4" opacity="0.85" filter="url(#b0)"/>
<ellipse cx="445.2" cy="252.0" rx="0.9442280836452782" ry="0.7364532982220048" transform="rotate(0 445.2 252.0)" fill="#9c9c9c" stroke="#ededed" stroke-width="0.4" opacity="0.85" filter="url(#b0)"/>
<ellipse cx="443.9" cy="255.8" rx="1.6474154993603323" ry="1.2541621569386865" transform="rotate(0 443.9 255.8)" fill="#8e8e8e" stroke="#ededed" stroke-width="0.4" opacity="0.85" filter="url(#b0)"/>
<ellipse cx="444.5" cy="255.3" rx="0.9412565618058231" ry="0.7350989896838324" transform="rotate(0 444.5 255.3)" fill="#4a4a4a" stroke="#ededed" stroke-width="0.4" opacity="0.85" filter="url(#b0)"/>
<ellipse cx="444.1" cy="255.2" rx="1.3281123233069558" ry="0.9626924120459098" transform="rotate(0 444.1 255.2)" fill="#7c7c7c" stroke="#ededed" stroke-width="0.4" opacity="0.85" filter="url(#b0)"/>
<ellipse cx="443.5" cy="251.5" rx="1.3565656269636266" ry="1.2708259265889972" transform="rotate(0 443.5 251.5)" fill="#8e8e8e" stroke="#ededed" stroke-width="0.4" opacity="0.85" filter="url(#b0)"/>
<ellipse cx="443.1" cy="260.1" rx="0.9000398483839593" ry="0.6863006273247658" transform="rotate(0 443.1 260.1)" fill="#7c7c7c" stroke="#ededed" stroke-width="0.4" opacity="0.85" filter="url(#b0)"/>
<ellipse cx="442.9" cy="255.0" rx="0.973306671092314" ry="0.7736128486094314" transform="rotate(0 442.9 255.0)" fill="#4a4a4a" stroke="#ededed" stroke-width="0.4" opacity="0.85" filter="url(#b0)"/>
<ellipse cx="443.7" cy="258.8" rx="1.8969949745681056" ry="1.532606613134863" transform="rotate(0 443.7 258.8)" fill="#8e8e8e" stroke="#ededed" stroke-width="0.4" opacity="0.85" filter="url(#b0)"/>
<ellipse cx="444.1" cy="255.2" rx="1.2336599479872326" ry="1.1398905784972124" transform="rotate(0 444.1 255.2)" fill="#7c7c7c" stroke="#ededed" stroke-width="0.4" opacity="0.85" filter="url(#b0)"/>
<ellipse cx="444.2" cy="255.0" rx="1.289841914278142" ry="1.1783064869696918" transform="rotate(0 444.2 255.0)" fill="#7c7c7c" stroke="#ededed" stroke-width="0.4" opacity="0.85" filter="url(#b0)"/>
<ellipse cx="443.7" cy="256.5" rx="0.924657192110245" ry="0.8847302278901286" transform="rotate(0 443.7 256.5)" fill="#8e8e8e" stroke="#ededed" stroke-width="0.4" opacity="0.85" filter="url(#b0)"/>
<ellipse cx="458.1" cy="257.8" rx="8.7" ry="5.3" transform="rotate(10 458.1 257.8)" fill="#5a5a5a" stroke="none" stroke-width="0.6" opacity="0.95" filter="url(#b1)"/>
<ellipse cx="458.1" cy="257.8" rx="7.9" ry="4.5" transform="rotate(10 458.1 257.8)" fill="none" stroke="#ffffff" stroke-width="0.65" opacity="0.85" filter="url(#b0)"/>
<ellipse cx="460.1" cy="256.7" rx="1.7916864527588594" ry="1.41026883834221" transform="rotate(0 460.1 256.7)" fill="#a6a6a6" stroke="#ededed" stroke-width="0.4" opacity="0.85" filter="url(#b0)"/>
<ellipse cx="456.2" cy="258.4" rx="1.128026494752601" ry="1.0450901635067924" transform="rotate(0 456.2 258.4)" fill="#4a4a4a" stroke="#ededed" stroke-width="0.4" opacity="0.85" filter="url(#b0)"/>
<ellipse cx="457.7" cy="257.7" rx="1.0075230793650383" ry="0.9263500749597188" transform="rotate(0 457.7 257.7)" fill="#7c7c7c" stroke="#ededed" stroke-width="0.4" opacity="0.85" filter="url(#b0)"/>
<ellipse cx="455.7" cy="259.4" rx="1.419089147573716" ry="1.1836011714524806" transform="rotate(0 455.7 259.4)" fill="#4a4a4a" stroke="#ededed" stroke-width="0.4" opacity="0.85" filter="url(#b0)"/>
<ellipse cx="457.7" cy="257.9" rx="1.4838926576363747" ry="1.3404130180723808" transform="rotate(0 457.7 257.9)" fill="#a6a6a6" stroke="#ededed" stroke-width="0.4" opacity="0.85" filter="url(#b0)"/>
<ellipse cx="458.0" cy="257.4" rx="1.2425069215902989" ry="1.090699743205785" transform="rotate(0 458.0 257.4)" fill="#7c7c7c" stroke="#ededed" stroke-width="0.4" opacity="0.85" filter="url(#b0)"/>
<ellipse cx="458.9" cy="258.2" rx="0.9727942391198547" ry="0.8075597257775766" transform="rotate(0 458.9 258.2)" fill="#8e8e8e" stroke="#ededed" stroke-width="0.4" opacity="0.85" filter="url(#b0)"/>
<ellipse cx="458.4" cy="257.1" rx="1.7055830223091988" ry="1.2650584959437392" transform="rotate(0 458.4 257.1)" fill="#9c9c9c" stroke="#ededed" stroke-width="0.4" opacity="0.85" filter="url(#b0)"/>
<ellipse cx="458.2" cy="258.2" rx="1.5604529151658717" ry="1.2474621903654217" transform="rotate(0 458.2 258.2)" fill="#7c7c7c" stroke="#ededed" stroke-width="0.4" opacity="0.85" filter="url(#b0)"/>
<ellipse cx="441.5" cy="246.0" rx="2.9000000000000004" ry="6.2" transform="rotate(-15 441.5 246.0)" fill="#5a5a5a" stroke="none" stroke-width="0.6" opacity="0.95" filter="url(#b1)"/>
<ellipse cx="441.5" cy="246.0" rx="2.1" ry="5.4" transform="rotate(-15 441.5 246.0)" fill="none" stroke="#ffffff" stroke-width="0.65" opacity="0.85" filter="url(#b0)"/>
<ellipse cx="441.5" cy="246.0" rx="1.2407789086878638" ry="1.234060495194957" transform="rotate(0 441.5 246.0)" fill="#4a4a4a" stroke="#ededed" stroke-width="0.4" opacity="0.85" filter="url(#b0)"/>
<ellipse cx="441.1" cy="244.2" rx="1.4694644278502564" ry="1.143558247037331" transform="rotate(0 441.1 244.2)" fill="#8e8e8e" stroke="#ededed" stroke-width="0.4" opacity="0.85" filter="url(#b0)"/>
<ellipse cx="441.8" cy="246.8" rx="1.2853567124672653" ry="1.045359685229963" transform="rotate(0 441.8 246.8)" fill="#9c9c9c" stroke="#ededed" stroke-width="0.4" opacity="0.85" filter="url(#b0)"/>
<ellipse cx="447.0" cy="268.0" rx="3.9000000000000004" ry="5.2" transform="rotate(20 447.0 268.0)" fill="#5a5a5a" stroke="none" stroke-width="0.6" opacity="0.95" filter="url(#b1)"/>
<ellipse cx="447.0" cy="268.0" rx="3.1" ry="4.4" transform="rotate(20 447.0 268.0)" fill="none" stroke="#ffffff" stroke-width="0.65" opacity="0.85" filter="url(#b0)"/>
<ellipse cx="446.0" cy="267.5" rx="1.707707476712238" ry="1.5608955789635817" transform="rotate(0 446.0 267.5)" fill="#9c9c9c" stroke="#ededed" stroke-width="0.4" opacity="0.85" filter="url(#b0)"/>
<ellipse cx="446.6" cy="269.1" rx="1.1283338606586986" ry="0.9091756370903652" transform="rotate(0 446.6 269.1)" fill="#a6a6a6" stroke="#ededed" stroke-width="0.4" opacity="0.85" filter="url(#b0)"/>
<ellipse cx="446.8" cy="267.9" rx="1.5847633005528619" ry="1.583983787542654" transform="rotate(0 446.8 267.9)" fill="#9c9c9c" stroke="#ededed" stroke-width="0.4" opacity="0.85" filter="url(#b0)"/>
<path d="M492.7 225.8 Q500 229 512.6 237" fill="none" stroke="#4d4d4d" stroke-width="1.6"/>
<path d="M493.5 225.5 Q501 230 512 236.2" fill="none" stroke="#d0d0d0" stroke-width="0.5"/>
<ellipse cx="506.6" cy="233.7" rx="4.2" ry="1.5" transform="rotate(32 506.6 233.7)" fill="#35e6f2" stroke="none" stroke-width="0.6" opacity="1" filter="url(#b1)"/>
<ellipse cx="501.0" cy="230.3" rx="1.6" ry="1" transform="rotate(30 501.0 230.3)" fill="#35e6f2" stroke="none" stroke-width="0.6" opacity="0.8" filter="url(#b1)"/>
<ellipse cx="459.9" cy="244.0" rx="2" ry="2" transform="rotate(0 459.9 244.0)" fill="#35e6f2" stroke="none" stroke-width="0.6" opacity="1" filter="url(#b1)"/>
<ellipse cx="464.2" cy="244.0" rx="2" ry="2" transform="rotate(0 464.2 244.0)" fill="#35e6f2" stroke="none" stroke-width="0.6" opacity="1" filter="url(#b1)"/>
<ellipse cx="472.3" cy="250.0" rx="2.4" ry="2.4" transform="rotate(0 472.3 250.0)" fill="#35e6f2" stroke="none" stroke-width="0.6" opacity="1" filter="url(#b1)"/>
<ellipse cx="448.6" cy="254.3" rx="3.5" ry="2.5" transform="rotate(0 448.6 254.3)" fill="#35e6f2" stroke="none" stroke-width="0.6" opacity="1" filter="url(#b1)"/>
<ellipse cx="455.5" cy="256.0" rx="2.4" ry="2.4" transform="rotate(0 455.5 256.0)" fill="#35e6f2" stroke="none" stroke-width="0.6" opacity="1" filter="url(#b1)"/>
<ellipse cx="445.2" cy="263.9" rx="2.9" ry="3.5" transform="rotate(15 445.2 263.9)" fill="#35e6f2" stroke="none" stroke-width="0.6" opacity="1" filter="url(#b1)"/>
<ellipse cx="444.3" cy="250.2" rx="1.4" ry="1.4" transform="rotate(0 444.3 250.2)" fill="#35e6f2" stroke="none" stroke-width="0.6" opacity="1" filter="url(#b1)"/>
<line x1="473.80" y1="256.20" x2="465.80" y2="254.23" stroke="#fff" stroke-width="2.3"/>
<polygon points="462.40,253.40 466.93,251.73 465.64,256.98" fill="#fff"/>
<line x1="467.20" y1="269.80" x2="458.70" y2="267.73" stroke="#fff" stroke-width="2.3"/>
<polygon points="455.30,266.90 459.83,265.22 458.55,270.47" fill="#fff"/>
<text x="482.7" y="287.0" font-size="7.4" text-anchor="start" font-weight="normal" font-style="normal" fill="#f2f2f2" textLength="3.7" lengthAdjust="spacingAndGlyphs">0</text>
<text x="491.4" y="287.0" font-size="7.4" text-anchor="start" font-weight="normal" font-style="normal" fill="#f2f2f2" textLength="8.4" lengthAdjust="spacingAndGlyphs">µm</text>
<text x="510.2" y="287.0" font-size="7.4" text-anchor="end" font-weight="normal" font-style="normal" fill="#f2f2f2" textLength="7.8" lengthAdjust="spacingAndGlyphs">25</text>
<line x1="481.2" y1="289.8" x2="511.4" y2="289.8" stroke="#f2f2f2" stroke-width="0.7"/>
<line x1="481.2" y1="288.7" x2="481.2" y2="289.8" stroke="#f2f2f2" stroke-width="0.4"/>
<line x1="484.21999999999997" y1="288.7" x2="484.21999999999997" y2="289.8" stroke="#f2f2f2" stroke-width="0.4"/>
<line x1="487.24" y1="288.7" x2="487.24" y2="289.8" stroke="#f2f2f2" stroke-width="0.4"/>
<line x1="490.26" y1="288.7" x2="490.26" y2="289.8" stroke="#f2f2f2" stroke-width="0.4"/>
<line x1="493.28" y1="288.7" x2="493.28" y2="289.8" stroke="#f2f2f2" stroke-width="0.4"/>
<line x1="496.29999999999995" y1="288.7" x2="496.29999999999995" y2="289.8" stroke="#f2f2f2" stroke-width="0.4"/>
<line x1="499.32" y1="288.7" x2="499.32" y2="289.8" stroke="#f2f2f2" stroke-width="0.4"/>
<line x1="502.34" y1="288.7" x2="502.34" y2="289.8" stroke="#f2f2f2" stroke-width="0.4"/>
<line x1="505.35999999999996" y1="288.7" x2="505.35999999999996" y2="289.8" stroke="#f2f2f2" stroke-width="0.4"/>
<line x1="508.38" y1="288.7" x2="508.38" y2="289.8" stroke="#f2f2f2" stroke-width="0.4"/>
<line x1="511.4" y1="288.7" x2="511.4" y2="289.8" stroke="#f2f2f2" stroke-width="0.4"/>
</g>
<rect x="429.7" y="209.7" width="83.30000000000001" height="11.0" fill="#fff" stroke="#9a9a9a" stroke-width="0.7"/>
<rect x="430.0" y="221.0" width="82.70000000000002" height="70.9" fill="none" stroke="#5c5c5c" stroke-width="0.6"/>
<text x="471.35" y="218.4" font-size="8.5" text-anchor="middle" font-weight="bold" font-style="normal" fill="#111" textLength="50" lengthAdjust="spacingAndGlyphs">pa-bleb 25 µM</text>
<text x="7.6" y="340.3" font-size="10.5" text-anchor="start" font-weight="bold" font-style="normal" fill="#000" textLength="5.6" lengthAdjust="spacingAndGlyphs">E</text>
<text transform="translate(18.6,348.9) scale(1.0018,1)" font-size="8.4"><tspan fill="#39b54a" stroke="#39b54a" stroke-width="0.3">NE</tspan><tspan fill="#231f20">/</tspan><tspan fill="#ec008c" stroke="#ec008c" stroke-width="0.3">MPO</tspan><tspan fill="#231f20">/</tspan><tspan fill="#27aae1" stroke="#27aae1" stroke-width="0.3">DNA</tspan></text>
<rect x="7.2" y="363.2" width="11" height="89.60000000000002" fill="#fff" stroke="#9a9a9a" stroke-width="0.7"/>
<text x="0" y="0" transform="translate(15.3,431.5) rotate(-90)" font-size="7.6" text-anchor="start" font-weight="bold" font-style="normal" fill="#111" textLength="49.8" lengthAdjust="spacingAndGlyphs">PMA, 4 hours</text>
<rect x="18.2" y="363.2" width="88.3" height="88.60000000000002" fill="#000"/>
<clipPath id="ce0"><rect x="18.2" y="363.2" width="88.3" height="88.60000000000002"/></clipPath>
<g clip-path="url(#ce0)">
<path d="M35.9 382.6 Q34.0 385.4 29.7 395.1" fill="none" stroke="#2a8a40" stroke-width="0.34" opacity="0.61"/>
<path d="M35.9 382.6 Q39.2 377.8 49.0 374.2" fill="none" stroke="#3fae58" stroke-width="0.34" opacity="0.54"/>
<path d="M35.9 382.6 Q36.8 377.8 42.0 370.9" fill="none" stroke="#2f9e48" stroke-width="0.53" opacity="0.53"/>
<path d="M35.9 382.6 Q44.3 380.1 47.0 380.9" fill="none" stroke="#3fae58" stroke-width="0.52" opacity="0.61"/>
<path d="M35.9 382.6 Q19.8 378.0 10.1 372.3" fill="none" stroke="#3fae58" stroke-width="0.45" opacity="0.60"/>
<path d="M35.9 382.6 Q38.9 386.3 46.6 387.0" fill="none" stroke="#9fd0c8" stroke-width="0.61" opacity="0.56"/>
<path d="M35.9 382.6 Q42.5 375.5 53.1 373.6" fill="none" stroke="#3fae58" stroke-width="0.33" opacity="0.49"/>
<path d="M35.9 382.6 Q26.0 383.8 17.0 383.2" fill="none" stroke="#2f9e48" stroke-width="0.35" opacity="0.54"/>
<path d="M54.9 375.4 Q55.1 364.7 55.5 361.5" fill="none" stroke="#2f9e48" stroke-width="0.61" opacity="0.61"/>
<path d="M54.9 375.4 Q62.9 369.8 67.8 362.6" fill="none" stroke="#2a8a40" stroke-width="0.62" opacity="0.38"/>
<path d="M54.9 375.4 Q63.6 376.6 69.1 384.8" fill="none" stroke="#7fbf9a" stroke-width="0.56" opacity="0.80"/>
<path d="M54.9 375.4 Q57.8 368.9 62.5 359.7" fill="none" stroke="#2f9e48" stroke-width="0.68" opacity="0.51"/>
<path d="M54.9 375.4 Q43.9 366.4 37.4 360.7" fill="none" stroke="#3fae58" stroke-width="0.46" opacity="0.76"/>
<path d="M54.9 375.4 Q47.0 373.8 40.6 375.7" fill="none" stroke="#3fae58" stroke-width="0.63" opacity="0.74"/>
<path d="M54.9 375.4 Q51.9 388.7 51.2 395.9" fill="none" stroke="#3fae58" stroke-width="0.36" opacity="0.43"/>
<path d="M54.9 375.4 Q55.7 384.1 56.7 391.4" fill="none" stroke="#7fbf9a" stroke-width="0.41" opacity="0.42"/>
<path d="M47.6 417.8 Q33.5 412.0 22.4 412.2" fill="none" stroke="#2a8a40" stroke-width="0.68" opacity="0.64"/>
<path d="M47.6 417.8 Q49.9 410.5 46.2 396.0" fill="none" stroke="#2a8a40" stroke-width="0.46" opacity="0.53"/>
<path d="M47.6 417.8 Q54.6 422.4 68.7 433.8" fill="none" stroke="#3fae58" stroke-width="0.48" opacity="0.40"/>
<path d="M47.6 417.8 Q43.0 414.3 37.4 410.3" fill="none" stroke="#7fbf9a" stroke-width="0.55" opacity="0.38"/>
<path d="M47.6 417.8 Q51.3 431.0 52.8 436.9" fill="none" stroke="#2a8a40" stroke-width="0.45" opacity="0.41"/>
<path d="M47.6 417.8 Q57.8 403.1 68.5 388.7" fill="none" stroke="#2f9e48" stroke-width="0.36" opacity="0.69"/>
<path d="M47.6 417.8 Q48.5 406.7 46.2 395.4" fill="none" stroke="#3fae58" stroke-width="0.68" opacity="0.59"/>
<path d="M47.6 417.8 Q51.1 427.6 62.2 437.0" fill="none" stroke="#2f9e48" stroke-width="0.58" opacity="0.47"/>
<path d="M85.6 419.7 Q83.0 425.3 76.0 430.4" fill="none" stroke="#2a8a40" stroke-width="0.43" opacity="0.45"/>
<path d="M85.6 419.7 Q95.1 405.7 99.0 386.7" fill="none" stroke="#9fd0c8" stroke-width="0.60" opacity="0.45"/>
<path d="M85.6 419.7 Q72.3 414.9 66.5 417.6" fill="none" stroke="#7fbf9a" stroke-width="0.49" opacity="0.44"/>
<path d="M85.6 419.7 Q80.6 415.7 70.6 408.1" fill="none" stroke="#7fbf9a" stroke-width="0.68" opacity="0.51"/>
<path d="M85.6 419.7 Q84.6 425.1 88.5 435.3" fill="none" stroke="#2a8a40" stroke-width="0.69" opacity="0.62"/>
<path d="M85.6 419.7 Q101.2 421.0 119.2 420.1" fill="none" stroke="#2f9e48" stroke-width="0.66" opacity="0.70"/>
<path d="M85.6 419.7 Q83.0 410.8 85.6 397.3" fill="none" stroke="#7fbf9a" stroke-width="0.33" opacity="0.78"/>
<path d="M85.6 419.7 Q85.6 405.5 81.7 398.0" fill="none" stroke="#3fae58" stroke-width="0.37" opacity="0.41"/>
<path d="M69.3 411.5 Q81.5 422.3 88.8 438.8" fill="none" stroke="#2a8a40" stroke-width="0.69" opacity="0.65"/>
<path d="M69.3 411.5 Q59.2 417.4 55.0 431.1" fill="none" stroke="#2f9e48" stroke-width="0.51" opacity="0.77"/>
<path d="M69.3 411.5 Q57.0 415.8 39.4 424.7" fill="none" stroke="#7fbf9a" stroke-width="0.39" opacity="0.58"/>
<path d="M69.3 411.5 Q70.4 405.0 70.9 393.1" fill="none" stroke="#2f9e48" stroke-width="0.66" opacity="0.51"/>
<path d="M69.3 411.5 Q60.4 414.1 45.0 418.0" fill="none" stroke="#2a8a40" stroke-width="0.35" opacity="0.42"/>
<path d="M69.3 411.5 Q55.2 411.3 36.7 409.3" fill="none" stroke="#3fae58" stroke-width="0.37" opacity="0.56"/>
<path d="M69.3 411.5 Q66.0 399.6 65.5 387.3" fill="none" stroke="#2a8a40" stroke-width="0.49" opacity="0.70"/>
<path d="M69.3 411.5 Q71.1 404.0 77.8 403.8" fill="none" stroke="#2f9e48" stroke-width="0.50" opacity="0.60"/>
<path d="M82.9 434.1 Q83.5 418.2 85.0 400.4" fill="none" stroke="#2a8a40" stroke-width="0.54" opacity="0.44"/>
<path d="M82.9 434.1 Q83.4 445.6 79.0 457.0" fill="none" stroke="#3fae58" stroke-width="0.58" opacity="0.74"/>
<path d="M82.9 434.1 Q91.2 434.7 98.6 428.1" fill="none" stroke="#9fd0c8" stroke-width="0.35" opacity="0.40"/>
<path d="M82.9 434.1 Q75.3 432.8 71.8 438.3" fill="none" stroke="#7fbf9a" stroke-width="0.61" opacity="0.75"/>
<path d="M82.9 434.1 Q92.3 443.1 99.1 457.7" fill="none" stroke="#3fae58" stroke-width="0.69" opacity="0.45"/>
<path d="M82.9 434.1 Q92.5 435.0 102.4 428.1" fill="none" stroke="#3fae58" stroke-width="0.36" opacity="0.54"/>
<path d="M82.9 434.1 Q71.1 431.7 64.2 432.3" fill="none" stroke="#7fbf9a" stroke-width="0.31" opacity="0.60"/>
<path d="M82.9 434.1 Q76.7 437.0 73.2 437.9" fill="none" stroke="#2a8a40" stroke-width="0.68" opacity="0.40"/>
<path d="M91.9 382.6 Q101.9 375.4 105.8 374.8" fill="none" stroke="#7fbf9a" stroke-width="0.32" opacity="0.70"/>
<path d="M91.9 382.6 Q90.4 392.5 90.2 395.9" fill="none" stroke="#7fbf9a" stroke-width="0.46" opacity="0.59"/>
<path d="M91.9 382.6 Q79.1 379.8 69.1 380.5" fill="none" stroke="#3fae58" stroke-width="0.47" opacity="0.38"/>
<path d="M91.9 382.6 Q106.6 374.3 116.4 372.6" fill="none" stroke="#3fae58" stroke-width="0.33" opacity="0.74"/>
<path d="M91.9 382.6 Q83.3 388.7 73.9 388.0" fill="none" stroke="#7fbf9a" stroke-width="0.55" opacity="0.37"/>
<path d="M91.9 382.6 Q91.3 364.1 83.3 349.3" fill="none" stroke="#3fae58" stroke-width="0.38" opacity="0.49"/>
<path d="M91.9 382.6 Q85.2 396.6 81.8 410.6" fill="none" stroke="#3fae58" stroke-width="0.41" opacity="0.71"/>
<path d="M91.9 382.6 Q93.5 382.5 102.9 382.2" fill="none" stroke="#3fae58" stroke-width="0.51" opacity="0.46"/>
<path d="M65.7 365.4 Q54.1 371.1 40.1 374.3" fill="none" stroke="#2a8a40" stroke-width="0.63" opacity="0.53"/>
<path d="M65.7 365.4 Q55.6 363.6 37.8 364.2" fill="none" stroke="#3fae58" stroke-width="0.46" opacity="0.51"/>
<path d="M65.7 365.4 Q68.6 369.6 78.3 369.9" fill="none" stroke="#7fbf9a" stroke-width="0.47" opacity="0.37"/>
<path d="M65.7 365.4 Q60.7 360.6 55.6 348.3" fill="none" stroke="#2a8a40" stroke-width="0.40" opacity="0.48"/>
<path d="M65.7 365.4 Q58.4 365.3 52.1 369.0" fill="none" stroke="#7fbf9a" stroke-width="0.69" opacity="0.60"/>
<path d="M65.7 365.4 Q64.8 381.8 66.9 400.5" fill="none" stroke="#2f9e48" stroke-width="0.43" opacity="0.39"/>
<path d="M65.7 365.4 Q61.2 380.9 60.8 392.0" fill="none" stroke="#2f9e48" stroke-width="0.41" opacity="0.39"/>
<path d="M65.7 365.4 Q57.4 367.1 56.8 371.9" fill="none" stroke="#3fae58" stroke-width="0.33" opacity="0.78"/>
<path d="M100.0 372.0 Q107.4 368.7 108.5 360.8" fill="none" stroke="#2a8a40" stroke-width="0.46" opacity="0.50"/>
<path d="M100.0 372.0 Q108.7 372.5 113.8 370.7" fill="none" stroke="#2f9e48" stroke-width="0.63" opacity="0.67"/>
<path d="M100.0 372.0 Q91.1 371.2 78.9 370.3" fill="none" stroke="#2a8a40" stroke-width="0.60" opacity="0.61"/>
<path d="M100.0 372.0 Q103.5 369.6 104.0 362.4" fill="none" stroke="#3fae58" stroke-width="0.33" opacity="0.37"/>
<path d="M100.0 372.0 Q87.6 358.4 77.2 345.5" fill="none" stroke="#2f9e48" stroke-width="0.55" opacity="0.63"/>
<path d="M100.0 372.0 Q91.2 364.1 90.4 351.4" fill="none" stroke="#2a8a40" stroke-width="0.66" opacity="0.39"/>
<path d="M100.0 372.0 Q85.3 372.1 71.0 367.2" fill="none" stroke="#7fbf9a" stroke-width="0.39" opacity="0.69"/>
<path d="M100.0 372.0 Q101.3 388.1 103.2 398.7" fill="none" stroke="#2f9e48" stroke-width="0.49" opacity="0.66"/>
<path d="M27.0 409.0 Q29.5 392.7 29.8 383.1" fill="none" stroke="#3fae58" stroke-width="0.43" opacity="0.64"/>
<path d="M27.0 409.0 Q19.5 396.6 17.8 384.5" fill="none" stroke="#9fd0c8" stroke-width="0.41" opacity="0.65"/>
<path d="M27.0 409.0 Q20.4 396.2 17.2 383.2" fill="none" stroke="#9fd0c8" stroke-width="0.49" opacity="0.70"/>
<path d="M27.0 409.0 Q37.6 405.2 51.3 408.0" fill="none" stroke="#9fd0c8" stroke-width="0.31" opacity="0.56"/>
<path d="M27.0 409.0 Q34.1 391.2 42.0 377.2" fill="none" stroke="#3fae58" stroke-width="0.67" opacity="0.77"/>
<path d="M27.0 409.0 Q34.5 409.9 38.0 414.6" fill="none" stroke="#7fbf9a" stroke-width="0.35" opacity="0.72"/>
<path d="M27.0 409.0 Q12.1 405.9 -6.0 407.2" fill="none" stroke="#9fd0c8" stroke-width="0.46" opacity="0.42"/>
<path d="M27.0 409.0 Q39.4 406.5 53.4 400.4" fill="none" stroke="#9fd0c8" stroke-width="0.44" opacity="0.49"/>
<path d="M50.0 402.0 Q54.7 400.5 55.4 393.5" fill="none" stroke="#2f9e48" stroke-width="0.68" opacity="0.44"/>
<path d="M50.0 402.0 Q62.6 399.6 79.2 404.2" fill="none" stroke="#9fd0c8" stroke-width="0.70" opacity="0.62"/>
<path d="M50.0 402.0 Q41.4 406.5 36.5 418.2" fill="none" stroke="#2f9e48" stroke-width="0.32" opacity="0.65"/>
<path d="M50.0 402.0 Q49.2 396.3 40.8 391.6" fill="none" stroke="#7fbf9a" stroke-width="0.38" opacity="0.52"/>
<path d="M50.0 402.0 Q68.4 398.6 81.7 393.0" fill="none" stroke="#2a8a40" stroke-width="0.52" opacity="0.67"/>
<path d="M50.0 402.0 Q63.4 408.5 77.6 410.9" fill="none" stroke="#7fbf9a" stroke-width="0.49" opacity="0.76"/>
<path d="M50.0 402.0 Q42.5 398.0 36.3 397.5" fill="none" stroke="#7fbf9a" stroke-width="0.60" opacity="0.79"/>
<path d="M50.0 402.0 Q47.5 416.0 48.3 429.0" fill="none" stroke="#9fd0c8" stroke-width="0.35" opacity="0.64"/>
<g filter="url(#b0)" fill="none" stroke-linecap="round">
<line x1="35.9" y1="382.6" x2="54.9" y2="375.4" stroke="#dfeaf5" stroke-width="0.8" opacity="0.85"/>
<line x1="54.9" y1="375.4" x2="65.7" y2="365.4" stroke="#dfeaf5" stroke-width="0.7" opacity="0.85"/>
<line x1="54" y1="368" x2="57" y2="385" stroke="#dfeaf5" stroke-width="1.0" opacity="0.85"/>
<line x1="45.8" y1="420.5" x2="52.4" y2="406.5" stroke="#dfeaf5" stroke-width="1.3" opacity="0.85"/>
<line x1="45.8" y1="420.5" x2="38" y2="436" stroke="#dfeaf5" stroke-width="0.6" opacity="0.85"/>
<line x1="85.6" y1="419.7" x2="70.2" y2="426.5" stroke="#dfeaf5" stroke-width="0.9" opacity="0.85"/>
<line x1="82.9" y1="434.1" x2="73.8" y2="441.3" stroke="#dfeaf5" stroke-width="1.1" opacity="0.85"/>
<line x1="73.8" y1="441.3" x2="69.5" y2="446" stroke="#dfeaf5" stroke-width="0.8" opacity="0.85"/>
<line x1="85" y1="431" x2="81" y2="437" stroke="#dfeaf5" stroke-width="1.0" opacity="0.85"/>
<line x1="85.6" y1="419.7" x2="92" y2="407" stroke="#dfeaf5" stroke-width="0.5" opacity="0.85"/>
<line x1="91.9" y1="382.6" x2="99" y2="390" stroke="#dfeaf5" stroke-width="0.6" opacity="0.85"/>
<line x1="35.9" y1="382.6" x2="27" y2="372" stroke="#dfeaf5" stroke-width="0.5" opacity="0.85"/>
<line x1="35.9" y1="382.6" x2="44" y2="394" stroke="#dfeaf5" stroke-width="0.5" opacity="0.85"/>
<line x1="69.3" y1="411.5" x2="57" y2="398" stroke="#dfeaf5" stroke-width="0.5" opacity="0.85"/>
<line x1="85.6" y1="419.7" x2="100" y2="425" stroke="#dfeaf5" stroke-width="0.5" opacity="0.85"/>
<line x1="54.9" y1="375.4" x2="44" y2="369" stroke="#dfeaf5" stroke-width="0.5" opacity="0.85"/>
</g>
<line x1="35.9" y1="382.6" x2="40.8" y2="385.1" stroke="#e8f4ff" stroke-width="0.91" opacity="0.8"/>
<line x1="35.9" y1="382.6" x2="30.9" y2="381.0" stroke="#e8f4ff" stroke-width="0.67" opacity="0.8"/>
<line x1="35.9" y1="382.6" x2="36.2" y2="377.5" stroke="#e8f4ff" stroke-width="0.77" opacity="0.8"/>
<line x1="35.9" y1="382.6" x2="36.0" y2="386.5" stroke="#e8f4ff" stroke-width="0.78" opacity="0.8"/>
<line x1="35.9" y1="382.6" x2="33.9" y2="387.0" stroke="#e8f4ff" stroke-width="0.90" opacity="0.8"/>
<line x1="35.9" y1="382.6" x2="36.8" y2="385.6" stroke="#e8f4ff" stroke-width="0.94" opacity="0.8"/>
<ellipse cx="35.9" cy="382.6" rx="2.0" ry="2.0" transform="rotate(0 35.9 382.6)" fill="none" stroke="#f3efff" stroke-width="1.1" opacity="0.95" filter="url(#b0)"/>
<ellipse cx="35.9" cy="382.6" rx="1.0" ry="1.0" transform="rotate(0 35.9 382.6)" fill="#7fd8e6" stroke="none" stroke-width="0.6" opacity="0.9"/>
<line x1="54.9" y1="375.4" x2="49.9" y2="379.9" stroke="#e8f4ff" stroke-width="0.61" opacity="0.8"/>
<line x1="54.9" y1="375.4" x2="54.0" y2="382.1" stroke="#e8f4ff" stroke-width="0.75" opacity="0.8"/>
<line x1="54.9" y1="375.4" x2="50.6" y2="373.2" stroke="#e8f4ff" stroke-width="0.84" opacity="0.8"/>
<line x1="54.9" y1="375.4" x2="48.1" y2="374.1" stroke="#e8f4ff" stroke-width="0.92" opacity="0.8"/>
<line x1="54.9" y1="375.4" x2="61.2" y2="379.5" stroke="#e8f4ff" stroke-width="0.69" opacity="0.8"/>
<line x1="54.9" y1="375.4" x2="51.8" y2="371.3" stroke="#e8f4ff" stroke-width="0.66" opacity="0.8"/>
<ellipse cx="54.9" cy="375.4" rx="2.0" ry="2.0" transform="rotate(0 54.9 375.4)" fill="none" stroke="#f3efff" stroke-width="1.1" opacity="0.95" filter="url(#b0)"/>
<ellipse cx="54.9" cy="375.4" rx="1.0" ry="1.0" transform="rotate(0 54.9 375.4)" fill="#7fd8e6" stroke="none" stroke-width="0.6" opacity="0.9"/>
<line x1="47.6" y1="417.8" x2="50.7" y2="410.6" stroke="#e8f4ff" stroke-width="0.56" opacity="0.8"/>
<line x1="47.6" y1="417.8" x2="41.5" y2="420.9" stroke="#e8f4ff" stroke-width="0.90" opacity="0.8"/>
<line x1="47.6" y1="417.8" x2="52.9" y2="416.7" stroke="#e8f4ff" stroke-width="0.54" opacity="0.8"/>
<line x1="47.6" y1="417.8" x2="54.5" y2="414.6" stroke="#e8f4ff" stroke-width="0.76" opacity="0.8"/>
<line x1="47.6" y1="417.8" x2="42.5" y2="418.8" stroke="#e8f4ff" stroke-width="0.89" opacity="0.8"/>
<line x1="47.6" y1="417.8" x2="48.2" y2="421.5" stroke="#e8f4ff" stroke-width="0.99" opacity="0.8"/>
<ellipse cx="47.6" cy="417.8" rx="2.0" ry="2.0" transform="rotate(0 47.6 417.8)" fill="none" stroke="#f3efff" stroke-width="1.1" opacity="0.95" filter="url(#b0)"/>
<ellipse cx="47.6" cy="417.8" rx="1.0" ry="1.0" transform="rotate(0 47.6 417.8)" fill="#7fd8e6" stroke="none" stroke-width="0.6" opacity="0.9"/>
<line x1="85.6" y1="419.7" x2="91.1" y2="424.2" stroke="#e8f4ff" stroke-width="0.85" opacity="0.8"/>
<line x1="85.6" y1="419.7" x2="89.9" y2="413.6" stroke="#e8f4ff" stroke-width="0.54" opacity="0.8"/>
<line x1="85.6" y1="419.7" x2="86.1" y2="416.7" stroke="#e8f4ff" stroke-width="0.56" opacity="0.8"/>
<line x1="85.6" y1="419.7" x2="82.7" y2="418.4" stroke="#e8f4ff" stroke-width="0.86" opacity="0.8"/>
<line x1="85.6" y1="419.7" x2="91.6" y2="418.3" stroke="#e8f4ff" stroke-width="0.76" opacity="0.8"/>
<line x1="85.6" y1="419.7" x2="79.3" y2="422.3" stroke="#e8f4ff" stroke-width="0.55" opacity="0.8"/>
<ellipse cx="85.6" cy="419.7" rx="2.0" ry="2.0" transform="rotate(0 85.6 419.7)" fill="none" stroke="#f3efff" stroke-width="1.1" opacity="0.95" filter="url(#b0)"/>
<ellipse cx="85.6" cy="419.7" rx="1.0" ry="1.0" transform="rotate(0 85.6 419.7)" fill="#7fd8e6" stroke="none" stroke-width="0.6" opacity="0.9"/>
<line x1="69.3" y1="411.5" x2="66.9" y2="418.8" stroke="#e8f4ff" stroke-width="0.60" opacity="0.8"/>
<line x1="69.3" y1="411.5" x2="68.8" y2="418.4" stroke="#e8f4ff" stroke-width="0.50" opacity="0.8"/>
<line x1="69.3" y1="411.5" x2="61.5" y2="409.6" stroke="#e8f4ff" stroke-width="0.64" opacity="0.8"/>
<line x1="69.3" y1="411.5" x2="66.4" y2="418.1" stroke="#e8f4ff" stroke-width="0.62" opacity="0.8"/>
<line x1="69.3" y1="411.5" x2="63.6" y2="410.6" stroke="#e8f4ff" stroke-width="0.51" opacity="0.8"/>
<line x1="69.3" y1="411.5" x2="64.0" y2="414.8" stroke="#e8f4ff" stroke-width="0.53" opacity="0.8"/>
<ellipse cx="69.3" cy="411.5" rx="2.0" ry="2.0" transform="rotate(0 69.3 411.5)" fill="none" stroke="#f3efff" stroke-width="1.1" opacity="0.95" filter="url(#b0)"/>
<ellipse cx="69.3" cy="411.5" rx="1.0" ry="1.0" transform="rotate(0 69.3 411.5)" fill="#7fd8e6" stroke="none" stroke-width="0.6" opacity="0.9"/>
<line x1="82.9" y1="434.1" x2="85.5" y2="441.1" stroke="#e8f4ff" stroke-width="0.82" opacity="0.8"/>
<line x1="82.9" y1="434.1" x2="86.5" y2="436.1" stroke="#e8f4ff" stroke-width="0.71" opacity="0.8"/>
<line x1="82.9" y1="434.1" x2="79.2" y2="438.1" stroke="#e8f4ff" stroke-width="0.85" opacity="0.8"/>
<line x1="82.9" y1="434.1" x2="81.9" y2="429.4" stroke="#e8f4ff" stroke-width="0.70" opacity="0.8"/>
<line x1="82.9" y1="434.1" x2="87.4" y2="434.3" stroke="#e8f4ff" stroke-width="0.92" opacity="0.8"/>
<line x1="82.9" y1="434.1" x2="87.9" y2="436.4" stroke="#e8f4ff" stroke-width="0.60" opacity="0.8"/>
<ellipse cx="82.9" cy="434.1" rx="2.0" ry="2.0" transform="rotate(0 82.9 434.1)" fill="none" stroke="#f3efff" stroke-width="1.1" opacity="0.95" filter="url(#b0)"/>
<ellipse cx="82.9" cy="434.1" rx="1.0" ry="1.0" transform="rotate(0 82.9 434.1)" fill="#7fd8e6" stroke="none" stroke-width="0.6" opacity="0.9"/>
<line x1="91.9" y1="382.6" x2="92.3" y2="378.7" stroke="#e8f4ff" stroke-width="0.73" opacity="0.8"/>
<line x1="91.9" y1="382.6" x2="91.2" y2="390.0" stroke="#e8f4ff" stroke-width="0.55" opacity="0.8"/>
<line x1="91.9" y1="382.6" x2="87.6" y2="378.4" stroke="#e8f4ff" stroke-width="0.95" opacity="0.8"/>
<line x1="91.9" y1="382.6" x2="84.4" y2="383.3" stroke="#e8f4ff" stroke-width="0.53" opacity="0.8"/>
<line x1="91.9" y1="382.6" x2="85.6" y2="378.3" stroke="#e8f4ff" stroke-width="0.53" opacity="0.8"/>
<line x1="91.9" y1="382.6" x2="97.8" y2="383.5" stroke="#e8f4ff" stroke-width="0.71" opacity="0.8"/>
<ellipse cx="91.9" cy="382.6" rx="2.0" ry="2.0" transform="rotate(0 91.9 382.6)" fill="none" stroke="#f3efff" stroke-width="1.1" opacity="0.95" filter="url(#b0)"/>
<ellipse cx="91.9" cy="382.6" rx="1.0" ry="1.0" transform="rotate(0 91.9 382.6)" fill="#7fd8e6" stroke="none" stroke-width="0.6" opacity="0.9"/>
<line x1="65.7" y1="365.4" x2="64.7" y2="361.6" stroke="#e8f4ff" stroke-width="0.72" opacity="0.8"/>
<line x1="65.7" y1="365.4" x2="64.6" y2="361.0" stroke="#e8f4ff" stroke-width="0.56" opacity="0.8"/>
<line x1="65.7" y1="365.4" x2="69.1" y2="367.2" stroke="#e8f4ff" stroke-width="0.60" opacity="0.8"/>
<line x1="65.7" y1="365.4" x2="62.5" y2="360.8" stroke="#e8f4ff" stroke-width="0.73" opacity="0.8"/>
<line x1="65.7" y1="365.4" x2="63.2" y2="371.5" stroke="#e8f4ff" stroke-width="0.92" opacity="0.8"/>
<line x1="65.7" y1="365.4" x2="70.9" y2="364.9" stroke="#e8f4ff" stroke-width="0.55" opacity="0.8"/>
<ellipse cx="65.7" cy="365.4" rx="2.0" ry="2.0" transform="rotate(0 65.7 365.4)" fill="none" stroke="#f3efff" stroke-width="1.1" opacity="0.95" filter="url(#b0)"/>
<ellipse cx="65.7" cy="365.4" rx="1.0" ry="1.0" transform="rotate(0 65.7 365.4)" fill="#7fd8e6" stroke="none" stroke-width="0.6" opacity="0.9"/>
<ellipse cx="85.6" cy="365.3" rx="3.2" ry="3.04" transform="rotate(0 85.6 365.3)" fill="#27dfe9" stroke="none" stroke-width="0.6" opacity="1" filter="url(#b2)"/>
<ellipse cx="39.5" cy="366.3" rx="1.4" ry="1.3299999999999998" transform="rotate(0 39.5 366.3)" fill="#27dfe9" stroke="none" stroke-width="0.6" opacity="1" filter="url(#b2)"/>
<ellipse cx="20.5" cy="379.9" rx="1.5" ry="1.4249999999999998" transform="rotate(0 20.5 379.9)" fill="#27dfe9" stroke="none" stroke-width="0.6" opacity="1" filter="url(#b2)"/>
<ellipse cx="43.1" cy="386.8" rx="2.5" ry="2.375" transform="rotate(0 43.1 386.8)" fill="#27dfe9" stroke="none" stroke-width="0.6" opacity="1" filter="url(#b2)"/>
<ellipse cx="59.4" cy="395.2" rx="3.7" ry="3.515" transform="rotate(0 59.4 395.2)" fill="#27dfe9" stroke="none" stroke-width="0.6" opacity="1" filter="url(#b2)"/>
<ellipse cx="78.4" cy="385.3" rx="3.5" ry="3.3249999999999997" transform="rotate(0 78.4 385.3)" fill="#27dfe9" stroke="none" stroke-width="0.6" opacity="1" filter="url(#b2)"/>
<ellipse cx="80.2" cy="395.6" rx="3.6" ry="3.42" transform="rotate(0 80.2 395.6)" fill="#27dfe9" stroke="none" stroke-width="0.6" opacity="1" filter="url(#b2)"/>
<ellipse cx="88.3" cy="392.5" rx="3.6" ry="3.42" transform="rotate(0 88.3 392.5)" fill="#27dfe9" stroke="none" stroke-width="0.6" opacity="1" filter="url(#b2)"/>
<ellipse cx="98.2" cy="389.8" rx="3.4" ry="3.23" transform="rotate(0 98.2 389.8)" fill="#27dfe9" stroke="none" stroke-width="0.6" opacity="1" filter="url(#b2)"/>
<ellipse cx="93.5" cy="381.5" rx="1.8" ry="1.71" transform="rotate(0 93.5 381.5)" fill="#27dfe9" stroke="none" stroke-width="0.6" opacity="1" filter="url(#b2)"/>
<ellipse cx="56.1" cy="404.8" rx="3.3" ry="3.135" transform="rotate(0 56.1 404.8)" fill="#27dfe9" stroke="none" stroke-width="0.6" opacity="1" filter="url(#b2)"/>
<ellipse cx="76.6" cy="409.7" rx="3.0" ry="2.8499999999999996" transform="rotate(0 76.6 409.7)" fill="#27dfe9" stroke="none" stroke-width="0.6" opacity="1" filter="url(#b2)"/>
<ellipse cx="57.2" cy="414.2" rx="3.5" ry="3.3249999999999997" transform="rotate(0 57.2 414.2)" fill="#27dfe9" stroke="none" stroke-width="0.6" opacity="1" filter="url(#b2)"/>
<ellipse cx="22.3" cy="412.4" rx="3.2" ry="3.04" transform="rotate(0 22.3 412.4)" fill="#27dfe9" stroke="none" stroke-width="0.6" opacity="1" filter="url(#b2)"/>
<ellipse cx="54.0" cy="421.8" rx="3.3" ry="3.135" transform="rotate(0 54.0 421.8)" fill="#27dfe9" stroke="none" stroke-width="0.6" opacity="1" filter="url(#b2)"/>
<ellipse cx="47.9" cy="419.5" rx="2.0" ry="1.9" transform="rotate(0 47.9 419.5)" fill="#27dfe9" stroke="none" stroke-width="0.6" opacity="1" filter="url(#b2)"/>
<ellipse cx="28.7" cy="418.7" rx="1.3" ry="1.2349999999999999" transform="rotate(0 28.7 418.7)" fill="#27dfe9" stroke="none" stroke-width="0.6" opacity="1" filter="url(#b2)"/>
<ellipse cx="35.9" cy="422.4" rx="1.2" ry="1.14" transform="rotate(0 35.9 422.4)" fill="#27dfe9" stroke="none" stroke-width="0.6" opacity="1" filter="url(#b2)"/>
<ellipse cx="47.6" cy="436.8" rx="3.2" ry="3.04" transform="rotate(0 47.6 436.8)" fill="#27dfe9" stroke="none" stroke-width="0.6" opacity="1" filter="url(#b2)"/>
<ellipse cx="60.3" cy="444.6" rx="2.5" ry="2.375" transform="rotate(0 60.3 444.6)" fill="#27dfe9" stroke="none" stroke-width="0.6" opacity="1" filter="url(#b2)"/>
<ellipse cx="91.0" cy="372.7" rx="1.3" ry="1.2349999999999999" transform="rotate(0 91.0 372.7)" fill="#27dfe9" stroke="none" stroke-width="0.6" opacity="1" filter="url(#b2)"/>
<ellipse cx="95.5" cy="412.4" rx="1.2" ry="1.14" transform="rotate(0 95.5 412.4)" fill="#27dfe9" stroke="none" stroke-width="0.6" opacity="1" filter="url(#b2)"/>
<ellipse cx="21.0" cy="364.5" rx="1.6" ry="1.52" transform="rotate(0 21.0 364.5)" fill="#27dfe9" stroke="none" stroke-width="0.6" opacity="1" filter="url(#b2)"/>
<ellipse cx="104.5" cy="397.0" rx="1.6" ry="1.52" transform="rotate(0 104.5 397.0)" fill="#27dfe9" stroke="none" stroke-width="0.6" opacity="1" filter="url(#b2)"/>
<ellipse cx="59.4" cy="430.5" rx="2.8" ry="2.6" transform="rotate(0 59.4 430.5)" fill="#1b9aa5" stroke="none" stroke-width="0.6" opacity="1" filter="url(#b2)"/>
<ellipse cx="101.0" cy="431.4" rx="1.4" ry="1.4" transform="rotate(0 101.0 431.4)" fill="#1b9aa5" stroke="none" stroke-width="0.6" opacity="1" filter="url(#b2)"/>
<text x="62.6" y="447.7" font-size="6.8" text-anchor="start" font-weight="bold" font-style="normal" fill="#f4f4f4">0</text>
<text x="78.5" y="447.7" font-size="6.8" text-anchor="start" font-weight="normal" font-style="normal" fill="#f4f4f4" textLength="8.8" lengthAdjust="spacingAndGlyphs">µm</text>
<text x="104.2" y="447.7" font-size="6.8" text-anchor="end" font-weight="normal" font-style="normal" fill="#f4f4f4">100</text>
<line x1="61.3" y1="450.3" x2="104.8" y2="450.3" stroke="#e8e8e8" stroke-width="0.7"/>
</g>
<rect x="18.2" y="352.9" width="88.3" height="10.300000000000011" fill="#fff" stroke="#9a9a9a" stroke-width="0.7"/>
<text x="66.1" y="360.8" font-size="8.5" text-anchor="middle" font-weight="bold" font-style="normal" fill="#111" textLength="26.6" lengthAdjust="spacingAndGlyphs">Vehicle</text>
<rect x="108.5" y="363.2" width="88.80000000000001" height="88.60000000000002" fill="#000"/>
<clipPath id="ce1"><rect x="108.5" y="363.2" width="88.80000000000001" height="88.60000000000002"/></clipPath>
<g clip-path="url(#ce1)">
<ellipse cx="113.8" cy="364.1" rx="1.6" ry="1.45" transform="rotate(0 113.8 364.1)" fill="#22d3dd" stroke="none" stroke-width="0.6" opacity="1" filter="url(#b1)"/>
<ellipse cx="122.2" cy="372.0" rx="1.6" ry="1.45" transform="rotate(0 122.2 372.0)" fill="#22d3dd" stroke="none" stroke-width="0.6" opacity="1" filter="url(#b1)"/>
<ellipse cx="116.9" cy="376.4" rx="1.6" ry="1.45" transform="rotate(0 116.9 376.4)" fill="#22d3dd" stroke="none" stroke-width="0.6" opacity="1" filter="url(#b1)"/>
<ellipse cx="118.0" cy="381.7" rx="1.6" ry="1.45" transform="rotate(0 118.0 381.7)" fill="#22d3dd" stroke="none" stroke-width="0.6" opacity="1" filter="url(#b1)"/>
<ellipse cx="124.3" cy="387.0" rx="1.6" ry="1.45" transform="rotate(0 124.3 387.0)" fill="#22d3dd" stroke="none" stroke-width="0.6" opacity="1" filter="url(#b1)"/>
<ellipse cx="119.0" cy="389.5" rx="1.6" ry="1.45" transform="rotate(0 119.0 389.5)" fill="#22d3dd" stroke="none" stroke-width="0.6" opacity="1" filter="url(#b1)"/>
<ellipse cx="114.4" cy="396.9" rx="1.6" ry="1.45" transform="rotate(0 114.4 396.9)" fill="#22d3dd" stroke="none" stroke-width="0.6" opacity="1" filter="url(#b1)"/>
<ellipse cx="123.3" cy="396.9" rx="1.6" ry="1.45" transform="rotate(0 123.3 396.9)" fill="#22d3dd" stroke="none" stroke-width="0.6" opacity="1" filter="url(#b1)"/>
<ellipse cx="129.6" cy="401.8" rx="1.6" ry="1.45" transform="rotate(0 129.6 401.8)" fill="#22d3dd" stroke="none" stroke-width="0.6" opacity="1" filter="url(#b1)"/>
<ellipse cx="115.9" cy="405.4" rx="1.6" ry="1.45" transform="rotate(0 115.9 405.4)" fill="#22d3dd" stroke="none" stroke-width="0.6" opacity="1" filter="url(#b1)"/>
<ellipse cx="124.3" cy="407.5" rx="1.6" ry="1.45" transform="rotate(0 124.3 407.5)" fill="#22d3dd" stroke="none" stroke-width="0.6" opacity="1" filter="url(#b1)"/>
<ellipse cx="115.9" cy="413.4" rx="1.6" ry="1.45" transform="rotate(0 115.9 413.4)" fill="#22d3dd" stroke="none" stroke-width="0.6" opacity="1" filter="url(#b1)"/>
<ellipse cx="124.3" cy="420.2" rx="1.6" ry="1.45" transform="rotate(0 124.3 420.2)" fill="#22d3dd" stroke="none" stroke-width="0.6" opacity="1" filter="url(#b1)"/>
<ellipse cx="115.9" cy="422.3" rx="1.6" ry="1.45" transform="rotate(0 115.9 422.3)" fill="#22d3dd" stroke="none" stroke-width="0.6" opacity="1" filter="url(#b1)"/>
<ellipse cx="112.7" cy="429.7" rx="1.6" ry="1.45" transform="rotate(0 112.7 429.7)" fill="#22d3dd" stroke="none" stroke-width="0.6" opacity="1" filter="url(#b1)"/>
<ellipse cx="120.1" cy="432.9" rx="1.6" ry="1.45" transform="rotate(0 120.1 432.9)" fill="#22d3dd" stroke="none" stroke-width="0.6" opacity="1" filter="url(#b1)"/>
<ellipse cx="123.3" cy="440.3" rx="1.6" ry="1.45" transform="rotate(0 123.3 440.3)" fill="#22d3dd" stroke="none" stroke-width="0.6" opacity="1" filter="url(#b1)"/>
<ellipse cx="118.0" cy="447.7" rx="1.6" ry="1.45" transform="rotate(0 118.0 447.7)" fill="#22d3dd" stroke="none" stroke-width="0.6" opacity="1" filter="url(#b1)"/>
<ellipse cx="133.8" cy="435.0" rx="1.6" ry="1.45" transform="rotate(0 133.8 435.0)" fill="#22d3dd" stroke="none" stroke-width="0.6" opacity="1" filter="url(#b1)"/>
<ellipse cx="134.9" cy="443.5" rx="1.6" ry="1.45" transform="rotate(0 134.9 443.5)" fill="#22d3dd" stroke="none" stroke-width="0.6" opacity="1" filter="url(#b1)"/>
<ellipse cx="142.3" cy="427.6" rx="1.6" ry="1.45" transform="rotate(0 142.3 427.6)" fill="#22d3dd" stroke="none" stroke-width="0.6" opacity="1" filter="url(#b1)"/>
<ellipse cx="143.4" cy="435.0" rx="1.6" ry="1.45" transform="rotate(0 143.4 435.0)" fill="#22d3dd" stroke="none" stroke-width="0.6" opacity="1" filter="url(#b1)"/>
<ellipse cx="141.3" cy="440.9" rx="1.6" ry="1.45" transform="rotate(0 141.3 440.9)" fill="#22d3dd" stroke="none" stroke-width="0.6" opacity="1" filter="url(#b1)"/>
<ellipse cx="149.7" cy="430.1" rx="1.6" ry="1.45" transform="rotate(0 149.7 430.1)" fill="#22d3dd" stroke="none" stroke-width="0.6" opacity="1" filter="url(#b1)"/>
<ellipse cx="138.1" cy="417.4" rx="1.6" ry="1.45" transform="rotate(0 138.1 417.4)" fill="#22d3dd" stroke="none" stroke-width="0.6" opacity="1" filter="url(#b1)"/>
<ellipse cx="145.5" cy="413.4" rx="1.6" ry="1.45" transform="rotate(0 145.5 413.4)" fill="#22d3dd" stroke="none" stroke-width="0.6" opacity="1" filter="url(#b1)"/>
<ellipse cx="151.8" cy="416.4" rx="1.6" ry="1.45" transform="rotate(0 151.8 416.4)" fill="#22d3dd" stroke="none" stroke-width="0.6" opacity="1" filter="url(#b1)"/>
<ellipse cx="136.0" cy="409.6" rx="1.6" ry="1.45" transform="rotate(0 136.0 409.6)" fill="#22d3dd" stroke="none" stroke-width="0.6" opacity="1" filter="url(#b1)"/>
<ellipse cx="138.1" cy="396.9" rx="1.6" ry="1.45" transform="rotate(0 138.1 396.9)" fill="#22d3dd" stroke="none" stroke-width="0.6" opacity="1" filter="url(#b1)"/>
<ellipse cx="145.5" cy="392.7" rx="1.6" ry="1.45" transform="rotate(0 145.5 392.7)" fill="#22d3dd" stroke="none" stroke-width="0.6" opacity="1" filter="url(#b1)"/>
<ellipse cx="156.1" cy="399.0" rx="1.6" ry="1.45" transform="rotate(0 156.1 399.0)" fill="#22d3dd" stroke="none" stroke-width="0.6" opacity="1" filter="url(#b1)"/>
<ellipse cx="159.2" cy="392.7" rx="1.6" ry="1.45" transform="rotate(0 159.2 392.7)" fill="#22d3dd" stroke="none" stroke-width="0.6" opacity="1" filter="url(#b1)"/>
<ellipse cx="143.4" cy="383.8" rx="1.6" ry="1.45" transform="rotate(0 143.4 383.8)" fill="#22d3dd" stroke="none" stroke-width="0.6" opacity="1" filter="url(#b1)"/>
<ellipse cx="148.7" cy="371.5" rx="1.6" ry="1.45" transform="rotate(0 148.7 371.5)" fill="#22d3dd" stroke="none" stroke-width="0.6" opacity="1" filter="url(#b1)"/>
<ellipse cx="151.8" cy="365.2" rx="1.6" ry="1.45" transform="rotate(0 151.8 365.2)" fill="#22d3dd" stroke="none" stroke-width="0.6" opacity="1" filter="url(#b1)"/>
<ellipse cx="160.3" cy="367.3" rx="1.6" ry="1.45" transform="rotate(0 160.3 367.3)" fill="#22d3dd" stroke="none" stroke-width="0.6" opacity="1" filter="url(#b1)"/>
<ellipse cx="159.2" cy="374.1" rx="1.6" ry="1.45" transform="rotate(0 159.2 374.1)" fill="#22d3dd" stroke="none" stroke-width="0.6" opacity="1" filter="url(#b1)"/>
<ellipse cx="166.6" cy="376.4" rx="1.6" ry="1.45" transform="rotate(0 166.6 376.4)" fill="#22d3dd" stroke="none" stroke-width="0.6" opacity="1" filter="url(#b1)"/>
<ellipse cx="161.3" cy="381.1" rx="1.6" ry="1.45" transform="rotate(0 161.3 381.1)" fill="#22d3dd" stroke="none" stroke-width="0.6" opacity="1" filter="url(#b1)"/>
<ellipse cx="175.7" cy="376.4" rx="1.6" ry="1.45" transform="rotate(0 175.7 376.4)" fill="#22d3dd" stroke="none" stroke-width="0.6" opacity="1" filter="url(#b1)"/>
<ellipse cx="169.8" cy="366.3" rx="1.6" ry="1.45" transform="rotate(0 169.8 366.3)" fill="#22d3dd" stroke="none" stroke-width="0.6" opacity="1" filter="url(#b1)"/>
<ellipse cx="182.5" cy="367.9" rx="1.6" ry="1.45" transform="rotate(0 182.5 367.9)" fill="#22d3dd" stroke="none" stroke-width="0.6" opacity="1" filter="url(#b1)"/>
<ellipse cx="191.0" cy="364.1" rx="1.6" ry="1.45" transform="rotate(0 191.0 364.1)" fill="#22d3dd" stroke="none" stroke-width="0.6" opacity="1" filter="url(#b1)"/>
<ellipse cx="190.5" cy="380.6" rx="1.6" ry="1.45" transform="rotate(0 190.5 380.6)" fill="#22d3dd" stroke="none" stroke-width="0.6" opacity="1" filter="url(#b1)"/>
<ellipse cx="182.1" cy="382.5" rx="1.6" ry="1.45" transform="rotate(0 182.1 382.5)" fill="#22d3dd" stroke="none" stroke-width="0.6" opacity="1" filter="url(#b1)"/>
<ellipse cx="176.6" cy="391.2" rx="1.6" ry="1.45" transform="rotate(0 176.6 391.2)" fill="#22d3dd" stroke="none" stroke-width="0.6" opacity="1" filter="url(#b1)"/>
<ellipse cx="192.0" cy="392.7" rx="1.6" ry="1.45" transform="rotate(0 192.0 392.7)" fill="#22d3dd" stroke="none" stroke-width="0.6" opacity="1" filter="url(#b1)"/>
<ellipse cx="169.2" cy="400.5" rx="1.6" ry="1.45" transform="rotate(0 169.2 400.5)" fill="#22d3dd" stroke="none" stroke-width="0.6" opacity="1" filter="url(#b1)"/>
<ellipse cx="163.5" cy="417.4" rx="1.6" ry="1.45" transform="rotate(0 163.5 417.4)" fill="#22d3dd" stroke="none" stroke-width="0.6" opacity="1" filter="url(#b1)"/>
<ellipse cx="163.5" cy="430.8" rx="1.6" ry="1.45" transform="rotate(0 163.5 430.8)" fill="#22d3dd" stroke="none" stroke-width="0.6" opacity="1" filter="url(#b1)"/>
<ellipse cx="170.9" cy="427.6" rx="1.6" ry="1.45" transform="rotate(0 170.9 427.6)" fill="#22d3dd" stroke="none" stroke-width="0.6" opacity="1" filter="url(#b1)"/>
<ellipse cx="182.5" cy="421.3" rx="1.6" ry="1.45" transform="rotate(0 182.5 421.3)" fill="#22d3dd" stroke="none" stroke-width="0.6" opacity="1" filter="url(#b1)"/>
<ellipse cx="187.2" cy="416.6" rx="1.6" ry="1.45" transform="rotate(0 187.2 416.6)" fill="#22d3dd" stroke="none" stroke-width="0.6" opacity="1" filter="url(#b1)"/>
<ellipse cx="196.3" cy="398.0" rx="1.6" ry="1.45" transform="rotate(0 196.3 398.0)" fill="#22d3dd" stroke="none" stroke-width="0.6" opacity="1" filter="url(#b1)"/>
<ellipse cx="193.1" cy="442.4" rx="1.6" ry="1.45" transform="rotate(0 193.1 442.4)" fill="#22d3dd" stroke="none" stroke-width="0.6" opacity="1" filter="url(#b1)"/>
<ellipse cx="110.6" cy="392.3" rx="1.6" ry="1.45" transform="rotate(0 110.6 392.3)" fill="#22d3dd" stroke="none" stroke-width="0.6" opacity="1" filter="url(#b1)"/>
<ellipse cx="109.5" cy="410.7" rx="1.6" ry="1.45" transform="rotate(0 109.5 410.7)" fill="#22d3dd" stroke="none" stroke-width="0.6" opacity="1" filter="url(#b1)"/>
<ellipse cx="132.4" cy="388.9" rx="1.5" ry="1.8" transform="rotate(0 132.4 388.9)" fill="#c837c8" stroke="none" stroke-width="0.6" opacity="1" filter="url(#b1)"/>
<text x="154.7" y="447.7" font-size="6.8" text-anchor="start" font-weight="bold" font-style="normal" fill="#f4f4f4">0</text>
<text x="169.5" y="447.7" font-size="6.8" text-anchor="start" font-weight="normal" font-style="normal" fill="#f4f4f4" textLength="8.8" lengthAdjust="spacingAndGlyphs">µm</text>
<text x="194.3" y="447.7" font-size="6.8" text-anchor="end" font-weight="normal" font-style="normal" fill="#f4f4f4">100</text>
<line x1="151.8" y1="450.3" x2="196.4" y2="450.3" stroke="#e8e8e8" stroke-width="0.7"/>
</g>
<rect x="108.5" y="352.9" width="88.80000000000001" height="10.300000000000011" fill="#fff" stroke="#9a9a9a" stroke-width="0.7"/>
<text x="151.3" y="360.8" font-size="8.5" text-anchor="middle" font-weight="bold" font-style="normal" fill="#111" textLength="54" lengthAdjust="spacingAndGlyphs">pa-bleb 50 µM</text>
<text x="221" y="339.8" font-size="10.5" text-anchor="start" font-weight="bold" font-style="normal" fill="#000" textLength="5.5" lengthAdjust="spacingAndGlyphs">F</text>
<line x1="266.2" y1="350" x2="266.2" y2="450.2" stroke="#1c1c1c" stroke-width="1.3"/>
<line x1="265.7" y1="449.7" x2="389.6" y2="449.7" stroke="#1c1c1c" stroke-width="1.3"/>
<line x1="262.9" y1="449.7" x2="266.2" y2="449.7" stroke="#1c1c1c" stroke-width="1.0"/>
<text x="261.0" y="452.55" font-size="8.4" text-anchor="end" font-weight="normal" font-style="normal" fill="#231f20" textLength="4.44" lengthAdjust="spacingAndGlyphs">0</text>
<line x1="262.9" y1="417.7" x2="266.2" y2="417.7" stroke="#1c1c1c" stroke-width="1.0"/>
<text x="261.0" y="417.65000000000003" font-size="5.71" text-anchor="end" fill="#231f20" textLength="3.02" lengthAdjust="spacingAndGlyphs">3</text>
<text x="257.88" y="420.55" font-size="8.4" text-anchor="end" fill="#231f20" textLength="17.97" lengthAdjust="spacingAndGlyphs">5×10</text>
<line x1="262.9" y1="385.7" x2="266.2" y2="385.7" stroke="#1c1c1c" stroke-width="1.0"/>
<text x="261.0" y="385.65000000000003" font-size="5.71" text-anchor="end" fill="#231f20" textLength="3.02" lengthAdjust="spacingAndGlyphs">4</text>
<text x="257.88" y="388.55" font-size="8.4" text-anchor="end" fill="#231f20" textLength="17.97" lengthAdjust="spacingAndGlyphs">1×10</text>
<line x1="262.9" y1="353.7" x2="266.2" y2="353.7" stroke="#1c1c1c" stroke-width="1.0"/>
<text x="261.0" y="353.65000000000003" font-size="5.71" text-anchor="end" fill="#231f20" textLength="3.02" lengthAdjust="spacingAndGlyphs">4</text>
<text x="257.88" y="356.55" font-size="8.4" text-anchor="end" fill="#231f20" textLength="24.63" lengthAdjust="spacingAndGlyphs">1.5×10</text>
<line x1="266.2" y1="449.7" x2="266.2" y2="452.9" stroke="#1c1c1c" stroke-width="1.0"/>
<text x="266.2" y="461.6" font-size="8.2" text-anchor="middle" font-weight="normal" font-style="normal" fill="#231f20" textLength="4.33" lengthAdjust="spacingAndGlyphs">0</text>
<line x1="296.05" y1="449.7" x2="296.05" y2="452.9" stroke="#1c1c1c" stroke-width="1.0"/>
<text x="296.05" y="461.6" font-size="8.2" text-anchor="middle" font-weight="normal" font-style="normal" fill="#231f20" textLength="4.33" lengthAdjust="spacingAndGlyphs">1</text>
<line x1="325.9" y1="449.7" x2="325.9" y2="452.9" stroke="#1c1c1c" stroke-width="1.0"/>
<text x="325.9" y="461.6" font-size="8.2" text-anchor="middle" font-weight="normal" font-style="normal" fill="#231f20" textLength="4.33" lengthAdjust="spacingAndGlyphs">2</text>
<line x1="355.75" y1="449.7" x2="355.75" y2="452.9" stroke="#1c1c1c" stroke-width="1.0"/>
<text x="355.75" y="461.6" font-size="8.2" text-anchor="middle" font-weight="normal" font-style="normal" fill="#231f20" textLength="4.33" lengthAdjust="spacingAndGlyphs">3</text>
<line x1="385.6" y1="449.7" x2="385.6" y2="452.9" stroke="#1c1c1c" stroke-width="1.0"/>
<text x="385.6" y="461.6" font-size="8.2" text-anchor="middle" font-weight="normal" font-style="normal" fill="#231f20" textLength="4.33" lengthAdjust="spacingAndGlyphs">4</text>
<text x="305.2" y="474.5" font-size="9.6" text-anchor="start" font-weight="normal" font-style="normal" fill="#231f20" textLength="42" lengthAdjust="spacingAndGlyphs">Time (hours)</text>
<text x="0" y="0" transform="translate(229,452) rotate(-90)" font-size="11" text-anchor="start" font-weight="normal" font-style="normal" fill="#231f20" textLength="101.2" lengthAdjust="spacingAndGlyphs">DNA release (Sytox Green RFU)</text>
<text x="334.5" y="346.6" font-size="9.2" text-anchor="middle" font-weight="normal" font-style="normal" fill="#231f20" textLength="20.8" lengthAdjust="spacingAndGlyphs" stroke="#231f20" stroke-width="0.22">PMA</text>
<line x1="310.975" y1="444.8" x2="310.975" y2="442.5" stroke="#3BB54A" stroke-width="0.8"/>
<line x1="309.375" y1="442.5" x2="312.57500000000005" y2="442.5" stroke="#3BB54A" stroke-width="0.8"/>
<line x1="325.9" y1="441.9" x2="325.9" y2="439" stroke="#3BB54A" stroke-width="0.8"/>
<line x1="324.29999999999995" y1="439" x2="327.5" y2="439" stroke="#3BB54A" stroke-width="0.8"/>
<line x1="340.825" y1="434.2" x2="340.825" y2="423.7" stroke="#3BB54A" stroke-width="0.8"/>
<line x1="339.22499999999997" y1="423.7" x2="342.425" y2="423.7" stroke="#3BB54A" stroke-width="0.8"/>
<line x1="355.75" y1="422.1" x2="355.75" y2="404.8" stroke="#3BB54A" stroke-width="0.8"/>
<line x1="354.15" y1="404.8" x2="357.35" y2="404.8" stroke="#3BB54A" stroke-width="0.8"/>
<line x1="370.675" y1="411.9" x2="370.675" y2="392.3" stroke="#3BB54A" stroke-width="0.8"/>
<line x1="369.075" y1="392.3" x2="372.27500000000003" y2="392.3" stroke="#3BB54A" stroke-width="0.8"/>
<line x1="385.6" y1="404.4" x2="385.6" y2="385.2" stroke="#3BB54A" stroke-width="0.8"/>
<line x1="384.0" y1="385.2" x2="387.20000000000005" y2="385.2" stroke="#3BB54A" stroke-width="0.8"/>
<polyline points="266.20,445.00 281.12,445.70 296.05,446.20 310.98,444.80 325.90,441.90 340.82,434.20 355.75,422.10 370.68,411.90 385.60,404.40" fill="none" stroke="#3BB54A" stroke-width="1.4" stroke-linejoin="round"/>
<rect x="264.50" y="443.30" width="3.40" height="3.40" fill="#3BB54A"/>
<rect x="279.43" y="444.00" width="3.40" height="3.40" fill="#3BB54A"/>
<rect x="294.35" y="444.50" width="3.40" height="3.40" fill="#3BB54A"/>
<rect x="309.28" y="443.10" width="3.40" height="3.40" fill="#3BB54A"/>
<rect x="324.20" y="440.20" width="3.40" height="3.40" fill="#3BB54A"/>
<rect x="339.12" y="432.50" width="3.40" height="3.40" fill="#3BB54A"/>
<rect x="354.05" y="420.40" width="3.40" height="3.40" fill="#3BB54A"/>
<rect x="368.98" y="410.20" width="3.40" height="3.40" fill="#3BB54A"/>
<rect x="383.90" y="402.70" width="3.40" height="3.40" fill="#3BB54A"/>
<line x1="296.05" y1="443.9" x2="296.05" y2="442.2" stroke="#14508A" stroke-width="0.8"/>
<line x1="294.45" y1="442.2" x2="297.65000000000003" y2="442.2" stroke="#14508A" stroke-width="0.8"/>
<line x1="310.975" y1="441.3" x2="310.975" y2="438.5" stroke="#14508A" stroke-width="0.8"/>
<line x1="309.375" y1="438.5" x2="312.57500000000005" y2="438.5" stroke="#14508A" stroke-width="0.8"/>
<line x1="325.9" y1="439" x2="325.9" y2="434.6" stroke="#14508A" stroke-width="0.8"/>
<line x1="324.29999999999995" y1="434.6" x2="327.5" y2="434.6" stroke="#14508A" stroke-width="0.8"/>
<line x1="340.825" y1="436.2" x2="340.825" y2="430.4" stroke="#14508A" stroke-width="0.8"/>
<line x1="339.22499999999997" y1="430.4" x2="342.425" y2="430.4" stroke="#14508A" stroke-width="0.8"/>
<line x1="355.75" y1="431.5" x2="355.75" y2="424.6" stroke="#14508A" stroke-width="0.8"/>
<line x1="354.15" y1="424.6" x2="357.35" y2="424.6" stroke="#14508A" stroke-width="0.8"/>
<line x1="370.675" y1="423.8" x2="370.675" y2="416.9" stroke="#14508A" stroke-width="0.8"/>
<line x1="369.075" y1="416.9" x2="372.27500000000003" y2="416.9" stroke="#14508A" stroke-width="0.8"/>
<line x1="385.6" y1="415.4" x2="385.6" y2="412.1" stroke="#14508A" stroke-width="0.8"/>
<line x1="384.0" y1="412.1" x2="387.20000000000005" y2="412.1" stroke="#14508A" stroke-width="0.8"/>
<polyline points="266.20,446.00 281.12,446.00 296.05,443.90 310.98,441.30 325.90,439.00 340.82,436.20 355.75,431.50 370.68,423.80 385.60,415.40" fill="none" stroke="#14508A" stroke-width="1.4" stroke-linejoin="round"/>
<rect x="264.50" y="444.30" width="3.40" height="3.40" fill="#14508A"/>
<rect x="279.43" y="444.30" width="3.40" height="3.40" fill="#14508A"/>
<rect x="294.35" y="442.20" width="3.40" height="3.40" fill="#14508A"/>
<rect x="309.28" y="439.60" width="3.40" height="3.40" fill="#14508A"/>
<rect x="324.20" y="437.30" width="3.40" height="3.40" fill="#14508A"/>
<rect x="339.12" y="434.50" width="3.40" height="3.40" fill="#14508A"/>
<rect x="354.05" y="429.80" width="3.40" height="3.40" fill="#14508A"/>
<rect x="368.98" y="422.10" width="3.40" height="3.40" fill="#14508A"/>
<rect x="383.90" y="413.70" width="3.40" height="3.40" fill="#14508A"/>
<line x1="266.2" y1="443.75" x2="266.2" y2="442" stroke="#C41230" stroke-width="0.8"/>
<line x1="264.59999999999997" y1="442" x2="267.8" y2="442" stroke="#C41230" stroke-width="0.8"/>
<line x1="281.125" y1="445" x2="281.125" y2="443.4" stroke="#C41230" stroke-width="0.8"/>
<line x1="279.525" y1="443.4" x2="282.725" y2="443.4" stroke="#C41230" stroke-width="0.8"/>
<line x1="296.05" y1="443.25" x2="296.05" y2="441.5" stroke="#C41230" stroke-width="0.8"/>
<line x1="294.45" y1="441.5" x2="297.65000000000003" y2="441.5" stroke="#C41230" stroke-width="0.8"/>
<line x1="310.975" y1="439" x2="310.975" y2="434.2" stroke="#C41230" stroke-width="0.8"/>
<line x1="309.375" y1="434.2" x2="312.57500000000005" y2="434.2" stroke="#C41230" stroke-width="0.8"/>
<line x1="325.9" y1="426.7" x2="325.9" y2="420.4" stroke="#C41230" stroke-width="0.8"/>
<line x1="324.29999999999995" y1="420.4" x2="327.5" y2="420.4" stroke="#C41230" stroke-width="0.8"/>
<line x1="340.825" y1="404" x2="340.825" y2="393.3" stroke="#C41230" stroke-width="0.8"/>
<line x1="339.22499999999997" y1="393.3" x2="342.425" y2="393.3" stroke="#C41230" stroke-width="0.8"/>
<line x1="355.75" y1="387.7" x2="355.75" y2="378.1" stroke="#C41230" stroke-width="0.8"/>
<line x1="354.15" y1="378.1" x2="357.35" y2="378.1" stroke="#C41230" stroke-width="0.8"/>
<line x1="370.675" y1="379.6" x2="370.675" y2="371.7" stroke="#C41230" stroke-width="0.8"/>
<line x1="369.075" y1="371.7" x2="372.27500000000003" y2="371.7" stroke="#C41230" stroke-width="0.8"/>
<line x1="385.6" y1="376" x2="385.6" y2="369.2" stroke="#C41230" stroke-width="0.8"/>
<line x1="384.0" y1="369.2" x2="387.20000000000005" y2="369.2" stroke="#C41230" stroke-width="0.8"/>
<polyline points="266.20,443.75 281.12,445.00 296.05,443.25 310.98,439.00 325.90,426.70 340.82,404.00 355.75,387.70 370.68,379.60 385.60,376.00" fill="none" stroke="#C41230" stroke-width="1.4" stroke-linejoin="round"/>
<rect x="264.50" y="442.05" width="3.40" height="3.40" fill="#C41230"/>
<rect x="279.43" y="443.30" width="3.40" height="3.40" fill="#C41230"/>
<rect x="294.35" y="441.55" width="3.40" height="3.40" fill="#C41230"/>
<rect x="309.28" y="437.30" width="3.40" height="3.40" fill="#C41230"/>
<rect x="324.20" y="425.00" width="3.40" height="3.40" fill="#C41230"/>
<rect x="339.12" y="402.30" width="3.40" height="3.40" fill="#C41230"/>
<rect x="354.05" y="386.00" width="3.40" height="3.40" fill="#C41230"/>
<rect x="368.98" y="377.90" width="3.40" height="3.40" fill="#C41230"/>
<rect x="383.90" y="374.30" width="3.40" height="3.40" fill="#C41230"/>
<line x1="274.2" y1="361.8" x2="283.5" y2="361.8" stroke="#C41230" stroke-width="1.2"/>
<rect x="277.15" y="360.10" width="3.40" height="3.40" fill="#C41230"/>
<text x="286.8" y="364.3" font-size="7.2" text-anchor="start" font-weight="normal" font-style="normal" fill="#231f20" textLength="24.2" lengthAdjust="spacingAndGlyphs" stroke="#231f20" stroke-width="0.22">Vehicle</text>
<line x1="274.2" y1="371.3" x2="283.5" y2="371.3" stroke="#14508A" stroke-width="1.2"/>
<rect x="277.15" y="369.60" width="3.40" height="3.40" fill="#14508A"/>
<text x="286.8" y="373.8" font-size="7.2" text-anchor="start" font-weight="normal" font-style="normal" fill="#231f20" textLength="48.6" lengthAdjust="spacingAndGlyphs" stroke="#231f20" stroke-width="0.22">pa-bleb 50 µM</text>
<line x1="274.2" y1="380.6" x2="283.5" y2="380.6" stroke="#3BB54A" stroke-width="1.2"/>
<rect x="277.15" y="378.90" width="3.40" height="3.40" fill="#3BB54A"/>
<text x="286.8" y="383.1" font-size="7.2" text-anchor="start" font-weight="normal" font-style="normal" fill="#231f20" textLength="48.6" lengthAdjust="spacingAndGlyphs" stroke="#231f20" stroke-width="0.22">pa-bleb 25 µM</text>
<rect x="439.50" y="383.30" width="13.70" height="66.40" fill="#e58a97"/>
<rect x="459.40" y="426.46" width="13.70" height="23.24" fill="#e58a97"/>
<rect x="479.10" y="413.84" width="13.70" height="35.86" fill="#e58a97"/>
<line x1="432.9" y1="383.29999999999995" x2="500.8" y2="383.29999999999995" stroke="#333" stroke-width="0.7" stroke-dasharray="0.9,1.1"/>
<line x1="432.9" y1="345.8" x2="432.9" y2="450.2" stroke="#1c1c1c" stroke-width="1.3"/>
<line x1="432.4" y1="449.7" x2="499.8" y2="449.7" stroke="#1c1c1c" stroke-width="1.3"/>
<line x1="429.59999999999997" y1="449.7" x2="432.9" y2="449.7" stroke="#1c1c1c" stroke-width="1.0"/>
<text x="427.9" y="452.55" font-size="8.4" text-anchor="end" font-weight="normal" font-style="normal" fill="#231f20" textLength="4.44" lengthAdjust="spacingAndGlyphs">0</text>
<line x1="429.59999999999997" y1="416.5" x2="432.9" y2="416.5" stroke="#1c1c1c" stroke-width="1.0"/>
<text x="427.9" y="419.35" font-size="8.4" text-anchor="end" font-weight="normal" font-style="normal" fill="#231f20" textLength="8.88" lengthAdjust="spacingAndGlyphs">50</text>
<line x1="429.59999999999997" y1="383.29999999999995" x2="432.9" y2="383.29999999999995" stroke="#1c1c1c" stroke-width="1.0"/>
<text x="427.9" y="386.15" font-size="8.4" text-anchor="end" font-weight="normal" font-style="normal" fill="#231f20" textLength="13.31" lengthAdjust="spacingAndGlyphs">100</text>
<line x1="429.59999999999997" y1="350.09999999999997" x2="432.9" y2="350.09999999999997" stroke="#1c1c1c" stroke-width="1.0"/>
<text x="427.9" y="352.95" font-size="8.4" text-anchor="end" font-weight="normal" font-style="normal" fill="#231f20" textLength="13.31" lengthAdjust="spacingAndGlyphs">150</text>
<line x1="446.3" y1="449.7" x2="446.3" y2="452.9" stroke="#1c1c1c" stroke-width="1.0"/>
<line x1="466.2" y1="449.7" x2="466.2" y2="452.9" stroke="#1c1c1c" stroke-width="1.0"/>
<line x1="486" y1="449.7" x2="486" y2="452.9" stroke="#1c1c1c" stroke-width="1.0"/>
<text x="0" y="0" transform="translate(408.6,441.3) rotate(-90)" font-size="10.4" text-anchor="start" font-weight="normal" font-style="normal" fill="#231f20" textLength="88.3" lengthAdjust="spacingAndGlyphs">DNA release (relative AUC)</text>
<line x1="441.2" y1="383.3" x2="451.6" y2="383.3" stroke="#C41230" stroke-width="3.7" stroke-linecap="round"/>
<line x1="466.2" y1="418.4" x2="466.2" y2="434.3" stroke="#1a1a1a" stroke-width="1"/>
<line x1="463.0" y1="418.4" x2="469.4" y2="418.4" stroke="#1a1a1a" stroke-width="1"/>
<line x1="463.0" y1="434.3" x2="469.4" y2="434.3" stroke="#1a1a1a" stroke-width="1"/>
<ellipse cx="460.4" cy="420.8" rx="1.8" ry="1.8" transform="rotate(0 460.4 420.8)" fill="#C41230" stroke="none" stroke-width="0.6" opacity="1"/>
<ellipse cx="466.2" cy="416.7" rx="1.8" ry="1.8" transform="rotate(0 466.2 416.7)" fill="#C41230" stroke="none" stroke-width="0.6" opacity="1"/>
<ellipse cx="466.2" cy="422.0" rx="1.8" ry="1.8" transform="rotate(0 466.2 422.0)" fill="#C41230" stroke="none" stroke-width="0.6" opacity="1"/>
<ellipse cx="466.2" cy="427.5" rx="1.8" ry="1.8" transform="rotate(0 466.2 427.5)" fill="#C41230" stroke="none" stroke-width="0.6" opacity="1"/>
<ellipse cx="466.2" cy="432.4" rx="1.8" ry="1.8" transform="rotate(0 466.2 432.4)" fill="#C41230" stroke="none" stroke-width="0.6" opacity="1"/>
<ellipse cx="466.2" cy="439.1" rx="1.8" ry="1.8" transform="rotate(0 466.2 439.1)" fill="#C41230" stroke="none" stroke-width="0.6" opacity="1"/>
<line x1="486.1" y1="404" x2="486.1" y2="424" stroke="#1a1a1a" stroke-width="1"/>
<line x1="482.90000000000003" y1="404" x2="489.3" y2="404" stroke="#1a1a1a" stroke-width="1"/>
<line x1="482.90000000000003" y1="424" x2="489.3" y2="424" stroke="#1a1a1a" stroke-width="1"/>
<ellipse cx="486.1" cy="404.0" rx="1.8" ry="1.8" transform="rotate(0 486.1 404.0)" fill="#C41230" stroke="none" stroke-width="0.6" opacity="1"/>
<ellipse cx="486.1" cy="408.5" rx="1.8" ry="1.8" transform="rotate(0 486.1 408.5)" fill="#C41230" stroke="none" stroke-width="0.6" opacity="1"/>
<ellipse cx="486.1" cy="419.1" rx="1.8" ry="1.8" transform="rotate(0 486.1 419.1)" fill="#C41230" stroke="none" stroke-width="0.6" opacity="1"/>
<ellipse cx="486.1" cy="424.0" rx="1.8" ry="1.8" transform="rotate(0 486.1 424.0)" fill="#C41230" stroke="none" stroke-width="0.6" opacity="1"/>
<path d="M438.5 355 V352.3 H486.3 V355 M466.2 352.3 V355" fill="none" stroke="#1a1a1a" stroke-width="1.05"/>
<text x="465.9" y="364.6" font-size="9" text-anchor="middle" font-weight="normal" font-style="normal" fill="#231f20" textLength="12.4" lengthAdjust="spacingAndGlyphs" stroke="#231f20" stroke-width="0.22">****</text>
<text x="486.2" y="364.6" font-size="9" text-anchor="middle" font-weight="normal" font-style="normal" fill="#231f20" textLength="6.2" lengthAdjust="spacingAndGlyphs" stroke="#231f20" stroke-width="0.22">**</text>
<rect x="488.80" y="371.40" width="4.60" height="4.60" fill="#C41230"/>
<text x="497" y="376.4" font-size="7.8" text-anchor="start" font-weight="normal" font-style="normal" fill="#231f20" textLength="15.9" lengthAdjust="spacingAndGlyphs" stroke="#231f20" stroke-width="0.22">PMA</text>
<text x="0" y="0" transform="translate(451.2,457.8) rotate(-45)" font-size="7.7" text-anchor="end" font-weight="normal" font-style="normal" fill="#231f20" textLength="26" lengthAdjust="spacingAndGlyphs" stroke="#231f20" stroke-width="0.22">Vehicle</text>
<text x="0" y="0" transform="translate(471.3,457.8) rotate(-45)" font-size="7.7" text-anchor="end" font-weight="normal" font-style="normal" fill="#231f20" textLength="53.5" lengthAdjust="spacingAndGlyphs" stroke="#231f20" stroke-width="0.22">pa-bleb 50 µM</text>
<text x="0" y="0" transform="translate(491.6,457.8) rotate(-45)" font-size="7.7" text-anchor="end" font-weight="normal" font-style="normal" fill="#231f20" textLength="53.5" lengthAdjust="spacingAndGlyphs" stroke="#231f20" stroke-width="0.22">pa-bleb 25 µM</text>
<text x="218" y="500.9" font-size="10.5" text-anchor="start" font-weight="bold" font-style="normal" fill="#000" textLength="7.6" lengthAdjust="spacingAndGlyphs">G</text>
<line x1="266.2" y1="505" x2="266.2" y2="609.65" stroke="#1c1c1c" stroke-width="1.3"/>
<line x1="265.7" y1="609.15" x2="389.6" y2="609.15" stroke="#1c1c1c" stroke-width="1.3"/>
<line x1="262.9" y1="609.15" x2="266.2" y2="609.15" stroke="#1c1c1c" stroke-width="1.0"/>
<text x="261.0" y="612.0" font-size="8.4" text-anchor="end" font-weight="normal" font-style="normal" fill="#231f20" textLength="4.44" lengthAdjust="spacingAndGlyphs">0</text>
<line x1="262.9" y1="589.75" x2="266.2" y2="589.75" stroke="#1c1c1c" stroke-width="1.0"/>
<text x="261.0" y="589.7" font-size="5.71" text-anchor="end" fill="#231f20" textLength="3.02" lengthAdjust="spacingAndGlyphs">3</text>
<text x="257.88" y="592.6" font-size="8.4" text-anchor="end" fill="#231f20" textLength="17.97" lengthAdjust="spacingAndGlyphs">2×10</text>
<line x1="262.9" y1="570.35" x2="266.2" y2="570.35" stroke="#1c1c1c" stroke-width="1.0"/>
<text x="261.0" y="570.3000000000001" font-size="5.71" text-anchor="end" fill="#231f20" textLength="3.02" lengthAdjust="spacingAndGlyphs">3</text>
<text x="257.88" y="573.2" font-size="8.4" text-anchor="end" fill="#231f20" textLength="17.97" lengthAdjust="spacingAndGlyphs">4×10</text>
<line x1="262.9" y1="550.95" x2="266.2" y2="550.95" stroke="#1c1c1c" stroke-width="1.0"/>
<text x="261.0" y="550.9000000000001" font-size="5.71" text-anchor="end" fill="#231f20" textLength="3.02" lengthAdjust="spacingAndGlyphs">3</text>
<text x="257.88" y="553.8000000000001" font-size="8.4" text-anchor="end" fill="#231f20" textLength="17.97" lengthAdjust="spacingAndGlyphs">6×10</text>
<line x1="262.9" y1="531.55" x2="266.2" y2="531.55" stroke="#1c1c1c" stroke-width="1.0"/>
<text x="261.0" y="531.5" font-size="5.71" text-anchor="end" fill="#231f20" textLength="3.02" lengthAdjust="spacingAndGlyphs">3</text>
<text x="257.88" y="534.4" font-size="8.4" text-anchor="end" fill="#231f20" textLength="17.97" lengthAdjust="spacingAndGlyphs">8×10</text>
<line x1="262.9" y1="512.15" x2="266.2" y2="512.15" stroke="#1c1c1c" stroke-width="1.0"/>
<text x="261.0" y="512.1" font-size="5.71" text-anchor="end" fill="#231f20" textLength="3.02" lengthAdjust="spacingAndGlyphs">4</text>
<text x="257.88" y="515.0" font-size="8.4" text-anchor="end" fill="#231f20" textLength="17.97" lengthAdjust="spacingAndGlyphs">1×10</text>
<line x1="266.2" y1="609.15" x2="266.2" y2="612.35" stroke="#1c1c1c" stroke-width="1.0"/>
<text x="266.2" y="621.1" font-size="8.2" text-anchor="middle" font-weight="normal" font-style="normal" fill="#231f20" textLength="4.33" lengthAdjust="spacingAndGlyphs">0</text>
<line x1="296.05" y1="609.15" x2="296.05" y2="612.35" stroke="#1c1c1c" stroke-width="1.0"/>
<text x="296.05" y="621.1" font-size="8.2" text-anchor="middle" font-weight="normal" font-style="normal" fill="#231f20" textLength="4.33" lengthAdjust="spacingAndGlyphs">1</text>
<line x1="325.9" y1="609.15" x2="325.9" y2="612.35" stroke="#1c1c1c" stroke-width="1.0"/>
<text x="325.9" y="621.1" font-size="8.2" text-anchor="middle" font-weight="normal" font-style="normal" fill="#231f20" textLength="4.33" lengthAdjust="spacingAndGlyphs">2</text>
<line x1="355.75" y1="609.15" x2="355.75" y2="612.35" stroke="#1c1c1c" stroke-width="1.0"/>
<text x="355.75" y="621.1" font-size="8.2" text-anchor="middle" font-weight="normal" font-style="normal" fill="#231f20" textLength="4.33" lengthAdjust="spacingAndGlyphs">3</text>
<line x1="385.6" y1="609.15" x2="385.6" y2="612.35" stroke="#1c1c1c" stroke-width="1.0"/>
<text x="385.6" y="621.1" font-size="8.2" text-anchor="middle" font-weight="normal" font-style="normal" fill="#231f20" textLength="4.33" lengthAdjust="spacingAndGlyphs">4</text>
<text x="305.2" y="634.2" font-size="9.6" text-anchor="start" font-weight="normal" font-style="normal" fill="#231f20" textLength="42" lengthAdjust="spacingAndGlyphs">Time (hours)</text>
<text x="0" y="0" transform="translate(236,611.2) rotate(-90)" font-size="11" text-anchor="start" font-weight="normal" font-style="normal" fill="#231f20" textLength="101.2" lengthAdjust="spacingAndGlyphs">DNA release (Sytox Green RFU)</text>
<text x="334.5" y="501.2" font-size="9.2" text-anchor="middle" font-weight="normal" font-style="italic" fill="#231f20" textLength="46.2" lengthAdjust="spacingAndGlyphs" stroke="#231f20" stroke-width="0.22">C. albicans</text>
<polyline points="266.20,600.00 281.12,599.50 296.05,595.75 310.98,590.50 325.90,585.05 340.82,581.00 355.75,577.40 370.68,574.50 385.60,572.10" fill="none" stroke="#3BB54A" stroke-width="1.4" stroke-linejoin="round"/>
<rect x="264.50" y="598.30" width="3.40" height="3.40" fill="#3BB54A"/>
<rect x="279.43" y="597.80" width="3.40" height="3.40" fill="#3BB54A"/>
<rect x="294.35" y="594.05" width="3.40" height="3.40" fill="#3BB54A"/>
<rect x="309.28" y="588.80" width="3.40" height="3.40" fill="#3BB54A"/>
<rect x="324.20" y="583.35" width="3.40" height="3.40" fill="#3BB54A"/>
<rect x="339.12" y="579.30" width="3.40" height="3.40" fill="#3BB54A"/>
<rect x="354.05" y="575.70" width="3.40" height="3.40" fill="#3BB54A"/>
<rect x="368.98" y="572.80" width="3.40" height="3.40" fill="#3BB54A"/>
<rect x="383.90" y="570.40" width="3.40" height="3.40" fill="#3BB54A"/>
<polyline points="266.20,602.50 281.12,602.75 296.05,600.75 310.98,597.75 325.90,594.70 340.82,591.60 355.75,589.00 370.68,586.70 385.60,585.10" fill="none" stroke="#14508A" stroke-width="1.4" stroke-linejoin="round"/>
<rect x="264.50" y="600.80" width="3.40" height="3.40" fill="#14508A"/>
<rect x="279.43" y="601.05" width="3.40" height="3.40" fill="#14508A"/>
<rect x="294.35" y="599.05" width="3.40" height="3.40" fill="#14508A"/>
<rect x="309.28" y="596.05" width="3.40" height="3.40" fill="#14508A"/>
<rect x="324.20" y="593.00" width="3.40" height="3.40" fill="#14508A"/>
<rect x="339.12" y="589.90" width="3.40" height="3.40" fill="#14508A"/>
<rect x="354.05" y="587.30" width="3.40" height="3.40" fill="#14508A"/>
<rect x="368.98" y="585.00" width="3.40" height="3.40" fill="#14508A"/>
<rect x="383.90" y="583.40" width="3.40" height="3.40" fill="#14508A"/>
<line x1="266.2" y1="597" x2="266.2" y2="593.7" stroke="#C41230" stroke-width="0.8"/>
<line x1="264.59999999999997" y1="593.7" x2="267.8" y2="593.7" stroke="#C41230" stroke-width="0.8"/>
<line x1="281.125" y1="596.75" x2="281.125" y2="593.45" stroke="#C41230" stroke-width="0.8"/>
<line x1="279.525" y1="593.45" x2="282.725" y2="593.45" stroke="#C41230" stroke-width="0.8"/>
<line x1="296.05" y1="591.75" x2="296.05" y2="588.45" stroke="#C41230" stroke-width="0.8"/>
<line x1="294.45" y1="588.45" x2="297.65000000000003" y2="588.45" stroke="#C41230" stroke-width="0.8"/>
<line x1="310.975" y1="584.1" x2="310.975" y2="580.8000000000001" stroke="#C41230" stroke-width="0.8"/>
<line x1="309.375" y1="580.8000000000001" x2="312.57500000000005" y2="580.8000000000001" stroke="#C41230" stroke-width="0.8"/>
<line x1="325.9" y1="576.1" x2="325.9" y2="572.8000000000001" stroke="#C41230" stroke-width="0.8"/>
<line x1="324.29999999999995" y1="572.8000000000001" x2="327.5" y2="572.8000000000001" stroke="#C41230" stroke-width="0.8"/>
<line x1="340.825" y1="568.6" x2="340.825" y2="565.3000000000001" stroke="#C41230" stroke-width="0.8"/>
<line x1="339.22499999999997" y1="565.3000000000001" x2="342.425" y2="565.3000000000001" stroke="#C41230" stroke-width="0.8"/>
<line x1="355.75" y1="560.7" x2="355.75" y2="557.4000000000001" stroke="#C41230" stroke-width="0.8"/>
<line x1="354.15" y1="557.4000000000001" x2="357.35" y2="557.4000000000001" stroke="#C41230" stroke-width="0.8"/>
<line x1="370.675" y1="553.9" x2="370.675" y2="550.6" stroke="#C41230" stroke-width="0.8"/>
<line x1="369.075" y1="550.6" x2="372.27500000000003" y2="550.6" stroke="#C41230" stroke-width="0.8"/>
<line x1="385.6" y1="548.5" x2="385.6" y2="545.2" stroke="#C41230" stroke-width="0.8"/>
<line x1="384.0" y1="545.2" x2="387.20000000000005" y2="545.2" stroke="#C41230" stroke-width="0.8"/>
<polyline points="266.20,597.00 281.12,596.75 296.05,591.75 310.98,584.10 325.90,576.10 340.82,568.60 355.75,560.70 370.68,553.90 385.60,548.50" fill="none" stroke="#C41230" stroke-width="1.4" stroke-linejoin="round"/>
<rect x="264.50" y="595.30" width="3.40" height="3.40" fill="#C41230"/>
<rect x="279.43" y="595.05" width="3.40" height="3.40" fill="#C41230"/>
<rect x="294.35" y="590.05" width="3.40" height="3.40" fill="#C41230"/>
<rect x="309.28" y="582.40" width="3.40" height="3.40" fill="#C41230"/>
<rect x="324.20" y="574.40" width="3.40" height="3.40" fill="#C41230"/>
<rect x="339.12" y="566.90" width="3.40" height="3.40" fill="#C41230"/>
<rect x="354.05" y="559.00" width="3.40" height="3.40" fill="#C41230"/>
<rect x="368.98" y="552.20" width="3.40" height="3.40" fill="#C41230"/>
<rect x="383.90" y="546.80" width="3.40" height="3.40" fill="#C41230"/>
<line x1="329" y1="513" x2="338.3" y2="513" stroke="#C41230" stroke-width="1.2"/>
<rect x="331.95" y="511.30" width="3.40" height="3.40" fill="#C41230"/>
<text x="341.6" y="515.5" font-size="7.2" text-anchor="start" font-weight="normal" font-style="normal" fill="#231f20" textLength="24.2" lengthAdjust="spacingAndGlyphs" stroke="#231f20" stroke-width="0.22">Vehicle</text>
<line x1="329" y1="522.6" x2="338.3" y2="522.6" stroke="#14508A" stroke-width="1.2"/>
<rect x="331.95" y="520.90" width="3.40" height="3.40" fill="#14508A"/>
<text x="341.6" y="525.1" font-size="7.2" text-anchor="start" font-weight="normal" font-style="normal" fill="#231f20" textLength="48.6" lengthAdjust="spacingAndGlyphs" stroke="#231f20" stroke-width="0.22">pa-bleb 50 µM</text>
<line x1="329" y1="532" x2="338.3" y2="532" stroke="#3BB54A" stroke-width="1.2"/>
<rect x="331.95" y="530.30" width="3.40" height="3.40" fill="#3BB54A"/>
<text x="341.6" y="534.5" font-size="7.2" text-anchor="start" font-weight="normal" font-style="normal" fill="#231f20" textLength="48.6" lengthAdjust="spacingAndGlyphs" stroke="#231f20" stroke-width="0.22">pa-bleb 25 µM</text>
<rect x="439.50" y="542.40" width="13.70" height="66.35" fill="#b091c1"/>
<rect x="459.40" y="585.53" width="13.70" height="23.22" fill="#b091c1"/>
<rect x="479.10" y="565.62" width="13.70" height="43.13" fill="#b091c1"/>
<line x1="432.9" y1="542.4" x2="500.8" y2="542.4" stroke="#333" stroke-width="0.7" stroke-dasharray="0.9,1.1"/>
<line x1="432.9" y1="504.9" x2="432.9" y2="609.25" stroke="#1c1c1c" stroke-width="1.3"/>
<line x1="432.4" y1="608.75" x2="499.8" y2="608.75" stroke="#1c1c1c" stroke-width="1.3"/>
<line x1="429.59999999999997" y1="608.75" x2="432.9" y2="608.75" stroke="#1c1c1c" stroke-width="1.0"/>
<text x="427.9" y="611.6" font-size="8.4" text-anchor="end" font-weight="normal" font-style="normal" fill="#231f20" textLength="4.44" lengthAdjust="spacingAndGlyphs">0</text>
<line x1="429.59999999999997" y1="575.575" x2="432.9" y2="575.575" stroke="#1c1c1c" stroke-width="1.0"/>
<text x="427.9" y="578.4250000000001" font-size="8.4" text-anchor="end" font-weight="normal" font-style="normal" fill="#231f20" textLength="8.88" lengthAdjust="spacingAndGlyphs">50</text>
<line x1="429.59999999999997" y1="542.4" x2="432.9" y2="542.4" stroke="#1c1c1c" stroke-width="1.0"/>
<text x="427.9" y="545.25" font-size="8.4" text-anchor="end" font-weight="normal" font-style="normal" fill="#231f20" textLength="13.31" lengthAdjust="spacingAndGlyphs">100</text>
<line x1="429.59999999999997" y1="509.225" x2="432.9" y2="509.225" stroke="#1c1c1c" stroke-width="1.0"/>
<text x="427.9" y="512.075" font-size="8.4" text-anchor="end" font-weight="normal" font-style="normal" fill="#231f20" textLength="13.31" lengthAdjust="spacingAndGlyphs">150</text>
<line x1="446.3" y1="608.75" x2="446.3" y2="611.95" stroke="#1c1c1c" stroke-width="1.0"/>
<line x1="466.2" y1="608.75" x2="466.2" y2="611.95" stroke="#1c1c1c" stroke-width="1.0"/>
<line x1="486" y1="608.75" x2="486" y2="611.95" stroke="#1c1c1c" stroke-width="1.0"/>
<text x="0" y="0" transform="translate(408.6,602.5) rotate(-90)" font-size="10.4" text-anchor="start" font-weight="normal" font-style="normal" fill="#231f20" textLength="87.7" lengthAdjust="spacingAndGlyphs">DNA release (relative AUC)</text>
<line x1="440.7" y1="542.4" x2="451.7" y2="542.4" stroke="#5c1a7a" stroke-width="0.6"/>
<ellipse cx="440.7" cy="542.4" rx="1.8" ry="1.8" transform="rotate(0 440.7 542.4)" fill="#5c1a7a" stroke="none" stroke-width="0.6" opacity="1"/>
<ellipse cx="451.7" cy="542.4" rx="1.8" ry="1.8" transform="rotate(0 451.7 542.4)" fill="#5c1a7a" stroke="none" stroke-width="0.6" opacity="1"/>
<line x1="481" y1="565.7" x2="491.6" y2="565.7" stroke="#5c1a7a" stroke-width="0.9"/>
<ellipse cx="481.0" cy="565.7" rx="1.8" ry="1.8" transform="rotate(0 481.0 565.7)" fill="#5c1a7a" stroke="none" stroke-width="0.6" opacity="1"/>
<ellipse cx="491.6" cy="565.7" rx="1.8" ry="1.8" transform="rotate(0 491.6 565.7)" fill="#5c1a7a" stroke="none" stroke-width="0.6" opacity="1"/>
<path d="M463.0 580.9 H469.4 L463.0 589.3 H469.4 Z" fill="#5c1a7a" stroke="#5c1a7a" stroke-width="0.8" stroke-linejoin="round"/>
<rect x="469.50" y="520.80" width="4.30" height="4.30" fill="#5c1a7a"/>
<text x="477.2" y="525.6" font-size="8.4" text-anchor="start" font-weight="normal" font-style="italic" fill="#231f20" textLength="35.8" lengthAdjust="spacingAndGlyphs" stroke="#231f20" stroke-width="0.22">C. albicans</text>
<text x="0" y="0" transform="translate(451.2,616.9000000000001) rotate(-45)" font-size="7.7" text-anchor="end" font-weight="normal" font-style="normal" fill="#231f20" textLength="26" lengthAdjust="spacingAndGlyphs" stroke="#231f20" stroke-width="0.22">Vehicle</text>
<text x="0" y="0" transform="translate(471.3,616.9000000000001) rotate(-45)" font-size="7.7" text-anchor="end" font-weight="normal" font-style="normal" fill="#231f20" textLength="53.5" lengthAdjust="spacingAndGlyphs" stroke="#231f20" stroke-width="0.22">pa-bleb 50 µM</text>
<text x="0" y="0" transform="translate(491.6,616.9000000000001) rotate(-45)" font-size="7.7" text-anchor="end" font-weight="normal" font-style="normal" fill="#231f20" textLength="53.5" lengthAdjust="spacingAndGlyphs" stroke="#231f20" stroke-width="0.22">pa-bleb 25 µM</text>
<!--/PANELS-->
<rect x="0" y="0" width="520" height="1" fill="#000"/><rect x="0" y="0" width="1" height="662" fill="#000"/><rect x="518.8" y="0" width="1.2" height="662" fill="#000"/><rect x="0" y="660.7" width="520" height="1.3" fill="#000"/>
</svg>
</body></html>
